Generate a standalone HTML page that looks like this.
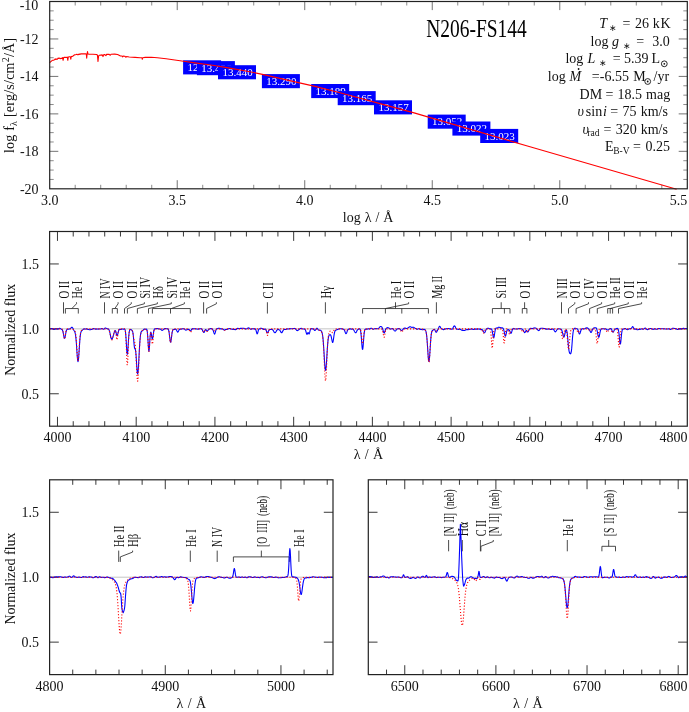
<!DOCTYPE html>
<html><head><meta charset="utf-8"><title>N206-FS144</title>
<style>html,body{margin:0;padding:0;background:#fff;}svg{display:block}</style></head>
<body><svg width="689" height="712" viewBox="0 0 689 712">
<rect width="689" height="712" fill="#fff"/>
<g opacity="0.999">
<line x1="75.20" y1="188.80" x2="75.20" y2="184.80" stroke="#666" stroke-width="0.75" />
<line x1="75.20" y1="1.50" x2="75.20" y2="5.50" stroke="#666" stroke-width="0.75" />
<line x1="100.71" y1="188.80" x2="100.71" y2="184.80" stroke="#666" stroke-width="0.75" />
<line x1="100.71" y1="1.50" x2="100.71" y2="5.50" stroke="#666" stroke-width="0.75" />
<line x1="126.21" y1="188.80" x2="126.21" y2="184.80" stroke="#666" stroke-width="0.75" />
<line x1="126.21" y1="1.50" x2="126.21" y2="5.50" stroke="#666" stroke-width="0.75" />
<line x1="151.72" y1="188.80" x2="151.72" y2="184.80" stroke="#666" stroke-width="0.75" />
<line x1="151.72" y1="1.50" x2="151.72" y2="5.50" stroke="#666" stroke-width="0.75" />
<line x1="177.22" y1="188.80" x2="177.22" y2="180.20" stroke="#444" stroke-width="0.75" />
<line x1="177.22" y1="1.50" x2="177.22" y2="10.10" stroke="#444" stroke-width="0.75" />
<line x1="202.72" y1="188.80" x2="202.72" y2="184.80" stroke="#666" stroke-width="0.75" />
<line x1="202.72" y1="1.50" x2="202.72" y2="5.50" stroke="#666" stroke-width="0.75" />
<line x1="228.23" y1="188.80" x2="228.23" y2="184.80" stroke="#666" stroke-width="0.75" />
<line x1="228.23" y1="1.50" x2="228.23" y2="5.50" stroke="#666" stroke-width="0.75" />
<line x1="253.73" y1="188.80" x2="253.73" y2="184.80" stroke="#666" stroke-width="0.75" />
<line x1="253.73" y1="1.50" x2="253.73" y2="5.50" stroke="#666" stroke-width="0.75" />
<line x1="279.24" y1="188.80" x2="279.24" y2="184.80" stroke="#666" stroke-width="0.75" />
<line x1="279.24" y1="1.50" x2="279.24" y2="5.50" stroke="#666" stroke-width="0.75" />
<line x1="304.74" y1="188.80" x2="304.74" y2="180.20" stroke="#444" stroke-width="0.75" />
<line x1="304.74" y1="1.50" x2="304.74" y2="10.10" stroke="#444" stroke-width="0.75" />
<line x1="330.24" y1="188.80" x2="330.24" y2="184.80" stroke="#666" stroke-width="0.75" />
<line x1="330.24" y1="1.50" x2="330.24" y2="5.50" stroke="#666" stroke-width="0.75" />
<line x1="355.75" y1="188.80" x2="355.75" y2="184.80" stroke="#666" stroke-width="0.75" />
<line x1="355.75" y1="1.50" x2="355.75" y2="5.50" stroke="#666" stroke-width="0.75" />
<line x1="381.25" y1="188.80" x2="381.25" y2="184.80" stroke="#666" stroke-width="0.75" />
<line x1="381.25" y1="1.50" x2="381.25" y2="5.50" stroke="#666" stroke-width="0.75" />
<line x1="406.76" y1="188.80" x2="406.76" y2="184.80" stroke="#666" stroke-width="0.75" />
<line x1="406.76" y1="1.50" x2="406.76" y2="5.50" stroke="#666" stroke-width="0.75" />
<line x1="432.26" y1="188.80" x2="432.26" y2="180.20" stroke="#444" stroke-width="0.75" />
<line x1="432.26" y1="1.50" x2="432.26" y2="10.10" stroke="#444" stroke-width="0.75" />
<line x1="457.76" y1="188.80" x2="457.76" y2="184.80" stroke="#666" stroke-width="0.75" />
<line x1="457.76" y1="1.50" x2="457.76" y2="5.50" stroke="#666" stroke-width="0.75" />
<line x1="483.27" y1="188.80" x2="483.27" y2="184.80" stroke="#666" stroke-width="0.75" />
<line x1="483.27" y1="1.50" x2="483.27" y2="5.50" stroke="#666" stroke-width="0.75" />
<line x1="508.77" y1="188.80" x2="508.77" y2="184.80" stroke="#666" stroke-width="0.75" />
<line x1="508.77" y1="1.50" x2="508.77" y2="5.50" stroke="#666" stroke-width="0.75" />
<line x1="534.28" y1="188.80" x2="534.28" y2="184.80" stroke="#666" stroke-width="0.75" />
<line x1="534.28" y1="1.50" x2="534.28" y2="5.50" stroke="#666" stroke-width="0.75" />
<line x1="559.78" y1="188.80" x2="559.78" y2="180.20" stroke="#444" stroke-width="0.75" />
<line x1="559.78" y1="1.50" x2="559.78" y2="10.10" stroke="#444" stroke-width="0.75" />
<line x1="585.28" y1="188.80" x2="585.28" y2="184.80" stroke="#666" stroke-width="0.75" />
<line x1="585.28" y1="1.50" x2="585.28" y2="5.50" stroke="#666" stroke-width="0.75" />
<line x1="610.79" y1="188.80" x2="610.79" y2="184.80" stroke="#666" stroke-width="0.75" />
<line x1="610.79" y1="1.50" x2="610.79" y2="5.50" stroke="#666" stroke-width="0.75" />
<line x1="636.29" y1="188.80" x2="636.29" y2="184.80" stroke="#666" stroke-width="0.75" />
<line x1="636.29" y1="1.50" x2="636.29" y2="5.50" stroke="#666" stroke-width="0.75" />
<line x1="661.80" y1="188.80" x2="661.80" y2="184.80" stroke="#666" stroke-width="0.75" />
<line x1="661.80" y1="1.50" x2="661.80" y2="5.50" stroke="#666" stroke-width="0.75" />
<line x1="49.70" y1="10.87" x2="53.70" y2="10.87" stroke="#666" stroke-width="0.75" />
<line x1="687.30" y1="10.87" x2="683.30" y2="10.87" stroke="#666" stroke-width="0.75" />
<line x1="49.70" y1="20.23" x2="53.70" y2="20.23" stroke="#666" stroke-width="0.75" />
<line x1="687.30" y1="20.23" x2="683.30" y2="20.23" stroke="#666" stroke-width="0.75" />
<line x1="49.70" y1="29.60" x2="53.70" y2="29.60" stroke="#666" stroke-width="0.75" />
<line x1="687.30" y1="29.60" x2="683.30" y2="29.60" stroke="#666" stroke-width="0.75" />
<line x1="49.70" y1="38.96" x2="58.30" y2="38.96" stroke="#444" stroke-width="0.75" />
<line x1="687.30" y1="38.96" x2="678.70" y2="38.96" stroke="#444" stroke-width="0.75" />
<line x1="49.70" y1="48.33" x2="53.70" y2="48.33" stroke="#666" stroke-width="0.75" />
<line x1="687.30" y1="48.33" x2="683.30" y2="48.33" stroke="#666" stroke-width="0.75" />
<line x1="49.70" y1="57.69" x2="53.70" y2="57.69" stroke="#666" stroke-width="0.75" />
<line x1="687.30" y1="57.69" x2="683.30" y2="57.69" stroke="#666" stroke-width="0.75" />
<line x1="49.70" y1="67.06" x2="53.70" y2="67.06" stroke="#666" stroke-width="0.75" />
<line x1="687.30" y1="67.06" x2="683.30" y2="67.06" stroke="#666" stroke-width="0.75" />
<line x1="49.70" y1="76.42" x2="58.30" y2="76.42" stroke="#444" stroke-width="0.75" />
<line x1="687.30" y1="76.42" x2="678.70" y2="76.42" stroke="#444" stroke-width="0.75" />
<line x1="49.70" y1="85.78" x2="53.70" y2="85.78" stroke="#666" stroke-width="0.75" />
<line x1="687.30" y1="85.78" x2="683.30" y2="85.78" stroke="#666" stroke-width="0.75" />
<line x1="49.70" y1="95.15" x2="53.70" y2="95.15" stroke="#666" stroke-width="0.75" />
<line x1="687.30" y1="95.15" x2="683.30" y2="95.15" stroke="#666" stroke-width="0.75" />
<line x1="49.70" y1="104.52" x2="53.70" y2="104.52" stroke="#666" stroke-width="0.75" />
<line x1="687.30" y1="104.52" x2="683.30" y2="104.52" stroke="#666" stroke-width="0.75" />
<line x1="49.70" y1="113.88" x2="58.30" y2="113.88" stroke="#444" stroke-width="0.75" />
<line x1="687.30" y1="113.88" x2="678.70" y2="113.88" stroke="#444" stroke-width="0.75" />
<line x1="49.70" y1="123.25" x2="53.70" y2="123.25" stroke="#666" stroke-width="0.75" />
<line x1="687.30" y1="123.25" x2="683.30" y2="123.25" stroke="#666" stroke-width="0.75" />
<line x1="49.70" y1="132.61" x2="53.70" y2="132.61" stroke="#666" stroke-width="0.75" />
<line x1="687.30" y1="132.61" x2="683.30" y2="132.61" stroke="#666" stroke-width="0.75" />
<line x1="49.70" y1="141.97" x2="53.70" y2="141.97" stroke="#666" stroke-width="0.75" />
<line x1="687.30" y1="141.97" x2="683.30" y2="141.97" stroke="#666" stroke-width="0.75" />
<line x1="49.70" y1="151.34" x2="58.30" y2="151.34" stroke="#444" stroke-width="0.75" />
<line x1="687.30" y1="151.34" x2="678.70" y2="151.34" stroke="#444" stroke-width="0.75" />
<line x1="49.70" y1="160.71" x2="53.70" y2="160.71" stroke="#666" stroke-width="0.75" />
<line x1="687.30" y1="160.71" x2="683.30" y2="160.71" stroke="#666" stroke-width="0.75" />
<line x1="49.70" y1="170.07" x2="53.70" y2="170.07" stroke="#666" stroke-width="0.75" />
<line x1="687.30" y1="170.07" x2="683.30" y2="170.07" stroke="#666" stroke-width="0.75" />
<line x1="49.70" y1="179.44" x2="53.70" y2="179.44" stroke="#666" stroke-width="0.75" />
<line x1="687.30" y1="179.44" x2="683.30" y2="179.44" stroke="#666" stroke-width="0.75" />
<text x="49.70" y="204.70" font-size="14" text-anchor="middle" fill="#111" font-family="Liberation Serif, serif" >3.0</text>
<text x="177.22" y="204.70" font-size="14" text-anchor="middle" fill="#111" font-family="Liberation Serif, serif" >3.5</text>
<text x="304.74" y="204.70" font-size="14" text-anchor="middle" fill="#111" font-family="Liberation Serif, serif" >4.0</text>
<text x="432.26" y="204.70" font-size="14" text-anchor="middle" fill="#111" font-family="Liberation Serif, serif" >4.5</text>
<text x="559.78" y="204.70" font-size="14" text-anchor="middle" fill="#111" font-family="Liberation Serif, serif" >5.0</text>
<text x="687.20" y="204.70" font-size="14" text-anchor="end" fill="#111" font-family="Liberation Serif, serif" >5.5</text>
<text x="38.60" y="43.66" font-size="14" text-anchor="end" fill="#111" font-family="Liberation Serif, serif" >-12</text>
<text x="38.60" y="81.12" font-size="14" text-anchor="end" fill="#111" font-family="Liberation Serif, serif" >-14</text>
<text x="38.60" y="118.58" font-size="14" text-anchor="end" fill="#111" font-family="Liberation Serif, serif" >-16</text>
<text x="38.60" y="156.04" font-size="14" text-anchor="end" fill="#111" font-family="Liberation Serif, serif" >-18</text>
<text x="38.60" y="193.50" font-size="14" text-anchor="end" fill="#111" font-family="Liberation Serif, serif" >-20</text>
<text x="38.30" y="10.00" font-size="14" text-anchor="end" fill="#111" font-family="Liberation Serif, serif" >-10</text>
<text x="368.10" y="222.20" font-size="14" text-anchor="middle" fill="#111" font-family="Liberation Serif, serif" word-spacing="0.5">log λ / Å</text>
<text transform="translate(14.3,153.1) rotate(-90)" font-size="14" fill="#111" font-family="Liberation Serif, serif" textLength="115.2" lengthAdjust="spacing">log f<tspan font-size="10" dy="3">λ</tspan><tspan dy="-3"> [erg/s/cm</tspan><tspan font-size="10" dy="-5">2</tspan><tspan dy="5">/Å]</tspan></text>
<rect x="183.10" y="60.30" width="38" height="14.1" fill="#0000ff"/>
<text x="187.50" y="70.90" font-size="11" text-anchor="start" fill="#fff" font-family="Liberation Serif, serif" >12.930</text>
<rect x="196.90" y="61.10" width="38" height="14.1" fill="#0000ff"/>
<text x="201.30" y="71.70" font-size="11" text-anchor="start" fill="#fff" font-family="Liberation Serif, serif" >13.456</text>
<rect x="218.00" y="65.20" width="38" height="14.1" fill="#0000ff"/>
<text x="222.40" y="75.80" font-size="11" text-anchor="start" fill="#fff" font-family="Liberation Serif, serif" >13.440</text>
<rect x="261.90" y="74.10" width="38" height="14.1" fill="#0000ff"/>
<text x="266.30" y="84.70" font-size="11" text-anchor="start" fill="#fff" font-family="Liberation Serif, serif" >13.290</text>
<rect x="311.20" y="84.00" width="38" height="14.1" fill="#0000ff"/>
<text x="315.60" y="94.60" font-size="11" text-anchor="start" fill="#fff" font-family="Liberation Serif, serif" >13.189</text>
<rect x="337.70" y="91.10" width="38" height="14.1" fill="#0000ff"/>
<text x="342.10" y="101.70" font-size="11" text-anchor="start" fill="#fff" font-family="Liberation Serif, serif" >13.165</text>
<rect x="374.00" y="100.30" width="38" height="14.1" fill="#0000ff"/>
<text x="378.40" y="110.90" font-size="11" text-anchor="start" fill="#fff" font-family="Liberation Serif, serif" >13.157</text>
<rect x="427.70" y="114.60" width="38" height="14.1" fill="#0000ff"/>
<text x="432.10" y="125.20" font-size="11" text-anchor="start" fill="#fff" font-family="Liberation Serif, serif" >13.052</text>
<rect x="452.40" y="121.50" width="38" height="14.1" fill="#0000ff"/>
<text x="456.80" y="132.10" font-size="11" text-anchor="start" fill="#fff" font-family="Liberation Serif, serif" >13.022</text>
<rect x="480.20" y="128.90" width="38" height="14.1" fill="#0000ff"/>
<text x="484.60" y="139.50" font-size="11" text-anchor="start" fill="#fff" font-family="Liberation Serif, serif" >13.023</text>
<path d="M49.4,62.9 L52.3,60.3 L53.0,60.3 L53.8,60.1 L54.5,59.8 L55.2,58.9 L55.9,59.5 L56.6,59.1 L57.4,59.2 L58.1,58.1 L58.8,58.4 L59.5,58.1 L60.3,58.7 L61.0,58.3 L61.8,58.5 L62.6,57.7 L63.1,60.3 L63.6,57.6 L64.5,57.4 L65.3,57.4 L66.3,57.5 L67.3,57.1 L67.8,60.3 L68.3,57.0 L69.3,56.8 L70.3,56.7 L70.8,59.2 L71.3,56.5 L72.2,56.4 L73.1,56.0 L74.0,55.2 L74.7,54.7 L75.5,54.7 L76.2,54.5 L76.9,54.2 L77.6,54.8 L78.4,54.6 L79.1,54.0 L79.8,54.5 L80.6,53.8 L81.3,53.9 L85.6,53.8 L86.3,54.0 L86.7,58.1 L87.1,54.0 L87.5,51.6 L87.9,53.9 L88.5,54.1 L92.9,54.2 L96.5,54.5 L97.4,55.0 L98.0,61.5 L98.6,56.0 L99.4,55.2 L102.3,54.9 L103.0,56.6 L103.6,54.8 L104.5,54.5 L105.9,55.6 L106.6,54.4 L108.9,54.2 L110.3,55.2 L111.0,54.2 L114.7,54.1 L117.6,54.5 L120.5,56.0 L122.0,56.0 L122.6,56.9 L123.2,56.1 L124.8,56.3 L126.0,57.2 L126.6,56.5 L129.2,57.0 L135.0,57.4 L140.0,57.8 L142.0,57.8 L142.3,59.3 L142.7,57.7 L145.2,57.4 L151.3,57.2 L157.4,57.7 L166.1,58.7 L174.8,60.0 L183.5,61.3 L195.0,62.9 L212.4,65.2 L229.8,68.1 L247.2,71.2 L264.7,74.9 L282.1,78.9 L299.5,82.9 L315.0,86.4 L340.0,92.8 L380.0,103.6 L415.0,113.1 L420.0,114.6 L530.0,146.8 L676.6,189.2" fill="none" stroke="#ff0000" stroke-width="1.1" stroke-linejoin="round"/>
<rect x="49.70" y="1.50" width="637.60" height="187.30" fill="none" stroke="#222" stroke-width="1.2"/>
<text x="426.30" y="37.00" font-size="26" text-anchor="start" fill="#000" font-family="Liberation Serif, serif" textLength="100.5" lengthAdjust="spacingAndGlyphs">N206-FS144</text>
<text x="599.30" y="27.70" font-size="14" fill="#111" font-family="Liberation Serif, serif" font-style="italic" >T</text>
<text x="609.00" y="30.70" font-size="9" fill="#111" font-family="Liberation Serif, serif" >∗</text>
<text x="622.40" y="27.70" font-size="14" fill="#111" font-family="Liberation Serif, serif" >=</text>
<text x="635.00" y="27.70" font-size="14" fill="#111" font-family="Liberation Serif, serif" >26</text>
<text x="652.80" y="27.70" font-size="14" fill="#111" font-family="Liberation Serif, serif" letter-spacing="0.7">kK</text>
<text x="590.60" y="45.60" font-size="14" fill="#111" font-family="Liberation Serif, serif" >log</text>
<text x="611.90" y="45.60" font-size="14" fill="#111" font-family="Liberation Serif, serif" font-style="italic" >g</text>
<text x="622.80" y="48.60" font-size="9" fill="#111" font-family="Liberation Serif, serif" >∗</text>
<text x="636.20" y="45.60" font-size="14" fill="#111" font-family="Liberation Serif, serif" >=</text>
<text x="652.20" y="45.60" font-size="14" fill="#111" font-family="Liberation Serif, serif" >3.0</text>
<text x="565.40" y="63.20" font-size="14" fill="#111" font-family="Liberation Serif, serif" >log</text>
<text x="587.50" y="63.20" font-size="14" fill="#111" font-family="Liberation Serif, serif" font-style="italic" >L</text>
<text x="599.20" y="66.20" font-size="9" fill="#111" font-family="Liberation Serif, serif" >∗</text>
<text x="612.80" y="63.20" font-size="14" fill="#111" font-family="Liberation Serif, serif" >=</text>
<text x="624.00" y="63.20" font-size="14" fill="#111" font-family="Liberation Serif, serif" >5.39</text>
<text x="651.40" y="63.20" font-size="14" fill="#111" font-family="Liberation Serif, serif" >L</text>
<circle cx="664.30" cy="63.80" r="2.9" fill="none" stroke="#111" stroke-width="0.9"/><circle cx="664.30" cy="63.80" r="0.9" fill="#111"/>
<text x="547.80" y="80.90" font-size="14" fill="#111" font-family="Liberation Serif, serif" >log</text>
<text x="569.60" y="80.90" font-size="14" fill="#111" font-family="Liberation Serif, serif" font-style="italic" >M</text>
<circle cx="578.6" cy="69.0" r="0.9" fill="#111"/>
<text x="591.80" y="80.90" font-size="14" fill="#111" font-family="Liberation Serif, serif" >=</text>
<text x="599.80" y="80.90" font-size="14" fill="#111" font-family="Liberation Serif, serif" >-6.55</text>
<text x="633.20" y="80.90" font-size="14" fill="#111" font-family="Liberation Serif, serif" >M</text>
<circle cx="647.70" cy="81.50" r="2.9" fill="none" stroke="#111" stroke-width="0.9"/><circle cx="647.70" cy="81.50" r="0.9" fill="#111"/>
<text x="653.50" y="80.90" font-size="14" fill="#111" font-family="Liberation Serif, serif" >/yr</text>
<text x="579.60" y="98.60" font-size="14" fill="#111" font-family="Liberation Serif, serif" >DM</text>
<text x="605.50" y="98.60" font-size="14" fill="#111" font-family="Liberation Serif, serif" >=</text>
<text x="617.50" y="98.60" font-size="14" fill="#111" font-family="Liberation Serif, serif" >18.5</text>
<text x="646.10" y="98.60" font-size="14" fill="#111" font-family="Liberation Serif, serif" >mag</text>
<text x="577.40" y="115.70" font-size="14" fill="#111" font-family="Liberation Serif, serif" font-style="italic" >υ</text>
<text x="585.80" y="115.70" font-size="14" fill="#111" font-family="Liberation Serif, serif" >sin</text>
<text x="603.00" y="115.70" font-size="14" fill="#111" font-family="Liberation Serif, serif" font-style="italic" >i</text>
<text x="610.30" y="115.70" font-size="14" fill="#111" font-family="Liberation Serif, serif" >=</text>
<text x="622.40" y="115.70" font-size="14" fill="#111" font-family="Liberation Serif, serif" >75</text>
<text x="640.70" y="115.70" font-size="14" fill="#111" font-family="Liberation Serif, serif" >km/s</text>
<text x="582.50" y="133.60" font-size="14" fill="#111" font-family="Liberation Serif, serif" font-style="italic" >υ</text>
<text x="587.30" y="136.10" font-size="9.5" fill="#111" font-family="Liberation Serif, serif" >rad</text>
<text x="603.40" y="133.60" font-size="14" fill="#111" font-family="Liberation Serif, serif" >=</text>
<text x="615.70" y="133.60" font-size="14" fill="#111" font-family="Liberation Serif, serif" >320</text>
<text x="640.70" y="133.60" font-size="14" fill="#111" font-family="Liberation Serif, serif" >km/s</text>
<text x="604.90" y="151.10" font-size="14" fill="#111" font-family="Liberation Serif, serif" >E</text>
<text x="613.20" y="153.60" font-size="9.5" fill="#111" font-family="Liberation Serif, serif" >B-V</text>
<text x="633.10" y="151.10" font-size="14" fill="#111" font-family="Liberation Serif, serif" >=</text>
<text x="645.50" y="151.10" font-size="14" fill="#111" font-family="Liberation Serif, serif" >0.25</text>
<clipPath id="cpm"><rect x="49.6" y="231.5" width="637.6999999999999" height="194.7"/></clipPath>
<line x1="49.60" y1="328.85" x2="687.30" y2="328.85" stroke="#bdbdbd" stroke-width="0.9" />
<line x1="57.47" y1="426.20" x2="57.47" y2="416.80" stroke="#222" stroke-width="0.9" />
<line x1="57.47" y1="231.50" x2="57.47" y2="240.90" stroke="#222" stroke-width="0.9" />
<line x1="73.22" y1="426.20" x2="73.22" y2="421.20" stroke="#222" stroke-width="0.9" />
<line x1="73.22" y1="231.50" x2="73.22" y2="236.50" stroke="#222" stroke-width="0.9" />
<line x1="88.96" y1="426.20" x2="88.96" y2="421.20" stroke="#222" stroke-width="0.9" />
<line x1="88.96" y1="231.50" x2="88.96" y2="236.50" stroke="#222" stroke-width="0.9" />
<line x1="104.71" y1="426.20" x2="104.71" y2="421.20" stroke="#222" stroke-width="0.9" />
<line x1="104.71" y1="231.50" x2="104.71" y2="236.50" stroke="#222" stroke-width="0.9" />
<line x1="120.46" y1="426.20" x2="120.46" y2="421.20" stroke="#222" stroke-width="0.9" />
<line x1="120.46" y1="231.50" x2="120.46" y2="236.50" stroke="#222" stroke-width="0.9" />
<line x1="136.20" y1="426.20" x2="136.20" y2="416.80" stroke="#222" stroke-width="0.9" />
<line x1="136.20" y1="231.50" x2="136.20" y2="240.90" stroke="#222" stroke-width="0.9" />
<line x1="151.95" y1="426.20" x2="151.95" y2="421.20" stroke="#222" stroke-width="0.9" />
<line x1="151.95" y1="231.50" x2="151.95" y2="236.50" stroke="#222" stroke-width="0.9" />
<line x1="167.69" y1="426.20" x2="167.69" y2="421.20" stroke="#222" stroke-width="0.9" />
<line x1="167.69" y1="231.50" x2="167.69" y2="236.50" stroke="#222" stroke-width="0.9" />
<line x1="183.44" y1="426.20" x2="183.44" y2="421.20" stroke="#222" stroke-width="0.9" />
<line x1="183.44" y1="231.50" x2="183.44" y2="236.50" stroke="#222" stroke-width="0.9" />
<line x1="199.18" y1="426.20" x2="199.18" y2="421.20" stroke="#222" stroke-width="0.9" />
<line x1="199.18" y1="231.50" x2="199.18" y2="236.50" stroke="#222" stroke-width="0.9" />
<line x1="214.93" y1="426.20" x2="214.93" y2="416.80" stroke="#222" stroke-width="0.9" />
<line x1="214.93" y1="231.50" x2="214.93" y2="240.90" stroke="#222" stroke-width="0.9" />
<line x1="230.68" y1="426.20" x2="230.68" y2="421.20" stroke="#222" stroke-width="0.9" />
<line x1="230.68" y1="231.50" x2="230.68" y2="236.50" stroke="#222" stroke-width="0.9" />
<line x1="246.42" y1="426.20" x2="246.42" y2="421.20" stroke="#222" stroke-width="0.9" />
<line x1="246.42" y1="231.50" x2="246.42" y2="236.50" stroke="#222" stroke-width="0.9" />
<line x1="262.17" y1="426.20" x2="262.17" y2="421.20" stroke="#222" stroke-width="0.9" />
<line x1="262.17" y1="231.50" x2="262.17" y2="236.50" stroke="#222" stroke-width="0.9" />
<line x1="277.91" y1="426.20" x2="277.91" y2="421.20" stroke="#222" stroke-width="0.9" />
<line x1="277.91" y1="231.50" x2="277.91" y2="236.50" stroke="#222" stroke-width="0.9" />
<line x1="293.66" y1="426.20" x2="293.66" y2="416.80" stroke="#222" stroke-width="0.9" />
<line x1="293.66" y1="231.50" x2="293.66" y2="240.90" stroke="#222" stroke-width="0.9" />
<line x1="309.40" y1="426.20" x2="309.40" y2="421.20" stroke="#222" stroke-width="0.9" />
<line x1="309.40" y1="231.50" x2="309.40" y2="236.50" stroke="#222" stroke-width="0.9" />
<line x1="325.15" y1="426.20" x2="325.15" y2="421.20" stroke="#222" stroke-width="0.9" />
<line x1="325.15" y1="231.50" x2="325.15" y2="236.50" stroke="#222" stroke-width="0.9" />
<line x1="340.90" y1="426.20" x2="340.90" y2="421.20" stroke="#222" stroke-width="0.9" />
<line x1="340.90" y1="231.50" x2="340.90" y2="236.50" stroke="#222" stroke-width="0.9" />
<line x1="356.64" y1="426.20" x2="356.64" y2="421.20" stroke="#222" stroke-width="0.9" />
<line x1="356.64" y1="231.50" x2="356.64" y2="236.50" stroke="#222" stroke-width="0.9" />
<line x1="372.39" y1="426.20" x2="372.39" y2="416.80" stroke="#222" stroke-width="0.9" />
<line x1="372.39" y1="231.50" x2="372.39" y2="240.90" stroke="#222" stroke-width="0.9" />
<line x1="388.13" y1="426.20" x2="388.13" y2="421.20" stroke="#222" stroke-width="0.9" />
<line x1="388.13" y1="231.50" x2="388.13" y2="236.50" stroke="#222" stroke-width="0.9" />
<line x1="403.88" y1="426.20" x2="403.88" y2="421.20" stroke="#222" stroke-width="0.9" />
<line x1="403.88" y1="231.50" x2="403.88" y2="236.50" stroke="#222" stroke-width="0.9" />
<line x1="419.62" y1="426.20" x2="419.62" y2="421.20" stroke="#222" stroke-width="0.9" />
<line x1="419.62" y1="231.50" x2="419.62" y2="236.50" stroke="#222" stroke-width="0.9" />
<line x1="435.37" y1="426.20" x2="435.37" y2="421.20" stroke="#222" stroke-width="0.9" />
<line x1="435.37" y1="231.50" x2="435.37" y2="236.50" stroke="#222" stroke-width="0.9" />
<line x1="451.11" y1="426.20" x2="451.11" y2="416.80" stroke="#222" stroke-width="0.9" />
<line x1="451.11" y1="231.50" x2="451.11" y2="240.90" stroke="#222" stroke-width="0.9" />
<line x1="466.86" y1="426.20" x2="466.86" y2="421.20" stroke="#222" stroke-width="0.9" />
<line x1="466.86" y1="231.50" x2="466.86" y2="236.50" stroke="#222" stroke-width="0.9" />
<line x1="482.61" y1="426.20" x2="482.61" y2="421.20" stroke="#222" stroke-width="0.9" />
<line x1="482.61" y1="231.50" x2="482.61" y2="236.50" stroke="#222" stroke-width="0.9" />
<line x1="498.35" y1="426.20" x2="498.35" y2="421.20" stroke="#222" stroke-width="0.9" />
<line x1="498.35" y1="231.50" x2="498.35" y2="236.50" stroke="#222" stroke-width="0.9" />
<line x1="514.10" y1="426.20" x2="514.10" y2="421.20" stroke="#222" stroke-width="0.9" />
<line x1="514.10" y1="231.50" x2="514.10" y2="236.50" stroke="#222" stroke-width="0.9" />
<line x1="529.84" y1="426.20" x2="529.84" y2="416.80" stroke="#222" stroke-width="0.9" />
<line x1="529.84" y1="231.50" x2="529.84" y2="240.90" stroke="#222" stroke-width="0.9" />
<line x1="545.59" y1="426.20" x2="545.59" y2="421.20" stroke="#222" stroke-width="0.9" />
<line x1="545.59" y1="231.50" x2="545.59" y2="236.50" stroke="#222" stroke-width="0.9" />
<line x1="561.33" y1="426.20" x2="561.33" y2="421.20" stroke="#222" stroke-width="0.9" />
<line x1="561.33" y1="231.50" x2="561.33" y2="236.50" stroke="#222" stroke-width="0.9" />
<line x1="577.08" y1="426.20" x2="577.08" y2="421.20" stroke="#222" stroke-width="0.9" />
<line x1="577.08" y1="231.50" x2="577.08" y2="236.50" stroke="#222" stroke-width="0.9" />
<line x1="592.83" y1="426.20" x2="592.83" y2="421.20" stroke="#222" stroke-width="0.9" />
<line x1="592.83" y1="231.50" x2="592.83" y2="236.50" stroke="#222" stroke-width="0.9" />
<line x1="608.57" y1="426.20" x2="608.57" y2="416.80" stroke="#222" stroke-width="0.9" />
<line x1="608.57" y1="231.50" x2="608.57" y2="240.90" stroke="#222" stroke-width="0.9" />
<line x1="624.32" y1="426.20" x2="624.32" y2="421.20" stroke="#222" stroke-width="0.9" />
<line x1="624.32" y1="231.50" x2="624.32" y2="236.50" stroke="#222" stroke-width="0.9" />
<line x1="640.06" y1="426.20" x2="640.06" y2="421.20" stroke="#222" stroke-width="0.9" />
<line x1="640.06" y1="231.50" x2="640.06" y2="236.50" stroke="#222" stroke-width="0.9" />
<line x1="655.81" y1="426.20" x2="655.81" y2="421.20" stroke="#222" stroke-width="0.9" />
<line x1="655.81" y1="231.50" x2="655.81" y2="236.50" stroke="#222" stroke-width="0.9" />
<line x1="671.55" y1="426.20" x2="671.55" y2="421.20" stroke="#222" stroke-width="0.9" />
<line x1="671.55" y1="231.50" x2="671.55" y2="236.50" stroke="#222" stroke-width="0.9" />
<line x1="49.60" y1="393.75" x2="58.80" y2="393.75" stroke="#222" stroke-width="0.9" />
<line x1="687.30" y1="393.75" x2="678.10" y2="393.75" stroke="#222" stroke-width="0.9" />
<text x="39.00" y="398.75" font-size="14" text-anchor="end" fill="#111" font-family="Liberation Serif, serif" >0.5</text>
<line x1="49.60" y1="328.85" x2="58.80" y2="328.85" stroke="#222" stroke-width="0.9" />
<line x1="687.30" y1="328.85" x2="678.10" y2="328.85" stroke="#222" stroke-width="0.9" />
<text x="39.00" y="333.85" font-size="14" text-anchor="end" fill="#111" font-family="Liberation Serif, serif" >1.0</text>
<line x1="49.60" y1="263.95" x2="58.80" y2="263.95" stroke="#222" stroke-width="0.9" />
<line x1="687.30" y1="263.95" x2="678.10" y2="263.95" stroke="#222" stroke-width="0.9" />
<text x="39.00" y="268.95" font-size="14" text-anchor="end" fill="#111" font-family="Liberation Serif, serif" >1.5</text>
<text x="57.47" y="442.40" font-size="14" text-anchor="middle" fill="#111" font-family="Liberation Serif, serif" >4000</text>
<text x="136.20" y="442.40" font-size="14" text-anchor="middle" fill="#111" font-family="Liberation Serif, serif" >4100</text>
<text x="214.93" y="442.40" font-size="14" text-anchor="middle" fill="#111" font-family="Liberation Serif, serif" >4200</text>
<text x="293.66" y="442.40" font-size="14" text-anchor="middle" fill="#111" font-family="Liberation Serif, serif" >4300</text>
<text x="372.39" y="442.40" font-size="14" text-anchor="middle" fill="#111" font-family="Liberation Serif, serif" >4400</text>
<text x="451.11" y="442.40" font-size="14" text-anchor="middle" fill="#111" font-family="Liberation Serif, serif" >4500</text>
<text x="529.84" y="442.40" font-size="14" text-anchor="middle" fill="#111" font-family="Liberation Serif, serif" >4600</text>
<text x="608.57" y="442.40" font-size="14" text-anchor="middle" fill="#111" font-family="Liberation Serif, serif" >4700</text>
<text x="687.40" y="442.40" font-size="14" text-anchor="end" fill="#111" font-family="Liberation Serif, serif" >4800</text>
<text x="368.45" y="459.20" font-size="14" text-anchor="middle" fill="#111" font-family="Liberation Serif, serif" word-spacing="0.85">λ / Å</text>
<path d="M63.50,313.55 L63.50,302.25" fill="none" stroke="#2a2a2a" stroke-width="0.85" stroke-linejoin="miter"/>
<text transform="translate(68.70,298.55) rotate(-90) scale(0.7855,1)" font-size="13.6" fill="#111" font-family="Liberation Serif, serif" word-spacing="0">O II</text>
<path d="M65.40,313.55 L65.40,308.55 L78.30,308.55 L78.30,313.55" fill="none" stroke="#2a2a2a" stroke-width="0.85" stroke-linejoin="miter"/>
<path d="M71.85,308.55 L76.50,303.75 L76.50,302.25" fill="none" stroke="#2a2a2a" stroke-width="0.85" stroke-linejoin="miter"/>
<text transform="translate(81.70,298.55) rotate(-90) scale(0.7399,1)" font-size="13.6" fill="#111" font-family="Liberation Serif, serif" word-spacing="0">He I</text>
<path d="M104.50,313.55 L104.50,302.25" fill="none" stroke="#2a2a2a" stroke-width="0.85" stroke-linejoin="miter"/>
<text transform="translate(109.70,298.55) rotate(-90) scale(0.7290,1)" font-size="13.6" fill="#111" font-family="Liberation Serif, serif" word-spacing="0">N IV</text>
<path d="M112.30,313.55 L112.30,308.55 L117.35,308.55 L117.35,313.55" fill="none" stroke="#2a2a2a" stroke-width="0.85" stroke-linejoin="miter"/>
<path d="M114.82,308.55 L118.10,303.75 L118.10,302.25" fill="none" stroke="#2a2a2a" stroke-width="0.85" stroke-linejoin="miter"/>
<text transform="translate(123.30,298.55) rotate(-90) scale(0.7855,1)" font-size="13.6" fill="#111" font-family="Liberation Serif, serif" word-spacing="0">O II</text>
<path d="M124.50,313.55 L124.50,308.55 L131.30,303.75 L131.30,302.25" fill="none" stroke="#2a2a2a" stroke-width="0.85" stroke-linejoin="miter"/>
<text transform="translate(136.50,298.55) rotate(-90) scale(0.7855,1)" font-size="13.6" fill="#111" font-family="Liberation Serif, serif" word-spacing="0">O II</text>
<path d="M127.40,313.55 L127.40,308.55 L144.40,303.75 L144.40,302.25" fill="none" stroke="#2a2a2a" stroke-width="0.85" stroke-linejoin="miter"/>
<text transform="translate(149.60,298.55) rotate(-90) scale(0.7425,1)" font-size="13.6" fill="#111" font-family="Liberation Serif, serif" word-spacing="0">Si IV</text>
<path d="M137.40,313.55 L137.40,308.55 L157.40,303.75 L157.40,302.25" fill="none" stroke="#2a2a2a" stroke-width="0.85" stroke-linejoin="miter"/>
<text transform="translate(162.60,298.55) rotate(-90) scale(0.7579,1)" font-size="13.6" fill="#111" font-family="Liberation Serif, serif" word-spacing="0">Hδ</text>
<path d="M148.50,313.55 L148.50,308.55 L171.30,303.75 L171.30,302.25" fill="none" stroke="#2a2a2a" stroke-width="0.85" stroke-linejoin="miter"/>
<text transform="translate(176.50,298.55) rotate(-90) scale(0.7425,1)" font-size="13.6" fill="#111" font-family="Liberation Serif, serif" word-spacing="0">Si IV</text>
<path d="M152.40,313.55 L152.40,308.55 L190.30,308.55 L190.30,313.55" fill="none" stroke="#2a2a2a" stroke-width="0.85" stroke-linejoin="miter"/>
<path d="M170.50,313.55 L170.50,308.55" fill="none" stroke="#2a2a2a" stroke-width="0.85" stroke-linejoin="miter"/>
<path d="M171.35,308.55 L184.40,303.75 L184.40,302.25" fill="none" stroke="#2a2a2a" stroke-width="0.85" stroke-linejoin="miter"/>
<text transform="translate(189.60,298.55) rotate(-90) scale(0.7399,1)" font-size="13.6" fill="#111" font-family="Liberation Serif, serif" word-spacing="0">He I</text>
<path d="M203.60,313.55 L203.60,302.25" fill="none" stroke="#2a2a2a" stroke-width="0.85" stroke-linejoin="miter"/>
<text transform="translate(208.80,298.55) rotate(-90) scale(0.7855,1)" font-size="13.6" fill="#111" font-family="Liberation Serif, serif" word-spacing="0">O II</text>
<path d="M206.60,313.55 L206.60,308.55 L216.40,303.75 L216.40,302.25" fill="none" stroke="#2a2a2a" stroke-width="0.85" stroke-linejoin="miter"/>
<text transform="translate(221.60,298.55) rotate(-90) scale(0.7855,1)" font-size="13.6" fill="#111" font-family="Liberation Serif, serif" word-spacing="0">O II</text>
<path d="M267.40,313.55 L267.40,302.25" fill="none" stroke="#2a2a2a" stroke-width="0.85" stroke-linejoin="miter"/>
<text transform="translate(272.60,298.55) rotate(-90) scale(0.7525,1)" font-size="13.6" fill="#111" font-family="Liberation Serif, serif" word-spacing="0">C II</text>
<path d="M325.40,313.55 L325.40,302.25" fill="none" stroke="#2a2a2a" stroke-width="0.85" stroke-linejoin="miter"/>
<text transform="translate(330.60,298.55) rotate(-90) scale(0.7896,1)" font-size="13.6" fill="#111" font-family="Liberation Serif, serif" word-spacing="0">Hγ</text>
<path d="M362.60,313.55 L362.60,308.55 L428.40,308.55 L428.40,313.55" fill="none" stroke="#2a2a2a" stroke-width="0.85" stroke-linejoin="miter"/>
<path d="M401.80,313.55 L401.80,308.55" fill="none" stroke="#2a2a2a" stroke-width="0.85" stroke-linejoin="miter"/>
<path d="M395.50,308.55 L395.50,302.25" fill="none" stroke="#2a2a2a" stroke-width="0.85" stroke-linejoin="miter"/>
<text transform="translate(400.70,298.55) rotate(-90) scale(0.7399,1)" font-size="13.6" fill="#111" font-family="Liberation Serif, serif" word-spacing="0">He I</text>
<path d="M385.40,313.55 L385.40,308.55 L408.60,303.75 L408.60,302.25" fill="none" stroke="#2a2a2a" stroke-width="0.85" stroke-linejoin="miter"/>
<text transform="translate(413.80,298.55) rotate(-90) scale(0.7855,1)" font-size="13.6" fill="#111" font-family="Liberation Serif, serif" word-spacing="0">O II</text>
<path d="M436.40,313.55 L436.40,302.25" fill="none" stroke="#2a2a2a" stroke-width="0.85" stroke-linejoin="miter"/>
<text transform="translate(441.60,298.55) rotate(-90) scale(0.7241,1)" font-size="13.6" fill="#111" font-family="Liberation Serif, serif" word-spacing="0">Mg II</text>
<path d="M492.40,313.55 L492.40,308.55 L510.00,308.55 L510.00,313.55" fill="none" stroke="#2a2a2a" stroke-width="0.85" stroke-linejoin="miter"/>
<path d="M504.40,313.55 L504.40,308.55" fill="none" stroke="#2a2a2a" stroke-width="0.85" stroke-linejoin="miter"/>
<path d="M501.20,308.55 L501.20,302.25" fill="none" stroke="#2a2a2a" stroke-width="0.85" stroke-linejoin="miter"/>
<text transform="translate(506.40,298.55) rotate(-90) scale(0.7625,1)" font-size="13.6" fill="#111" font-family="Liberation Serif, serif" word-spacing="0">Si III</text>
<path d="M522.30,313.55 L522.30,308.55 L526.90,308.55 L526.90,313.55" fill="none" stroke="#2a2a2a" stroke-width="0.85" stroke-linejoin="miter"/>
<path d="M524.60,308.55 L524.60,302.25" fill="none" stroke="#2a2a2a" stroke-width="0.85" stroke-linejoin="miter"/>
<text transform="translate(529.80,298.55) rotate(-90) scale(0.7855,1)" font-size="13.6" fill="#111" font-family="Liberation Serif, serif" word-spacing="0">O II</text>
<path d="M561.50,313.55 L561.50,302.25" fill="none" stroke="#2a2a2a" stroke-width="0.85" stroke-linejoin="miter"/>
<text transform="translate(566.70,298.55) rotate(-90) scale(0.7498,1)" font-size="13.6" fill="#111" font-family="Liberation Serif, serif" word-spacing="0">N III</text>
<path d="M568.50,313.55 L568.50,308.55 L574.80,303.75 L574.80,302.25" fill="none" stroke="#2a2a2a" stroke-width="0.85" stroke-linejoin="miter"/>
<text transform="translate(580.00,298.55) rotate(-90) scale(0.7855,1)" font-size="13.6" fill="#111" font-family="Liberation Serif, serif" word-spacing="0">O II</text>
<path d="M576.10,313.55 L576.10,308.55 L588.50,303.75 L588.50,302.25" fill="none" stroke="#2a2a2a" stroke-width="0.85" stroke-linejoin="miter"/>
<text transform="translate(593.70,298.55) rotate(-90) scale(0.7568,1)" font-size="13.6" fill="#111" font-family="Liberation Serif, serif" word-spacing="0">C IV</text>
<path d="M589.60,313.55 L589.60,308.55 L601.60,303.75 L601.60,302.25" fill="none" stroke="#2a2a2a" stroke-width="0.85" stroke-linejoin="miter"/>
<text transform="translate(606.80,298.55) rotate(-90) scale(0.7855,1)" font-size="13.6" fill="#111" font-family="Liberation Serif, serif" word-spacing="0">O II</text>
<path d="M597.30,313.55 L597.30,308.55 L614.70,303.75 L614.70,302.25" fill="none" stroke="#2a2a2a" stroke-width="0.85" stroke-linejoin="miter"/>
<text transform="translate(619.90,298.55) rotate(-90) scale(0.7522,1)" font-size="13.6" fill="#111" font-family="Liberation Serif, serif" word-spacing="0">He II</text>
<path d="M607.70,313.55 L607.70,308.55 L612.60,308.55 L612.60,313.55" fill="none" stroke="#2a2a2a" stroke-width="0.85" stroke-linejoin="miter"/>
<path d="M610.20,313.55 L610.20,308.55" fill="none" stroke="#2a2a2a" stroke-width="0.85" stroke-linejoin="miter"/>
<path d="M610.15,308.55 L628.30,303.75 L628.30,302.25" fill="none" stroke="#2a2a2a" stroke-width="0.85" stroke-linejoin="miter"/>
<text transform="translate(633.50,298.55) rotate(-90) scale(0.7855,1)" font-size="13.6" fill="#111" font-family="Liberation Serif, serif" word-spacing="0">O II</text>
<path d="M618.50,313.55 L618.50,308.55 L641.60,303.75 L641.60,302.25" fill="none" stroke="#2a2a2a" stroke-width="0.85" stroke-linejoin="miter"/>
<text transform="translate(646.80,298.55) rotate(-90) scale(0.7399,1)" font-size="13.6" fill="#111" font-family="Liberation Serif, serif" word-spacing="0">He I</text>
<path d="M49.60,328.69 L49.93,328.69 L50.26,328.67 L50.59,328.65 L50.92,328.65 L51.25,328.66 L51.58,328.69 L51.91,328.71 L52.24,328.75 L52.57,328.84 L52.90,329.02 L53.23,329.23 L53.56,329.38 L53.89,329.45 L54.22,329.43 L54.55,329.34 L54.88,329.19 L55.21,328.99 L55.54,328.81 L55.87,328.69 L56.20,328.68 L56.53,328.75 L56.86,328.86 L57.19,328.99 L57.52,329.09 L57.85,329.11 L58.18,329.03 L58.51,328.86 L58.84,328.65 L59.17,328.46 L59.50,328.35 L59.83,328.32 L60.16,328.42 L60.49,328.63 L60.82,328.92 L61.15,329.20 L61.48,329.39 L61.81,329.51 L62.14,329.66 L62.47,330.07 L62.80,330.95 L63.13,332.38 L63.46,334.22 L63.79,336.14 L64.12,337.67 L64.45,338.37 L64.78,338.05 L65.11,336.81 L65.44,335.03 L65.77,333.16 L66.10,331.58 L66.43,330.45 L66.76,329.77 L67.09,329.42 L67.42,329.28 L67.75,329.23 L68.08,329.21 L68.41,329.16 L68.74,329.11 L69.07,329.06 L69.40,329.03 L69.73,328.95 L70.06,328.79 L70.39,328.53 L70.72,328.19 L71.05,327.83 L71.38,327.53 L71.71,327.34 L72.04,327.33 L72.37,327.53 L72.70,327.98 L73.03,328.60 L73.36,329.30 L73.69,329.97 L74.02,330.55 L74.35,331.06 L74.68,331.64 L75.01,332.48 L75.34,333.80 L75.67,335.86 L76.00,338.84 L76.33,342.79 L76.66,347.53 L76.99,352.57 L77.32,357.13 L77.65,360.39 L77.98,361.69 L78.31,360.75 L78.64,357.78 L78.97,353.32 L79.30,348.19 L79.63,343.18 L79.96,338.89 L80.29,335.64 L80.62,333.44 L80.95,332.09 L81.28,331.30 L81.61,330.82 L81.94,330.49 L82.27,330.21 L82.60,329.94 L82.93,329.67 L83.26,329.38 L83.59,329.10 L83.92,328.92 L84.25,328.88 L84.58,328.95 L84.91,329.04 L85.24,329.08 L85.57,329.05 L85.90,328.97 L86.23,328.90 L86.56,328.90 L86.89,328.99 L87.22,329.14 L87.55,329.28 L87.88,329.35 L88.21,329.39 L88.54,329.44 L88.87,329.55 L89.20,329.68 L89.53,329.75 L89.86,329.76 L90.19,329.71 L90.52,329.62 L90.85,329.52 L91.18,329.43 L91.51,329.39 L91.84,329.36 L92.17,329.29 L92.50,329.12 L92.83,328.89 L93.16,328.67 L93.49,328.55 L93.82,328.57 L94.15,328.68 L94.48,328.83 L94.81,328.97 L95.14,329.06 L95.47,329.11 L95.80,329.12 L96.13,329.13 L96.46,329.11 L96.79,329.07 L97.12,329.04 L97.45,329.04 L97.78,329.08 L98.11,329.13 L98.44,329.12 L98.77,329.05 L99.10,328.96 L99.43,328.93 L99.76,328.99 L100.09,329.05 L100.42,329.03 L100.75,328.91 L101.08,328.73 L101.41,328.58 L101.74,328.52 L102.07,328.54 L102.40,328.65 L102.73,328.83 L103.06,329.06 L103.39,329.21 L103.72,329.19 L104.05,328.97 L104.38,328.63 L104.71,328.30 L105.04,328.09 L105.37,328.01 L105.70,328.04 L106.03,328.20 L106.36,328.39 L106.69,328.58 L107.02,328.70 L107.35,328.75 L107.68,328.80 L108.01,328.88 L108.34,329.05 L108.67,329.32 L109.00,329.81 L109.33,330.59 L109.66,331.76 L109.99,333.24 L110.32,334.91 L110.65,336.53 L110.98,337.88 L111.31,338.79 L111.64,339.20 L111.97,339.11 L112.30,338.59 L112.63,337.77 L112.96,336.77 L113.29,335.68 L113.62,334.54 L113.95,333.39 L114.28,332.28 L114.61,331.33 L114.94,330.70 L115.27,330.54 L115.60,330.96 L115.93,331.97 L116.26,333.37 L116.59,334.76 L116.92,335.64 L117.25,335.69 L117.58,334.91 L117.91,333.61 L118.24,332.20 L118.57,330.98 L118.90,330.07 L119.23,329.51 L119.56,329.26 L119.89,329.24 L120.22,329.36 L120.55,329.50 L120.88,329.56 L121.21,329.50 L121.54,329.35 L121.87,329.17 L122.20,329.04 L122.53,329.00 L122.86,329.05 L123.19,329.14 L123.52,329.21 L123.85,329.18 L124.18,329.05 L124.51,328.95 L124.84,329.16 L125.17,330.03 L125.50,331.99 L125.83,335.40 L126.16,340.28 L126.49,345.98 L126.82,351.18 L127.15,354.22 L127.48,354.07 L127.81,350.83 L128.14,345.71 L128.47,340.31 L128.80,335.83 L129.13,332.74 L129.46,330.92 L129.79,330.00 L130.12,329.57 L130.45,329.43 L130.78,329.44 L131.11,329.60 L131.44,329.86 L131.77,330.18 L132.10,330.54 L132.43,331.04 L132.76,331.97 L133.09,333.73 L133.42,336.61 L133.75,340.44 L134.08,344.38 L134.41,347.33 L134.74,348.71 L135.07,349.02 L135.40,349.53 L135.73,351.47 L136.06,355.24 L136.39,360.34 L136.72,365.78 L137.05,370.43 L137.38,373.33 L137.71,373.90 L138.04,371.96 L138.37,367.84 L138.70,362.24 L139.03,355.97 L139.36,349.81 L139.69,344.31 L140.02,339.78 L140.35,336.33 L140.68,333.92 L141.01,332.40 L141.34,331.56 L141.67,331.14 L142.00,330.91 L142.33,330.73 L142.66,330.52 L142.99,330.25 L143.32,329.93 L143.65,329.57 L143.98,329.28 L144.31,329.12 L144.64,329.11 L144.97,329.17 L145.30,329.23 L145.63,329.20 L145.96,329.12 L146.29,329.04 L146.62,329.15 L146.95,329.80 L147.28,331.49 L147.61,334.75 L147.94,339.61 L148.27,345.19 L148.60,349.71 L148.93,351.35 L149.26,349.37 L149.59,344.71 L149.92,339.30 L150.25,334.95 L150.58,332.55 L150.91,332.14 L151.24,333.31 L151.57,335.42 L151.90,337.63 L152.23,339.00 L152.56,338.87 L152.89,337.28 L153.22,334.87 L153.55,332.47 L153.88,330.64 L154.21,329.52 L154.54,328.96 L154.87,328.77 L155.20,328.75 L155.53,328.75 L155.86,328.73 L156.19,328.66 L156.52,328.58 L156.85,328.54 L157.18,328.55 L157.51,328.61 L157.84,328.67 L158.17,328.75 L158.50,328.82 L158.83,328.89 L159.16,328.96 L159.49,329.01 L159.82,329.04 L160.15,329.08 L160.48,329.20 L160.81,329.41 L161.14,329.73 L161.47,330.08 L161.80,330.33 L162.13,330.42 L162.46,330.31 L162.79,330.10 L163.12,329.84 L163.45,329.57 L163.78,329.30 L164.11,329.00 L164.44,328.73 L164.77,328.55 L165.10,328.48 L165.43,328.53 L165.76,328.64 L166.09,328.74 L166.42,328.80 L166.75,328.79 L167.08,328.75 L167.41,328.72 L167.74,328.77 L168.07,328.97 L168.40,329.49 L168.73,330.50 L169.06,332.21 L169.39,334.63 L169.72,337.48 L170.05,340.16 L170.38,341.93 L170.71,342.24 L171.04,340.95 L171.37,338.50 L171.70,335.64 L172.03,333.09 L172.36,331.30 L172.69,330.29 L173.02,329.84 L173.35,329.68 L173.68,329.59 L174.01,329.50 L174.34,329.42 L174.67,329.35 L175.00,329.29 L175.33,329.26 L175.66,329.28 L175.99,329.43 L176.32,329.79 L176.65,330.37 L176.98,331.07 L177.31,331.71 L177.64,332.08 L177.97,332.04 L178.30,331.58 L178.63,330.86 L178.96,330.13 L179.29,329.58 L179.62,329.26 L179.95,329.14 L180.28,329.15 L180.61,329.19 L180.94,329.20 L181.27,329.16 L181.60,329.08 L181.93,328.98 L182.26,328.89 L182.59,328.82 L182.92,328.76 L183.25,328.71 L183.58,328.68 L183.91,328.74 L184.24,328.89 L184.57,329.15 L184.90,329.49 L185.23,329.83 L185.56,330.07 L185.89,330.14 L186.22,330.07 L186.55,329.91 L186.88,329.76 L187.21,329.63 L187.54,329.51 L187.87,329.39 L188.20,329.29 L188.53,329.27 L188.86,329.39 L189.19,329.69 L189.52,330.13 L189.85,330.58 L190.18,330.87 L190.51,330.88 L190.84,330.60 L191.17,330.13 L191.50,329.60 L191.83,329.14 L192.16,328.80 L192.49,328.63 L192.82,328.61 L193.15,328.69 L193.48,328.80 L193.81,328.86 L194.14,328.84 L194.47,328.77 L194.80,328.70 L195.13,328.68 L195.46,328.73 L195.79,328.84 L196.12,328.95 L196.45,329.01 L196.78,329.03 L197.11,329.05 L197.44,329.10 L197.77,329.19 L198.10,329.23 L198.43,329.20 L198.76,329.09 L199.09,328.98 L199.42,328.91 L199.75,328.84 L200.08,328.79 L200.41,328.74 L200.74,328.69 L201.07,328.69 L201.40,328.77 L201.73,329.00 L202.06,329.41 L202.39,329.99 L202.72,330.71 L203.05,331.47 L203.38,332.11 L203.71,332.46 L204.04,332.38 L204.37,331.88 L204.70,331.10 L205.03,330.28 L205.36,329.70 L205.69,329.50 L206.02,329.70 L206.35,330.18 L206.68,330.69 L207.01,330.99 L207.34,330.99 L207.67,330.72 L208.00,330.31 L208.33,329.87 L208.66,329.49 L208.99,329.21 L209.32,329.04 L209.65,328.93 L209.98,328.83 L210.31,328.71 L210.64,328.59 L210.97,328.52 L211.30,328.54 L211.63,328.63 L211.96,328.81 L212.29,329.07 L212.62,329.47 L212.95,330.05 L213.28,330.84 L213.61,331.82 L213.94,332.88 L214.27,333.73 L214.60,334.07 L214.93,333.70 L215.26,332.70 L215.59,331.41 L215.92,330.22 L216.25,329.38 L216.58,328.94 L216.91,328.78 L217.24,328.71 L217.57,328.63 L217.90,328.50 L218.23,328.37 L218.56,328.27 L218.89,328.24 L219.22,328.27 L219.55,328.39 L219.88,328.56 L220.21,328.73 L220.54,328.84 L220.87,328.88 L221.20,328.90 L221.53,328.91 L221.86,328.92 L222.19,328.93 L222.52,328.98 L222.85,329.10 L223.18,329.33 L223.51,329.64 L223.84,329.95 L224.17,330.13 L224.50,330.11 L224.83,329.93 L225.16,329.68 L225.49,329.51 L225.82,329.44 L226.15,329.45 L226.48,329.47 L226.81,329.44 L227.14,329.37 L227.47,329.25 L227.80,329.11 L228.13,328.95 L228.46,328.80 L228.79,328.66 L229.12,328.56 L229.45,328.52 L229.78,328.53 L230.11,328.57 L230.44,328.65 L230.77,328.75 L231.10,328.90 L231.43,329.05 L231.76,329.16 L232.09,329.24 L232.42,329.30 L232.75,329.33 L233.08,329.35 L233.41,329.33 L233.74,329.31 L234.07,329.34 L234.40,329.41 L234.73,329.53 L235.06,329.63 L235.39,329.66 L235.72,329.59 L236.05,329.44 L236.38,329.22 L236.71,328.97 L237.04,328.72 L237.37,328.50 L237.70,328.36 L238.03,328.34 L238.36,328.42 L238.69,328.54 L239.02,328.63 L239.35,328.63 L239.68,328.55 L240.01,328.46 L240.34,328.39 L240.67,328.38 L241.00,328.39 L241.33,328.39 L241.66,328.37 L241.99,328.33 L242.32,328.30 L242.65,328.27 L242.98,328.26 L243.31,328.27 L243.64,328.30 L243.97,328.38 L244.30,328.51 L244.63,328.66 L244.96,328.79 L245.29,328.87 L245.62,328.92 L245.95,328.95 L246.28,328.93 L246.61,328.84 L246.94,328.68 L247.27,328.47 L247.60,328.28 L247.93,328.11 L248.26,327.98 L248.59,327.90 L248.92,327.92 L249.25,328.06 L249.58,328.33 L249.91,328.66 L250.24,328.97 L250.57,329.18 L250.90,329.23 L251.23,329.14 L251.56,329.01 L251.89,328.90 L252.22,328.84 L252.55,328.80 L252.88,328.77 L253.21,328.77 L253.54,328.81 L253.87,328.86 L254.20,328.87 L254.53,328.84 L254.86,328.82 L255.19,328.90 L255.52,329.22 L255.85,329.90 L256.18,330.95 L256.51,332.24 L256.84,333.38 L257.17,333.88 L257.50,333.47 L257.83,332.36 L258.16,331.02 L258.49,329.92 L258.82,329.24 L259.15,328.90 L259.48,328.76 L259.81,328.65 L260.14,328.51 L260.47,328.34 L260.80,328.22 L261.13,328.21 L261.46,328.30 L261.79,328.44 L262.12,328.58 L262.45,328.74 L262.78,328.97 L263.11,329.23 L263.44,329.44 L263.77,329.51 L264.10,329.41 L264.43,329.22 L264.76,329.04 L265.09,328.97 L265.42,329.10 L265.75,329.47 L266.08,330.11 L266.41,330.95 L266.74,331.84 L267.07,332.55 L267.40,332.85 L267.73,332.65 L268.06,332.05 L268.39,331.28 L268.72,330.58 L269.05,330.07 L269.38,329.77 L269.71,329.61 L270.04,329.52 L270.37,329.47 L270.70,329.46 L271.03,329.47 L271.36,329.49 L271.69,329.52 L272.02,329.55 L272.35,329.62 L272.68,329.79 L273.01,330.13 L273.34,330.64 L273.67,331.26 L274.00,331.88 L274.33,332.40 L274.66,332.71 L274.99,332.78 L275.32,332.59 L275.65,332.19 L275.98,331.67 L276.31,331.12 L276.64,330.61 L276.97,330.14 L277.30,329.76 L277.63,329.49 L277.96,329.38 L278.29,329.42 L278.62,329.55 L278.95,329.72 L279.28,329.91 L279.61,330.14 L279.94,330.47 L280.27,330.94 L280.60,331.53 L280.93,332.14 L281.26,332.63 L281.59,332.82 L281.92,332.66 L282.25,332.18 L282.58,331.53 L282.91,330.87 L283.24,330.27 L283.57,329.81 L283.90,329.52 L284.23,329.41 L284.56,329.44 L284.89,329.53 L285.22,329.57 L285.55,329.52 L285.88,329.40 L286.21,329.26 L286.54,329.14 L286.87,329.03 L287.20,328.95 L287.53,328.92 L287.86,328.95 L288.19,328.98 L288.52,328.97 L288.85,328.87 L289.18,328.75 L289.51,328.64 L289.84,328.60 L290.17,328.62 L290.50,328.67 L290.83,328.72 L291.16,328.75 L291.49,328.74 L291.82,328.72 L292.15,328.69 L292.48,328.66 L292.81,328.62 L293.14,328.56 L293.47,328.50 L293.80,328.45 L294.13,328.42 L294.46,328.44 L294.79,328.50 L295.12,328.63 L295.45,328.83 L295.78,329.14 L296.11,329.58 L296.44,330.05 L296.77,330.44 L297.10,330.65 L297.43,330.64 L297.76,330.46 L298.09,330.20 L298.42,329.93 L298.75,329.68 L299.08,329.45 L299.41,329.23 L299.74,329.01 L300.07,328.81 L300.40,328.60 L300.73,328.43 L301.06,328.32 L301.39,328.34 L301.72,328.45 L302.05,328.63 L302.38,328.81 L302.71,328.92 L303.04,328.97 L303.37,328.97 L303.70,328.95 L304.03,328.96 L304.36,329.05 L304.69,329.20 L305.02,329.44 L305.35,329.86 L305.68,330.61 L306.01,331.76 L306.34,333.11 L306.67,334.17 L307.00,334.43 L307.33,333.85 L307.66,332.95 L307.99,332.46 L308.32,332.73 L308.65,333.47 L308.98,333.99 L309.31,333.71 L309.64,332.63 L309.97,331.22 L310.30,329.95 L310.63,329.10 L310.96,328.70 L311.29,328.64 L311.62,328.73 L311.95,328.84 L312.28,328.89 L312.61,328.87 L312.94,328.87 L313.27,328.97 L313.60,329.21 L313.93,329.59 L314.26,330.02 L314.59,330.37 L314.92,330.47 L315.25,330.27 L315.58,329.84 L315.91,329.30 L316.24,328.76 L316.57,328.36 L316.90,328.21 L317.23,328.35 L317.56,328.75 L317.89,329.27 L318.22,329.76 L318.55,330.09 L318.88,330.24 L319.21,330.25 L319.54,330.20 L319.87,330.18 L320.20,330.23 L320.53,330.35 L320.86,330.54 L321.19,330.85 L321.52,331.34 L321.85,332.10 L322.18,333.22 L322.51,334.83 L322.84,337.13 L323.17,340.31 L323.50,344.48 L323.83,349.54 L324.16,355.15 L324.49,360.73 L324.82,365.55 L325.15,368.94 L325.48,370.39 L325.81,369.69 L326.14,366.95 L326.47,362.61 L326.80,357.35 L327.13,351.88 L327.46,346.83 L327.79,342.63 L328.12,339.46 L328.45,337.32 L328.78,336.02 L329.11,335.29 L329.44,334.89 L329.77,334.69 L330.10,334.64 L330.43,334.82 L330.76,335.29 L331.09,336.18 L331.42,337.53 L331.75,339.23 L332.08,340.95 L332.41,342.20 L332.74,342.47 L333.07,341.58 L333.40,339.71 L333.73,337.34 L334.06,335.02 L334.39,333.14 L334.72,331.82 L335.05,331.01 L335.38,330.56 L335.71,330.30 L336.04,330.13 L336.37,329.97 L336.70,329.83 L337.03,329.69 L337.36,329.56 L337.69,329.43 L338.02,329.30 L338.35,329.18 L338.68,329.06 L339.01,328.96 L339.34,328.87 L339.67,328.82 L340.00,328.80 L340.33,328.80 L340.66,328.79 L340.99,328.77 L341.32,328.77 L341.65,328.81 L341.98,328.90 L342.31,329.00 L342.64,329.06 L342.97,329.11 L343.30,329.18 L343.63,329.32 L343.96,329.58 L344.29,330.01 L344.62,330.68 L344.95,331.55 L345.28,332.49 L345.61,333.29 L345.94,333.70 L346.27,333.59 L346.60,332.96 L346.93,332.03 L347.26,331.03 L347.59,330.19 L347.92,329.61 L348.25,329.28 L348.58,329.15 L348.91,329.11 L349.24,329.07 L349.57,328.99 L349.90,328.90 L350.23,328.87 L350.56,328.91 L350.89,329.00 L351.22,329.10 L351.55,329.14 L351.88,329.12 L352.21,329.05 L352.54,329.01 L352.87,329.08 L353.20,329.32 L353.53,329.72 L353.86,330.25 L354.19,330.85 L354.52,331.45 L354.85,332.01 L355.18,332.48 L355.51,332.77 L355.84,332.77 L356.17,332.43 L356.50,331.80 L356.83,331.04 L357.16,330.35 L357.49,329.85 L357.82,329.56 L358.15,329.39 L358.48,329.24 L358.81,329.09 L359.14,328.92 L359.47,328.81 L359.80,328.87 L360.13,329.27 L360.46,330.27 L360.79,332.15 L361.12,335.10 L361.45,339.05 L361.78,343.46 L362.11,347.30 L362.44,349.41 L362.77,349.06 L363.10,346.38 L363.43,342.27 L363.76,337.92 L364.09,334.26 L364.42,331.67 L364.75,330.11 L365.08,329.33 L365.41,329.06 L365.74,329.05 L366.07,329.15 L366.40,329.24 L366.73,329.26 L367.06,329.21 L367.39,329.08 L367.72,328.93 L368.05,328.81 L368.38,328.77 L368.71,328.84 L369.04,328.95 L369.37,329.02 L369.70,328.98 L370.03,328.81 L370.36,328.56 L370.69,328.32 L371.02,328.19 L371.35,328.21 L371.68,328.35 L372.01,328.57 L372.34,328.81 L372.67,329.01 L373.00,329.15 L373.33,329.21 L373.66,329.18 L373.99,329.05 L374.32,328.86 L374.65,328.68 L374.98,328.55 L375.31,328.48 L375.64,328.48 L375.97,328.52 L376.30,328.59 L376.63,328.69 L376.96,328.77 L377.29,328.81 L377.62,328.80 L377.95,328.70 L378.28,328.51 L378.61,328.26 L378.94,327.96 L379.27,327.59 L379.60,327.19 L379.93,326.83 L380.26,326.58 L380.59,326.47 L380.92,326.48 L381.25,326.61 L381.58,326.84 L381.91,327.22 L382.24,327.80 L382.57,328.62 L382.90,329.68 L383.23,330.89 L383.56,332.03 L383.89,332.80 L384.22,332.96 L384.55,332.48 L384.88,331.54 L385.21,330.46 L385.54,329.50 L385.87,328.81 L386.20,328.36 L386.53,328.08 L386.86,327.90 L387.19,327.76 L387.52,327.67 L387.85,327.63 L388.18,327.69 L388.51,327.84 L388.84,328.05 L389.17,328.27 L389.50,328.48 L389.83,328.68 L390.16,328.87 L390.49,329.04 L390.82,329.12 L391.15,329.07 L391.48,328.89 L391.81,328.64 L392.14,328.45 L392.47,328.43 L392.80,328.65 L393.13,329.03 L393.46,329.48 L393.79,329.91 L394.12,330.33 L394.45,330.70 L394.78,330.98 L395.11,331.08 L395.44,330.94 L395.77,330.60 L396.10,330.15 L396.43,329.73 L396.76,329.38 L397.09,329.13 L397.42,328.95 L397.75,328.79 L398.08,328.64 L398.41,328.52 L398.74,328.47 L399.07,328.51 L399.40,328.67 L399.73,328.91 L400.06,329.21 L400.39,329.57 L400.72,329.96 L401.05,330.31 L401.38,330.53 L401.71,330.54 L402.04,330.36 L402.37,330.05 L402.70,329.68 L403.03,329.29 L403.36,328.91 L403.69,328.55 L404.02,328.28 L404.35,328.12 L404.68,328.06 L405.01,328.08 L405.34,328.14 L405.67,328.24 L406.00,328.36 L406.33,328.47 L406.66,328.54 L406.99,328.48 L407.32,328.32 L407.65,328.08 L407.98,327.85 L408.31,327.63 L408.64,327.43 L408.97,327.22 L409.30,327.01 L409.63,326.82 L409.96,326.71 L410.29,326.72 L410.62,326.85 L410.95,327.05 L411.28,327.24 L411.61,327.35 L411.94,327.38 L412.27,327.36 L412.60,327.30 L412.93,327.22 L413.26,327.18 L413.59,327.23 L413.92,327.39 L414.25,327.61 L414.58,327.85 L414.91,328.05 L415.24,328.24 L415.57,328.41 L415.90,328.58 L416.23,328.77 L416.56,328.98 L416.89,329.16 L417.22,329.25 L417.55,329.19 L417.88,329.03 L418.21,328.85 L418.54,328.72 L418.87,328.69 L419.20,328.77 L419.53,328.93 L419.86,329.14 L420.19,329.32 L420.52,329.39 L420.85,329.39 L421.18,329.36 L421.51,329.40 L421.84,329.53 L422.17,329.71 L422.50,329.82 L422.83,329.82 L423.16,329.69 L423.49,329.51 L423.82,329.37 L424.15,329.35 L424.48,329.44 L424.81,329.61 L425.14,329.84 L425.47,330.22 L425.80,330.90 L426.13,332.10 L426.46,334.01 L426.79,336.82 L427.12,340.58 L427.45,345.21 L427.78,350.36 L428.11,355.37 L428.44,359.36 L428.77,361.52 L429.10,361.36 L429.43,358.90 L429.76,354.66 L430.09,349.46 L430.42,344.20 L430.75,339.60 L431.08,336.00 L431.41,333.47 L431.74,331.85 L432.07,330.92 L432.40,330.44 L432.73,330.20 L433.06,330.01 L433.39,329.80 L433.72,329.55 L434.05,329.36 L434.38,329.36 L434.71,329.64 L435.04,330.24 L435.37,331.05 L435.70,331.81 L436.03,332.27 L436.36,332.29 L436.69,331.90 L437.02,331.27 L437.35,330.62 L437.68,330.01 L438.01,329.38 L438.34,328.66 L438.67,327.84 L439.00,327.05 L439.33,326.49 L439.66,326.31 L439.99,326.54 L440.32,327.03 L440.65,327.60 L440.98,328.07 L441.31,328.39 L441.64,328.62 L441.97,328.83 L442.30,329.07 L442.63,329.32 L442.96,329.52 L443.29,329.60 L443.62,329.61 L443.95,329.56 L444.28,329.46 L444.61,329.32 L444.94,329.17 L445.27,329.02 L445.60,328.91 L445.93,328.84 L446.26,328.78 L446.59,328.71 L446.92,328.61 L447.25,328.52 L447.58,328.47 L447.91,328.46 L448.24,328.49 L448.57,328.56 L448.90,328.64 L449.23,328.75 L449.56,328.84 L449.89,328.90 L450.22,328.91 L450.55,328.91 L450.88,328.97 L451.21,329.09 L451.54,329.23 L451.87,329.31 L452.20,329.19 L452.53,328.82 L452.86,328.23 L453.19,327.54 L453.52,326.85 L453.85,326.29 L454.18,325.93 L454.51,325.84 L454.84,326.09 L455.17,326.63 L455.50,327.35 L455.83,328.06 L456.16,328.64 L456.49,329.03 L456.82,329.21 L457.15,329.26 L457.48,329.26 L457.81,329.27 L458.14,329.30 L458.47,329.35 L458.80,329.36 L459.13,329.31 L459.46,329.25 L459.79,329.21 L460.12,329.25 L460.45,329.38 L460.78,329.58 L461.11,329.81 L461.44,330.03 L461.77,330.21 L462.10,330.33 L462.43,330.39 L462.76,330.41 L463.09,330.41 L463.42,330.42 L463.75,330.44 L464.08,330.47 L464.41,330.46 L464.74,330.40 L465.07,330.27 L465.40,330.10 L465.73,329.93 L466.06,329.78 L466.39,329.68 L466.72,329.61 L467.05,329.60 L467.38,329.62 L467.71,329.64 L468.04,329.64 L468.37,329.60 L468.70,329.53 L469.03,329.44 L469.36,329.37 L469.69,329.32 L470.02,329.29 L470.35,329.26 L470.68,329.19 L471.01,329.09 L471.34,328.96 L471.67,328.90 L472.00,328.92 L472.33,329.06 L472.66,329.25 L472.99,329.44 L473.32,329.55 L473.65,329.55 L473.98,329.47 L474.31,329.33 L474.64,329.20 L474.97,329.12 L475.30,329.10 L475.63,329.11 L475.96,329.14 L476.29,329.15 L476.62,329.14 L476.95,329.14 L477.28,329.14 L477.61,329.13 L477.94,329.10 L478.27,329.04 L478.60,328.98 L478.93,328.95 L479.26,328.99 L479.59,329.11 L479.92,329.27 L480.25,329.45 L480.58,329.58 L480.91,329.65 L481.24,329.65 L481.57,329.63 L481.90,329.64 L482.23,329.73 L482.56,329.97 L482.89,330.38 L483.22,330.97 L483.55,331.65 L483.88,332.28 L484.21,332.69 L484.54,332.77 L484.87,332.46 L485.20,331.80 L485.53,330.95 L485.86,330.11 L486.19,329.42 L486.52,328.94 L486.85,328.62 L487.18,328.40 L487.51,328.27 L487.84,328.22 L488.17,328.24 L488.50,328.30 L488.83,328.40 L489.16,328.52 L489.49,328.65 L489.82,328.76 L490.15,328.82 L490.48,328.84 L490.81,328.85 L491.14,328.91 L491.47,329.13 L491.80,329.64 L492.13,330.63 L492.46,332.18 L492.79,334.17 L493.12,336.18 L493.45,337.59 L493.78,337.88 L494.11,336.89 L494.44,334.96 L494.77,332.71 L495.10,330.72 L495.43,329.30 L495.76,328.48 L496.09,328.12 L496.42,328.02 L496.75,328.03 L497.08,328.03 L497.41,327.95 L497.74,327.77 L498.07,327.53 L498.40,327.33 L498.73,327.22 L499.06,327.24 L499.39,327.34 L499.72,327.47 L500.05,327.57 L500.38,327.65 L500.71,327.74 L501.04,327.83 L501.37,327.90 L501.70,327.91 L502.03,327.86 L502.36,327.84 L502.69,327.96 L503.02,328.30 L503.35,328.86 L503.68,329.69 L504.01,330.87 L504.34,332.41 L504.67,334.14 L505.00,335.58 L505.33,336.25 L505.66,335.88 L505.99,334.65 L506.32,333.04 L506.65,331.56 L506.98,330.52 L507.31,329.94 L507.64,329.70 L507.97,329.64 L508.30,329.64 L508.63,329.69 L508.96,329.82 L509.29,330.09 L509.62,330.61 L509.95,331.38 L510.28,332.29 L510.61,333.08 L510.94,333.42 L511.27,333.13 L511.60,332.28 L511.93,331.14 L512.26,330.05 L512.59,329.22 L512.92,328.70 L513.25,328.45 L513.58,328.41 L513.91,328.51 L514.24,328.66 L514.57,328.81 L514.90,328.94 L515.23,329.02 L515.56,329.04 L515.89,329.03 L516.22,328.99 L516.55,328.98 L516.88,328.99 L517.21,329.01 L517.54,328.97 L517.87,328.88 L518.20,328.76 L518.53,328.67 L518.86,328.60 L519.19,328.57 L519.52,328.57 L519.85,328.59 L520.18,328.65 L520.51,328.72 L520.84,328.77 L521.17,328.82 L521.50,328.88 L521.83,328.98 L522.16,329.15 L522.49,329.38 L522.82,329.67 L523.15,330.06 L523.48,330.58 L523.81,331.26 L524.14,331.98 L524.47,332.54 L524.80,332.68 L525.13,332.33 L525.46,331.64 L525.79,330.92 L526.12,330.45 L526.45,330.39 L526.78,330.71 L527.11,331.25 L527.44,331.77 L527.77,331.98 L528.10,331.77 L528.43,331.21 L528.76,330.50 L529.09,329.81 L529.42,329.26 L529.75,328.84 L530.08,328.56 L530.41,328.41 L530.74,328.37 L531.07,328.40 L531.40,328.48 L531.73,328.56 L532.06,328.62 L532.39,328.61 L532.72,328.52 L533.05,328.38 L533.38,328.22 L533.71,328.06 L534.04,327.95 L534.37,327.91 L534.70,327.94 L535.03,327.97 L535.36,328.01 L535.69,328.08 L536.02,328.24 L536.35,328.47 L536.68,328.76 L537.01,329.08 L537.34,329.43 L537.67,329.80 L538.00,330.18 L538.33,330.48 L538.66,330.61 L538.99,330.50 L539.32,330.15 L539.65,329.64 L539.98,329.11 L540.31,328.67 L540.64,328.38 L540.97,328.27 L541.30,328.25 L541.63,328.27 L541.96,328.29 L542.29,328.30 L542.62,328.31 L542.95,328.34 L543.28,328.38 L543.61,328.44 L543.94,328.50 L544.27,328.54 L544.60,328.58 L544.93,328.64 L545.26,328.74 L545.59,328.88 L545.92,329.03 L546.25,329.13 L546.58,329.16 L546.91,329.15 L547.24,329.12 L547.57,329.08 L547.90,329.05 L548.23,329.02 L548.56,328.99 L548.89,328.99 L549.22,329.03 L549.55,329.13 L549.88,329.25 L550.21,329.37 L550.54,329.45 L550.87,329.49 L551.20,329.47 L551.53,329.41 L551.86,329.31 L552.19,329.17 L552.52,329.02 L552.85,328.95 L553.18,329.04 L553.51,329.32 L553.84,329.79 L554.17,330.37 L554.50,330.96 L554.83,331.47 L555.16,331.80 L555.49,331.84 L555.82,331.55 L556.15,331.02 L556.48,330.43 L556.81,329.96 L557.14,329.63 L557.47,329.39 L557.80,329.16 L558.13,328.92 L558.46,328.75 L558.79,328.70 L559.12,328.75 L559.45,328.84 L559.78,328.92 L560.11,328.98 L560.44,329.03 L560.77,329.10 L561.10,329.27 L561.43,329.62 L561.76,330.21 L562.09,331.10 L562.42,332.32 L562.75,333.75 L563.08,335.22 L563.41,336.44 L563.74,337.08 L564.07,336.95 L564.40,336.06 L564.73,334.64 L565.06,333.06 L565.39,331.64 L565.72,330.59 L566.05,330.03 L566.38,330.01 L566.71,330.62 L567.04,332.02 L567.37,334.40 L567.70,337.79 L568.03,341.79 L568.36,345.63 L568.69,348.69 L569.02,350.85 L569.35,352.26 L569.68,353.14 L570.01,353.65 L570.34,353.85 L570.67,353.70 L571.00,353.01 L571.33,351.44 L571.66,348.66 L571.99,344.69 L572.32,340.20 L572.65,336.14 L572.98,333.08 L573.31,331.02 L573.64,329.73 L573.97,328.94 L574.30,328.47 L574.63,328.24 L574.96,328.18 L575.29,328.24 L575.62,328.35 L575.95,328.49 L576.28,328.60 L576.61,328.68 L576.94,328.74 L577.27,328.85 L577.60,329.11 L577.93,329.67 L578.26,330.59 L578.59,331.78 L578.92,332.95 L579.25,333.78 L579.58,334.01 L579.91,333.59 L580.24,332.66 L580.57,331.52 L580.90,330.44 L581.23,329.62 L581.56,329.10 L581.89,328.82 L582.22,328.69 L582.55,328.67 L582.88,328.73 L583.21,328.83 L583.54,328.90 L583.87,328.93 L584.20,328.90 L584.53,328.83 L584.86,328.69 L585.19,328.50 L585.52,328.29 L585.85,328.10 L586.18,327.94 L586.51,327.85 L586.84,327.83 L587.17,327.88 L587.50,328.00 L587.83,328.20 L588.16,328.47 L588.49,328.80 L588.82,329.18 L589.15,329.58 L589.48,330.05 L589.81,330.63 L590.14,331.30 L590.47,331.94 L590.80,332.36 L591.13,332.40 L591.46,332.02 L591.79,331.32 L592.12,330.47 L592.45,329.63 L592.78,328.93 L593.11,328.43 L593.44,328.13 L593.77,327.97 L594.10,327.88 L594.43,327.83 L594.76,327.79 L595.09,327.78 L595.42,327.76 L595.75,327.77 L596.08,327.89 L596.41,328.29 L596.74,329.12 L597.07,330.38 L597.40,331.99 L597.73,333.78 L598.06,335.48 L598.39,336.76 L598.72,337.33 L599.05,336.98 L599.38,335.80 L599.71,334.10 L600.04,332.33 L600.37,330.87 L600.70,329.84 L601.03,329.23 L601.36,328.93 L601.69,328.80 L602.02,328.75 L602.35,328.72 L602.68,328.71 L603.01,328.69 L603.34,328.71 L603.67,328.77 L604.00,328.87 L604.33,328.95 L604.66,328.97 L604.99,328.93 L605.32,328.88 L605.65,328.90 L605.98,329.02 L606.31,329.21 L606.64,329.43 L606.97,329.65 L607.30,329.85 L607.63,329.99 L607.96,330.00 L608.29,329.86 L608.62,329.62 L608.95,329.35 L609.28,329.10 L609.61,328.88 L609.94,328.70 L610.27,328.56 L610.60,328.52 L610.93,328.61 L611.26,328.88 L611.59,329.39 L611.92,330.13 L612.25,330.98 L612.58,331.72 L612.91,332.13 L613.24,332.07 L613.57,331.61 L613.90,330.93 L614.23,330.27 L614.56,329.76 L614.89,329.40 L615.22,329.16 L615.55,328.98 L615.88,328.82 L616.21,328.66 L616.54,328.52 L616.87,328.41 L617.20,328.39 L617.53,328.49 L617.86,328.76 L618.19,329.33 L618.52,330.45 L618.85,332.41 L619.18,335.34 L619.51,338.88 L619.84,342.13 L620.17,344.01 L620.50,343.80 L620.83,341.59 L621.16,338.23 L621.49,334.80 L621.82,332.09 L622.15,330.40 L622.48,329.57 L622.81,329.25 L623.14,329.13 L623.47,329.03 L623.80,328.88 L624.13,328.71 L624.46,328.56 L624.79,328.47 L625.12,328.47 L625.45,328.59 L625.78,328.81 L626.11,329.09 L626.44,329.32 L626.77,329.50 L627.10,329.59 L627.43,329.60 L627.76,329.53 L628.09,329.40 L628.42,329.24 L628.75,329.08 L629.08,328.94 L629.41,328.82 L629.74,328.72 L630.07,328.67 L630.40,328.63 L630.73,328.59 L631.06,328.47 L631.39,328.21 L631.72,327.77 L632.05,327.23 L632.38,326.77 L632.71,326.62 L633.04,326.89 L633.37,327.48 L633.70,328.16 L634.03,328.70 L634.36,329.02 L634.69,329.15 L635.02,329.17 L635.35,329.13 L635.68,329.09 L636.01,329.10 L636.34,329.21 L636.67,329.43 L637.00,329.66 L637.33,329.81 L637.66,329.82 L637.99,329.72 L638.32,329.58 L638.65,329.47 L638.98,329.41 L639.31,329.39 L639.64,329.39 L639.97,329.36 L640.30,329.29 L640.63,329.18 L640.96,329.04 L641.29,328.93 L641.62,328.87 L641.95,328.88 L642.28,328.97 L642.61,329.11 L642.94,329.23 L643.27,329.25 L643.60,329.15 L643.93,328.92 L644.26,328.60 L644.59,328.30 L644.92,328.11 L645.25,328.10 L645.58,328.26 L645.91,328.55 L646.24,328.88 L646.57,329.21 L646.90,329.47 L647.23,329.61 L647.56,329.63 L647.89,329.52 L648.22,329.35 L648.55,329.17 L648.88,329.01 L649.21,328.88 L649.54,328.76 L649.87,328.65 L650.20,328.56 L650.53,328.52 L650.86,328.55 L651.19,328.60 L651.52,328.69 L651.85,328.81 L652.18,328.99 L652.51,329.20 L652.84,329.33 L653.17,329.36 L653.50,329.27 L653.83,329.10 L654.16,328.93 L654.49,328.80 L654.82,328.78 L655.15,328.86 L655.48,329.01 L655.81,329.16 L656.14,329.27 L656.47,329.32 L656.80,329.30 L657.13,329.20 L657.46,329.05 L657.79,328.86 L658.12,328.70 L658.45,328.60 L658.78,328.55 L659.11,328.57 L659.44,328.63 L659.77,328.70 L660.10,328.74 L660.43,328.74 L660.76,328.71 L661.09,328.68 L661.42,328.68 L661.75,328.71 L662.08,328.77 L662.41,328.80 L662.74,328.82 L663.07,328.82 L663.40,328.81 L663.73,328.81 L664.06,328.80 L664.39,328.80 L664.72,328.86 L665.05,328.95 L665.38,329.02 L665.71,329.04 L666.04,329.00 L666.37,328.97 L666.70,328.98 L667.03,329.01 L667.36,329.03 L667.69,329.00 L668.02,328.94 L668.35,328.86 L668.68,328.81 L669.01,328.83 L669.34,328.94 L669.67,329.12 L670.00,329.30 L670.33,329.43 L670.66,329.44 L670.99,329.33 L671.32,329.10 L671.65,328.82 L671.98,328.57 L672.31,328.39 L672.64,328.28 L672.97,328.22 L673.30,328.22 L673.63,328.29 L673.96,328.38 L674.29,328.47 L674.62,328.52 L674.95,328.55 L675.28,328.57 L675.61,328.62 L675.94,328.69 L676.27,328.83 L676.60,329.03 L676.93,329.25 L677.26,329.42 L677.59,329.48 L677.92,329.40 L678.25,329.25 L678.58,329.07 L678.91,328.96 L679.24,328.91 L679.57,328.89 L679.90,328.88 L680.23,328.86 L680.56,328.84 L680.89,328.83 L681.22,328.83 L681.55,328.84 L681.88,328.83 L682.21,328.75 L682.54,328.59 L682.87,328.40 L683.20,328.26 L683.53,328.24 L683.86,328.32 L684.19,328.45 L684.52,328.54 L684.85,328.57 L685.18,328.54 L685.51,328.52 L685.84,328.52 L686.17,328.55 L686.50,328.60 L686.83,328.67 L687.16,328.74" fill="none" stroke="#0000ff" stroke-width="1.1" stroke-linejoin="round" clip-path="url(#cpm)"/>
<path d="M49.60,328.85 L49.93,328.85 L50.26,328.85 L50.59,328.85 L50.92,328.85 L51.25,328.85 L51.58,328.85 L51.91,328.85 L52.24,328.85 L52.57,328.85 L52.90,328.85 L53.23,328.85 L53.56,328.85 L53.89,328.85 L54.22,328.85 L54.55,328.85 L54.88,328.85 L55.21,328.85 L55.54,328.85 L55.87,328.85 L56.20,328.85 L56.53,328.85 L56.86,328.85 L57.19,328.85 L57.52,328.85 L57.85,328.85 L58.18,328.85 L58.51,328.85 L58.84,328.85 L59.17,328.85 L59.50,328.85 L59.83,328.85 L60.16,328.85 L60.49,328.85 L60.82,328.85 L61.15,328.86 L61.48,328.89 L61.81,328.96 L62.14,329.17 L62.47,329.64 L62.80,330.54 L63.13,332.03 L63.46,334.06 L63.79,336.31 L64.12,338.17 L64.45,339.03 L64.78,338.56 L65.11,336.94 L65.44,334.74 L65.77,332.59 L66.10,330.93 L66.43,329.86 L66.76,329.28 L67.09,329.01 L67.42,328.91 L67.75,328.87 L68.08,328.86 L68.41,328.86 L68.74,328.87 L69.07,328.88 L69.40,328.89 L69.73,328.90 L70.06,328.92 L70.39,328.94 L70.72,328.97 L71.05,329.01 L71.38,329.06 L71.71,329.12 L72.04,329.19 L72.37,329.27 L72.70,329.36 L73.03,329.47 L73.36,329.60 L73.69,329.74 L74.02,329.92 L74.35,330.17 L74.68,330.56 L75.01,331.20 L75.34,332.29 L75.67,334.09 L76.00,336.85 L76.33,340.71 L76.66,345.55 L76.99,350.87 L77.32,355.83 L77.65,359.43 L77.98,360.85 L78.31,359.73 L78.64,356.36 L78.97,351.51 L79.30,346.18 L79.63,341.25 L79.96,337.26 L80.29,334.37 L80.62,332.47 L80.95,331.30 L81.28,330.62 L81.61,330.21 L81.94,329.95 L82.27,329.76 L82.60,329.61 L82.93,329.48 L83.26,329.37 L83.59,329.28 L83.92,329.19 L84.25,329.12 L84.58,329.07 L84.91,329.02 L85.24,328.98 L85.57,328.95 L85.90,328.92 L86.23,328.90 L86.56,328.89 L86.89,328.88 L87.22,328.87 L87.55,328.86 L87.88,328.86 L88.21,328.86 L88.54,328.85 L88.87,328.85 L89.20,328.85 L89.53,328.85 L89.86,328.85 L90.19,328.85 L90.52,328.85 L90.85,328.85 L91.18,328.85 L91.51,328.85 L91.84,328.85 L92.17,328.85 L92.50,328.85 L92.83,328.85 L93.16,328.85 L93.49,328.85 L93.82,328.85 L94.15,328.85 L94.48,328.85 L94.81,328.85 L95.14,328.85 L95.47,328.85 L95.80,328.85 L96.13,328.85 L96.46,328.85 L96.79,328.85 L97.12,328.85 L97.45,328.85 L97.78,328.85 L98.11,328.85 L98.44,328.85 L98.77,328.85 L99.10,328.85 L99.43,328.85 L99.76,328.85 L100.09,328.85 L100.42,328.85 L100.75,328.85 L101.08,328.85 L101.41,328.85 L101.74,328.85 L102.07,328.85 L102.40,328.85 L102.73,328.85 L103.06,328.85 L103.39,328.85 L103.72,328.85 L104.05,328.85 L104.38,328.85 L104.71,328.85 L105.04,328.85 L105.37,328.85 L105.70,328.85 L106.03,328.85 L106.36,328.86 L106.69,328.86 L107.02,328.88 L107.35,328.91 L107.68,328.98 L108.01,329.11 L108.34,329.33 L108.67,329.68 L109.00,330.22 L109.33,330.99 L109.66,332.02 L109.99,333.30 L110.32,334.77 L110.65,336.32 L110.98,337.77 L111.31,338.94 L111.64,339.67 L111.97,339.84 L112.30,339.42 L112.63,338.49 L112.96,337.18 L113.29,335.66 L113.62,334.13 L113.95,332.74 L114.28,331.58 L114.61,330.74 L114.94,330.31 L115.27,330.48 L115.60,331.46 L115.93,333.39 L116.26,336.00 L116.59,338.49 L116.92,339.81 L117.25,339.31 L117.58,337.22 L117.91,334.47 L118.24,332.01 L118.57,330.34 L118.90,329.44 L119.23,329.04 L119.56,328.90 L119.89,328.86 L120.22,328.85 L120.55,328.85 L120.88,328.85 L121.21,328.85 L121.54,328.85 L121.87,328.85 L122.20,328.85 L122.53,328.85 L122.86,328.85 L123.19,328.85 L123.52,328.85 L123.85,328.86 L124.18,328.88 L124.51,328.97 L124.84,329.27 L125.17,330.13 L125.50,332.18 L125.83,336.24 L126.16,342.82 L126.49,351.34 L126.82,359.66 L127.15,364.79 L127.48,364.54 L127.81,359.03 L128.14,350.60 L128.47,342.23 L128.80,335.92 L129.13,332.12 L129.46,330.26 L129.79,329.54 L130.12,329.35 L130.45,329.37 L130.78,329.46 L131.11,329.60 L131.44,329.79 L131.77,330.09 L132.10,330.58 L132.43,331.42 L132.76,332.72 L133.09,334.52 L133.42,336.66 L133.75,338.76 L134.08,340.44 L134.41,341.58 L134.74,342.49 L135.07,343.87 L135.40,346.49 L135.73,350.84 L136.06,356.87 L136.39,363.98 L136.72,371.12 L137.05,377.05 L137.38,380.64 L137.71,381.17 L138.04,378.52 L138.37,373.18 L138.70,366.12 L139.03,358.45 L139.36,351.18 L139.69,344.98 L140.02,340.17 L140.35,336.71 L140.68,334.38 L141.01,332.88 L141.34,331.94 L141.67,331.33 L142.00,330.91 L142.33,330.60 L142.66,330.35 L142.99,330.13 L143.32,329.94 L143.65,329.77 L143.98,329.62 L144.31,329.49 L144.64,329.38 L144.97,329.28 L145.30,329.20 L145.63,329.13 L145.96,329.11 L146.29,329.17 L146.62,329.46 L146.95,330.30 L147.28,332.16 L147.61,335.48 L147.94,340.27 L148.27,345.66 L148.60,349.92 L148.93,351.35 L149.26,349.31 L149.59,344.69 L149.92,339.34 L150.25,334.95 L150.58,332.44 L150.91,332.11 L151.24,333.89 L151.57,337.33 L151.90,341.27 L152.23,343.96 L152.56,344.00 L152.89,341.35 L153.22,337.34 L153.55,333.60 L153.88,331.03 L154.21,329.68 L154.54,329.11 L154.87,328.92 L155.20,328.86 L155.53,328.85 L155.86,328.85 L156.19,328.85 L156.52,328.85 L156.85,328.85 L157.18,328.85 L157.51,328.85 L157.84,328.85 L158.17,328.85 L158.50,328.85 L158.83,328.85 L159.16,328.85 L159.49,328.85 L159.82,328.85 L160.15,328.85 L160.48,328.85 L160.81,328.85 L161.14,328.85 L161.47,328.85 L161.80,328.85 L162.13,328.85 L162.46,328.85 L162.79,328.85 L163.12,328.85 L163.45,328.85 L163.78,328.85 L164.11,328.85 L164.44,328.85 L164.77,328.85 L165.10,328.85 L165.43,328.85 L165.76,328.85 L166.09,328.85 L166.42,328.85 L166.75,328.85 L167.08,328.86 L167.41,328.87 L167.74,328.94 L168.07,329.11 L168.40,329.54 L168.73,330.43 L169.06,332.03 L169.39,334.44 L169.72,337.44 L170.05,340.37 L170.38,342.34 L170.71,342.65 L171.04,341.17 L171.37,338.47 L171.70,335.40 L172.03,332.75 L172.36,330.88 L172.69,329.77 L173.02,329.21 L173.35,328.98 L173.68,328.89 L174.01,328.86 L174.34,328.85 L174.67,328.85 L175.00,328.85 L175.33,328.85 L175.66,328.85 L175.99,328.85 L176.32,328.85 L176.65,328.85 L176.98,328.85 L177.31,328.85 L177.64,328.85 L177.97,328.85 L178.30,328.85 L178.63,328.85 L178.96,328.85 L179.29,328.85 L179.62,328.85 L179.95,328.85 L180.28,328.85 L180.61,328.85 L180.94,328.85 L181.27,328.85 L181.60,328.85 L181.93,328.85 L182.26,328.85 L182.59,328.85 L182.92,328.85 L183.25,328.85 L183.58,328.85 L183.91,328.85 L184.24,328.85 L184.57,328.85 L184.90,328.85 L185.23,328.85 L185.56,328.85 L185.89,328.85 L186.22,328.85 L186.55,328.85 L186.88,328.85 L187.21,328.86 L187.54,328.87 L187.87,328.91 L188.20,329.01 L188.53,329.21 L188.86,329.56 L189.19,330.08 L189.52,330.75 L189.85,331.44 L190.18,331.96 L190.51,332.15 L190.84,331.94 L191.17,331.40 L191.50,330.71 L191.83,330.05 L192.16,329.53 L192.49,329.19 L192.82,329.00 L193.15,328.91 L193.48,328.87 L193.81,328.86 L194.14,328.85 L194.47,328.85 L194.80,328.85 L195.13,328.85 L195.46,328.85 L195.79,328.85 L196.12,328.85 L196.45,328.85 L196.78,328.85 L197.11,328.85 L197.44,328.85 L197.77,328.85 L198.10,328.85 L198.43,328.85 L198.76,328.85 L199.09,328.85 L199.42,328.85 L199.75,328.85 L200.08,328.85 L200.41,328.85 L200.74,328.87 L201.07,328.90 L201.40,328.97 L201.73,329.13 L202.06,329.43 L202.39,329.91 L202.72,330.54 L203.05,331.24 L203.38,331.83 L203.71,332.14 L204.04,332.05 L204.37,331.61 L204.70,331.00 L205.03,330.44 L205.36,330.14 L205.69,330.19 L206.02,330.57 L206.35,331.09 L206.68,331.48 L207.01,331.53 L207.34,331.19 L207.67,330.59 L208.00,329.95 L208.33,329.44 L208.66,329.12 L208.99,328.96 L209.32,328.89 L209.65,328.86 L209.98,328.85 L210.31,328.85 L210.64,328.85 L210.97,328.85 L211.30,328.85 L211.63,328.86 L211.96,328.88 L212.29,328.92 L212.62,329.02 L212.95,329.22 L213.28,329.53 L213.61,329.94 L213.94,330.38 L214.27,330.72 L214.60,330.85 L214.93,330.72 L215.26,330.38 L215.59,329.94 L215.92,329.53 L216.25,329.22 L216.58,329.02 L216.91,328.92 L217.24,328.88 L217.57,328.86 L217.90,328.85 L218.23,328.85 L218.56,328.85 L218.89,328.85 L219.22,328.85 L219.55,328.85 L219.88,328.85 L220.21,328.85 L220.54,328.85 L220.87,328.85 L221.20,328.85 L221.53,328.85 L221.86,328.86 L222.19,328.88 L222.52,328.93 L222.85,329.05 L223.18,329.26 L223.51,329.58 L223.84,329.94 L224.17,330.23 L224.50,330.35 L224.83,330.23 L225.16,329.94 L225.49,329.58 L225.82,329.26 L226.15,329.05 L226.48,328.93 L226.81,328.88 L227.14,328.86 L227.47,328.85 L227.80,328.85 L228.13,328.85 L228.46,328.85 L228.79,328.85 L229.12,328.85 L229.45,328.85 L229.78,328.85 L230.11,328.85 L230.44,328.85 L230.77,328.85 L231.10,328.85 L231.43,328.85 L231.76,328.85 L232.09,328.85 L232.42,328.85 L232.75,328.85 L233.08,328.85 L233.41,328.85 L233.74,328.85 L234.07,328.85 L234.40,328.85 L234.73,328.85 L235.06,328.85 L235.39,328.85 L235.72,328.85 L236.05,328.85 L236.38,328.85 L236.71,328.85 L237.04,328.85 L237.37,328.85 L237.70,328.85 L238.03,328.85 L238.36,328.85 L238.69,328.85 L239.02,328.85 L239.35,328.85 L239.68,328.85 L240.01,328.85 L240.34,328.85 L240.67,328.85 L241.00,328.85 L241.33,328.85 L241.66,328.85 L241.99,328.85 L242.32,328.85 L242.65,328.85 L242.98,328.85 L243.31,328.85 L243.64,328.85 L243.97,328.85 L244.30,328.85 L244.63,328.85 L244.96,328.85 L245.29,328.85 L245.62,328.85 L245.95,328.85 L246.28,328.85 L246.61,328.85 L246.94,328.85 L247.27,328.85 L247.60,328.85 L247.93,328.85 L248.26,328.85 L248.59,328.85 L248.92,328.85 L249.25,328.85 L249.58,328.85 L249.91,328.85 L250.24,328.85 L250.57,328.85 L250.90,328.85 L251.23,328.85 L251.56,328.85 L251.89,328.85 L252.22,328.85 L252.55,328.85 L252.88,328.85 L253.21,328.85 L253.54,328.85 L253.87,328.85 L254.20,328.85 L254.53,328.85 L254.86,328.85 L255.19,328.85 L255.52,328.85 L255.85,328.85 L256.18,328.85 L256.51,328.85 L256.84,328.85 L257.17,328.85 L257.50,328.85 L257.83,328.85 L258.16,328.85 L258.49,328.85 L258.82,328.85 L259.15,328.85 L259.48,328.85 L259.81,328.85 L260.14,328.85 L260.47,328.85 L260.80,328.85 L261.13,328.85 L261.46,328.85 L261.79,328.85 L262.12,328.85 L262.45,328.85 L262.78,328.85 L263.11,328.85 L263.44,328.85 L263.77,328.85 L264.10,328.85 L264.43,328.86 L264.76,328.88 L265.09,328.94 L265.42,329.12 L265.75,329.55 L266.08,330.36 L266.41,331.63 L266.74,333.22 L267.07,334.69 L267.40,335.50 L267.73,335.29 L268.06,334.16 L268.39,332.58 L268.72,331.08 L269.05,329.98 L269.38,329.34 L269.71,329.03 L270.04,328.91 L270.37,328.87 L270.70,328.85 L271.03,328.85 L271.36,328.85 L271.69,328.85 L272.02,328.85 L272.35,328.85 L272.68,328.85 L273.01,328.85 L273.34,328.85 L273.67,328.85 L274.00,328.85 L274.33,328.85 L274.66,328.85 L274.99,328.85 L275.32,328.85 L275.65,328.85 L275.98,328.85 L276.31,328.85 L276.64,328.85 L276.97,328.85 L277.30,328.85 L277.63,328.85 L277.96,328.85 L278.29,328.85 L278.62,328.85 L278.95,328.85 L279.28,328.85 L279.61,328.85 L279.94,328.85 L280.27,328.85 L280.60,328.85 L280.93,328.85 L281.26,328.85 L281.59,328.85 L281.92,328.85 L282.25,328.85 L282.58,328.85 L282.91,328.85 L283.24,328.85 L283.57,328.85 L283.90,328.85 L284.23,328.85 L284.56,328.85 L284.89,328.85 L285.22,328.85 L285.55,328.85 L285.88,328.85 L286.21,328.85 L286.54,328.85 L286.87,328.85 L287.20,328.85 L287.53,328.85 L287.86,328.85 L288.19,328.85 L288.52,328.85 L288.85,328.85 L289.18,328.85 L289.51,328.85 L289.84,328.85 L290.17,328.85 L290.50,328.85 L290.83,328.85 L291.16,328.85 L291.49,328.85 L291.82,328.85 L292.15,328.85 L292.48,328.85 L292.81,328.85 L293.14,328.85 L293.47,328.85 L293.80,328.85 L294.13,328.85 L294.46,328.85 L294.79,328.85 L295.12,328.85 L295.45,328.85 L295.78,328.85 L296.11,328.85 L296.44,328.85 L296.77,328.85 L297.10,328.85 L297.43,328.85 L297.76,328.85 L298.09,328.85 L298.42,328.85 L298.75,328.85 L299.08,328.85 L299.41,328.85 L299.74,328.85 L300.07,328.85 L300.40,328.85 L300.73,328.85 L301.06,328.85 L301.39,328.85 L301.72,328.85 L302.05,328.85 L302.38,328.85 L302.71,328.85 L303.04,328.85 L303.37,328.85 L303.70,328.85 L304.03,328.85 L304.36,328.85 L304.69,328.85 L305.02,328.85 L305.35,328.85 L305.68,328.85 L306.01,328.85 L306.34,328.85 L306.67,328.85 L307.00,328.85 L307.33,328.85 L307.66,328.85 L307.99,328.85 L308.32,328.85 L308.65,328.85 L308.98,328.85 L309.31,328.85 L309.64,328.85 L309.97,328.85 L310.30,328.85 L310.63,328.85 L310.96,328.85 L311.29,328.85 L311.62,328.86 L311.95,328.86 L312.28,328.86 L312.61,328.87 L312.94,328.87 L313.27,328.88 L313.60,328.89 L313.93,328.90 L314.26,328.91 L314.59,328.93 L314.92,328.95 L315.25,328.97 L315.58,329.01 L315.91,329.04 L316.24,329.09 L316.57,329.14 L316.90,329.21 L317.23,329.28 L317.56,329.37 L317.89,329.47 L318.22,329.58 L318.55,329.71 L318.88,329.85 L319.21,330.01 L319.54,330.18 L319.87,330.37 L320.20,330.58 L320.53,330.80 L320.86,331.06 L321.19,331.38 L321.52,331.82 L321.85,332.47 L322.18,333.50 L322.51,335.14 L322.84,337.69 L323.17,341.43 L323.50,346.54 L323.83,352.97 L324.16,360.32 L324.49,367.83 L324.82,374.44 L325.15,379.06 L325.48,380.84 L325.81,379.44 L326.14,375.13 L326.47,368.70 L326.80,361.24 L327.13,353.82 L327.46,347.25 L327.79,341.97 L328.12,338.08 L328.45,335.40 L328.78,333.66 L329.11,332.57 L329.44,331.89 L329.77,331.44 L330.10,331.14 L330.43,330.96 L330.76,330.89 L331.09,331.00 L331.42,331.29 L331.75,331.74 L332.08,332.23 L332.41,332.58 L332.74,332.60 L333.07,332.24 L333.40,331.59 L333.73,330.84 L334.06,330.17 L334.39,329.66 L334.72,329.33 L335.05,329.15 L335.38,329.04 L335.71,328.99 L336.04,328.95 L336.37,328.93 L336.70,328.91 L337.03,328.90 L337.36,328.89 L337.69,328.88 L338.02,328.87 L338.35,328.87 L338.68,328.86 L339.01,328.86 L339.34,328.86 L339.67,328.85 L340.00,328.85 L340.33,328.85 L340.66,328.85 L340.99,328.85 L341.32,328.85 L341.65,328.85 L341.98,328.85 L342.31,328.85 L342.64,328.85 L342.97,328.86 L343.30,328.88 L343.63,328.93 L343.96,329.03 L344.29,329.20 L344.62,329.48 L344.95,329.84 L345.28,330.25 L345.61,330.61 L345.94,330.82 L346.27,330.82 L346.60,330.60 L346.93,330.24 L347.26,329.83 L347.59,329.47 L347.92,329.20 L348.25,329.02 L348.58,328.93 L348.91,328.88 L349.24,328.86 L349.57,328.85 L349.90,328.85 L350.23,328.85 L350.56,328.85 L350.89,328.85 L351.22,328.85 L351.55,328.85 L351.88,328.85 L352.21,328.85 L352.54,328.85 L352.87,328.85 L353.20,328.85 L353.53,328.85 L353.86,328.85 L354.19,328.85 L354.52,328.85 L354.85,328.85 L355.18,328.85 L355.51,328.85 L355.84,328.85 L356.17,328.85 L356.50,328.85 L356.83,328.85 L357.16,328.85 L357.49,328.85 L357.82,328.85 L358.15,328.85 L358.48,328.85 L358.81,328.85 L359.14,328.85 L359.47,328.87 L359.80,328.92 L360.13,329.09 L360.46,329.53 L360.79,330.48 L361.12,332.26 L361.45,334.98 L361.78,338.37 L362.11,341.60 L362.44,343.59 L362.77,343.56 L363.10,341.52 L363.43,338.26 L363.76,334.88 L364.09,332.19 L364.42,330.44 L364.75,329.51 L365.08,329.08 L365.41,328.92 L365.74,328.87 L366.07,328.85 L366.40,328.85 L366.73,328.85 L367.06,328.85 L367.39,328.85 L367.72,328.85 L368.05,328.85 L368.38,328.85 L368.71,328.85 L369.04,328.85 L369.37,328.85 L369.70,328.85 L370.03,328.85 L370.36,328.85 L370.69,328.85 L371.02,328.85 L371.35,328.85 L371.68,328.85 L372.01,328.85 L372.34,328.85 L372.67,328.85 L373.00,328.85 L373.33,328.85 L373.66,328.85 L373.99,328.85 L374.32,328.85 L374.65,328.85 L374.98,328.85 L375.31,328.85 L375.64,328.85 L375.97,328.85 L376.30,328.85 L376.63,328.85 L376.96,328.85 L377.29,328.85 L377.62,328.85 L377.95,328.85 L378.28,328.85 L378.61,328.85 L378.94,328.85 L379.27,328.85 L379.60,328.85 L379.93,328.85 L380.26,328.85 L380.59,328.85 L380.92,328.86 L381.25,328.88 L381.58,328.97 L381.91,329.18 L382.24,329.67 L382.57,330.59 L382.90,332.06 L383.23,333.94 L383.56,335.83 L383.89,337.10 L384.22,337.27 L384.55,336.26 L384.88,334.48 L385.21,332.54 L385.54,330.94 L385.87,329.87 L386.20,329.28 L386.53,329.01 L386.86,328.90 L387.19,328.86 L387.52,328.85 L387.85,328.85 L388.18,328.85 L388.51,328.85 L388.84,328.85 L389.17,328.85 L389.50,328.85 L389.83,328.85 L390.16,328.85 L390.49,328.85 L390.82,328.85 L391.15,328.85 L391.48,328.85 L391.81,328.85 L392.14,328.85 L392.47,328.85 L392.80,328.85 L393.13,328.85 L393.46,328.85 L393.79,328.85 L394.12,328.85 L394.45,328.85 L394.78,328.85 L395.11,328.85 L395.44,328.85 L395.77,328.85 L396.10,328.85 L396.43,328.85 L396.76,328.85 L397.09,328.85 L397.42,328.85 L397.75,328.85 L398.08,328.85 L398.41,328.85 L398.74,328.87 L399.07,328.90 L399.40,328.97 L399.73,329.13 L400.06,329.43 L400.39,329.91 L400.72,330.54 L401.05,331.24 L401.38,331.83 L401.71,332.13 L402.04,332.04 L402.37,331.59 L402.70,330.92 L403.03,330.24 L403.36,329.67 L403.69,329.28 L404.02,329.05 L404.35,328.93 L404.68,328.88 L405.01,328.86 L405.34,328.85 L405.67,328.85 L406.00,328.85 L406.33,328.85 L406.66,328.85 L406.99,328.85 L407.32,328.85 L407.65,328.85 L407.98,328.85 L408.31,328.85 L408.64,328.85 L408.97,328.85 L409.30,328.85 L409.63,328.85 L409.96,328.85 L410.29,328.85 L410.62,328.85 L410.95,328.85 L411.28,328.85 L411.61,328.85 L411.94,328.85 L412.27,328.85 L412.60,328.85 L412.93,328.85 L413.26,328.85 L413.59,328.85 L413.92,328.85 L414.25,328.85 L414.58,328.85 L414.91,328.85 L415.24,328.85 L415.57,328.85 L415.90,328.85 L416.23,328.85 L416.56,328.85 L416.89,328.85 L417.22,328.85 L417.55,328.85 L417.88,328.85 L418.21,328.85 L418.54,328.86 L418.87,328.86 L419.20,328.86 L419.53,328.87 L419.86,328.87 L420.19,328.88 L420.52,328.90 L420.85,328.91 L421.18,328.94 L421.51,328.96 L421.84,329.00 L422.17,329.04 L422.50,329.10 L422.83,329.16 L423.16,329.24 L423.49,329.33 L423.82,329.43 L424.15,329.55 L424.48,329.70 L424.81,329.88 L425.14,330.13 L425.47,330.52 L425.80,331.17 L426.13,332.25 L426.46,334.01 L426.79,336.70 L427.12,340.46 L427.45,345.23 L427.78,350.61 L428.11,355.83 L428.44,359.97 L428.77,362.15 L429.10,361.89 L429.43,359.23 L429.76,354.78 L430.09,349.45 L430.42,344.15 L430.75,339.57 L431.08,336.04 L431.41,333.57 L431.74,331.97 L432.07,331.00 L432.40,330.42 L432.73,330.08 L433.06,329.85 L433.39,329.71 L433.72,329.63 L434.05,329.62 L434.38,329.72 L434.71,329.94 L435.04,330.25 L435.37,330.59 L435.70,330.87 L436.03,330.99 L436.36,330.89 L436.69,330.59 L437.02,330.19 L437.35,329.77 L437.68,329.42 L438.01,329.16 L438.34,329.01 L438.67,328.92 L439.00,328.88 L439.33,328.86 L439.66,328.86 L439.99,328.85 L440.32,328.85 L440.65,328.85 L440.98,328.85 L441.31,328.85 L441.64,328.85 L441.97,328.85 L442.30,328.85 L442.63,328.85 L442.96,328.85 L443.29,328.85 L443.62,328.85 L443.95,328.85 L444.28,328.85 L444.61,328.85 L444.94,328.85 L445.27,328.85 L445.60,328.85 L445.93,328.85 L446.26,328.85 L446.59,328.85 L446.92,328.85 L447.25,328.85 L447.58,328.85 L447.91,328.85 L448.24,328.85 L448.57,328.85 L448.90,328.85 L449.23,328.85 L449.56,328.85 L449.89,328.85 L450.22,328.85 L450.55,328.85 L450.88,328.85 L451.21,328.85 L451.54,328.85 L451.87,328.85 L452.20,328.85 L452.53,328.85 L452.86,328.85 L453.19,328.85 L453.52,328.85 L453.85,328.85 L454.18,328.85 L454.51,328.85 L454.84,328.85 L455.17,328.85 L455.50,328.85 L455.83,328.85 L456.16,328.85 L456.49,328.85 L456.82,328.85 L457.15,328.85 L457.48,328.85 L457.81,328.85 L458.14,328.85 L458.47,328.85 L458.80,328.85 L459.13,328.85 L459.46,328.85 L459.79,328.85 L460.12,328.85 L460.45,328.85 L460.78,328.85 L461.11,328.85 L461.44,328.85 L461.77,328.85 L462.10,328.85 L462.43,328.85 L462.76,328.85 L463.09,328.85 L463.42,328.85 L463.75,328.85 L464.08,328.85 L464.41,328.85 L464.74,328.85 L465.07,328.85 L465.40,328.85 L465.73,328.85 L466.06,328.85 L466.39,328.85 L466.72,328.85 L467.05,328.85 L467.38,328.85 L467.71,328.85 L468.04,328.85 L468.37,328.85 L468.70,328.85 L469.03,328.85 L469.36,328.85 L469.69,328.85 L470.02,328.85 L470.35,328.85 L470.68,328.85 L471.01,328.85 L471.34,328.85 L471.67,328.85 L472.00,328.85 L472.33,328.85 L472.66,328.85 L472.99,328.85 L473.32,328.85 L473.65,328.85 L473.98,328.85 L474.31,328.85 L474.64,328.85 L474.97,328.85 L475.30,328.85 L475.63,328.85 L475.96,328.85 L476.29,328.85 L476.62,328.85 L476.95,328.85 L477.28,328.85 L477.61,328.85 L477.94,328.85 L478.27,328.85 L478.60,328.85 L478.93,328.85 L479.26,328.85 L479.59,328.85 L479.92,328.85 L480.25,328.86 L480.58,328.87 L480.91,328.92 L481.24,329.03 L481.57,329.28 L481.90,329.75 L482.23,330.46 L482.56,331.39 L482.89,332.34 L483.22,333.04 L483.55,333.24 L483.88,332.87 L484.21,332.07 L484.54,331.10 L484.87,330.22 L485.20,329.58 L485.53,329.19 L485.86,328.99 L486.19,328.90 L486.52,328.87 L486.85,328.85 L487.18,328.85 L487.51,328.85 L487.84,328.85 L488.17,328.85 L488.50,328.85 L488.83,328.85 L489.16,328.85 L489.49,328.88 L489.82,328.97 L490.15,329.30 L490.48,330.23 L490.81,332.31 L491.14,335.98 L491.47,340.95 L491.80,345.75 L492.13,348.26 L492.46,347.21 L492.79,343.13 L493.12,337.99 L493.45,333.67 L493.78,330.94 L494.11,329.59 L494.44,329.07 L494.77,328.90 L495.10,328.86 L495.43,328.85 L495.76,328.85 L496.09,328.85 L496.42,328.85 L496.75,328.85 L497.08,328.85 L497.41,328.85 L497.74,328.85 L498.07,328.85 L498.40,328.85 L498.73,328.85 L499.06,328.85 L499.39,328.85 L499.72,328.85 L500.05,328.85 L500.38,328.85 L500.71,328.85 L501.04,328.85 L501.37,328.86 L501.70,328.90 L502.03,329.06 L502.36,329.54 L502.69,330.71 L503.02,332.96 L503.35,336.34 L503.68,340.08 L504.01,342.70 L504.34,342.90 L504.67,340.58 L505.00,336.91 L505.33,333.41 L505.66,330.97 L505.99,329.66 L506.32,329.11 L506.65,328.92 L506.98,328.88 L507.31,328.90 L507.64,329.03 L507.97,329.37 L508.30,330.08 L508.63,331.26 L508.96,332.73 L509.29,333.99 L509.62,334.45 L509.95,333.87 L510.28,332.55 L510.61,331.10 L510.94,329.97 L511.27,329.31 L511.60,329.01 L511.93,328.89 L512.26,328.86 L512.59,328.85 L512.92,328.85 L513.25,328.85 L513.58,328.85 L513.91,328.85 L514.24,328.85 L514.57,328.85 L514.90,328.85 L515.23,328.85 L515.56,328.85 L515.89,328.85 L516.22,328.85 L516.55,328.85 L516.88,328.85 L517.21,328.85 L517.54,328.85 L517.87,328.85 L518.20,328.85 L518.53,328.85 L518.86,328.85 L519.19,328.85 L519.52,328.85 L519.85,328.85 L520.18,328.86 L520.51,328.90 L520.84,328.99 L521.17,329.21 L521.50,329.62 L521.83,330.26 L522.16,331.05 L522.49,331.76 L522.82,332.13 L523.15,332.00 L523.48,331.42 L523.81,330.64 L524.14,329.91 L524.47,329.39 L524.80,329.10 L525.13,329.01 L525.46,329.08 L525.79,329.34 L526.12,329.83 L526.45,330.54 L526.78,331.33 L527.11,331.95 L527.44,332.15 L527.77,331.83 L528.10,331.15 L528.43,330.36 L528.76,329.69 L529.09,329.25 L529.42,329.01 L529.75,328.91 L530.08,328.87 L530.41,328.85 L530.74,328.85 L531.07,328.85 L531.40,328.85 L531.73,328.85 L532.06,328.85 L532.39,328.85 L532.72,328.85 L533.05,328.85 L533.38,328.85 L533.71,328.85 L534.04,328.85 L534.37,328.85 L534.70,328.85 L535.03,328.85 L535.36,328.85 L535.69,328.85 L536.02,328.85 L536.35,328.85 L536.68,328.85 L537.01,328.85 L537.34,328.85 L537.67,328.85 L538.00,328.85 L538.33,328.85 L538.66,328.85 L538.99,328.85 L539.32,328.85 L539.65,328.85 L539.98,328.85 L540.31,328.85 L540.64,328.85 L540.97,328.85 L541.30,328.85 L541.63,328.85 L541.96,328.85 L542.29,328.85 L542.62,328.85 L542.95,328.85 L543.28,328.85 L543.61,328.85 L543.94,328.85 L544.27,328.85 L544.60,328.85 L544.93,328.85 L545.26,328.85 L545.59,328.85 L545.92,328.85 L546.25,328.85 L546.58,328.85 L546.91,328.85 L547.24,328.85 L547.57,328.85 L547.90,328.85 L548.23,328.85 L548.56,328.85 L548.89,328.85 L549.22,328.85 L549.55,328.85 L549.88,328.85 L550.21,328.85 L550.54,328.85 L550.87,328.85 L551.20,328.85 L551.53,328.85 L551.86,328.85 L552.19,328.85 L552.52,328.85 L552.85,328.85 L553.18,328.85 L553.51,328.85 L553.84,328.85 L554.17,328.85 L554.50,328.85 L554.83,328.85 L555.16,328.85 L555.49,328.85 L555.82,328.85 L556.15,328.85 L556.48,328.85 L556.81,328.85 L557.14,328.85 L557.47,328.85 L557.80,328.85 L558.13,328.85 L558.46,328.85 L558.79,328.85 L559.12,328.86 L559.45,328.89 L559.78,328.96 L560.11,329.14 L560.44,329.53 L560.77,330.27 L561.10,331.48 L561.43,333.19 L561.76,335.24 L562.09,337.23 L562.42,338.64 L562.75,339.04 L563.08,338.30 L563.41,336.66 L563.74,334.60 L564.07,332.63 L564.40,331.06 L564.73,330.01 L565.06,329.41 L565.39,329.16 L565.72,329.19 L566.05,329.54 L566.38,330.38 L566.71,331.97 L567.04,334.55 L567.37,338.14 L567.70,342.33 L568.03,346.28 L568.36,348.93 L568.69,349.46 L569.02,347.70 L569.35,344.22 L569.68,340.01 L570.01,336.07 L570.34,333.01 L570.67,330.99 L571.00,329.83 L571.33,329.25 L571.66,329.00 L571.99,328.90 L572.32,328.86 L572.65,328.85 L572.98,328.85 L573.31,328.85 L573.64,328.85 L573.97,328.85 L574.30,328.85 L574.63,328.85 L574.96,328.86 L575.29,328.87 L575.62,328.91 L575.95,329.01 L576.28,329.23 L576.61,329.64 L576.94,330.27 L577.27,331.07 L577.60,331.89 L577.93,332.48 L578.26,332.64 L578.59,332.31 L578.92,331.60 L579.25,330.77 L579.58,330.01 L579.91,329.47 L580.24,329.14 L580.57,328.97 L580.90,328.89 L581.23,328.86 L581.56,328.85 L581.89,328.85 L582.22,328.85 L582.55,328.85 L582.88,328.85 L583.21,328.85 L583.54,328.85 L583.87,328.85 L584.20,328.85 L584.53,328.85 L584.86,328.85 L585.19,328.85 L585.52,328.85 L585.85,328.85 L586.18,328.85 L586.51,328.85 L586.84,328.86 L587.17,328.87 L587.50,328.91 L587.83,328.98 L588.16,329.14 L588.49,329.39 L588.82,329.75 L589.15,330.17 L589.48,330.56 L589.81,330.81 L590.14,330.83 L590.47,330.61 L590.80,330.24 L591.13,329.81 L591.46,329.44 L591.79,329.17 L592.12,329.00 L592.45,328.91 L592.78,328.87 L593.11,328.86 L593.44,328.85 L593.77,328.85 L594.10,328.86 L594.43,328.90 L594.76,329.03 L595.09,329.40 L595.42,330.28 L595.75,332.00 L596.08,334.74 L596.41,338.24 L596.74,341.59 L597.07,343.56 L597.40,343.32 L597.73,340.95 L598.06,337.47 L598.39,334.08 L598.72,331.55 L599.05,330.03 L599.38,329.29 L599.71,328.99 L600.04,328.89 L600.37,328.86 L600.70,328.85 L601.03,328.85 L601.36,328.85 L601.69,328.85 L602.02,328.85 L602.35,328.85 L602.68,328.85 L603.01,328.85 L603.34,328.85 L603.67,328.85 L604.00,328.85 L604.33,328.86 L604.66,328.88 L604.99,328.94 L605.32,329.10 L605.65,329.40 L605.98,329.93 L606.31,330.65 L606.64,331.46 L606.97,332.10 L607.30,332.35 L607.63,332.10 L607.96,331.46 L608.29,330.65 L608.62,329.93 L608.95,329.41 L609.28,329.10 L609.61,328.96 L609.94,328.93 L610.27,328.99 L610.60,329.19 L610.93,329.59 L611.26,330.23 L611.59,331.08 L611.92,331.96 L612.25,332.59 L612.58,332.73 L612.91,332.33 L613.24,331.54 L613.57,330.65 L613.90,329.89 L614.23,329.36 L614.56,329.07 L614.89,328.93 L615.22,328.88 L615.55,328.86 L615.88,328.86 L616.21,328.89 L616.54,328.99 L616.87,329.31 L617.20,330.12 L617.53,331.81 L617.86,334.72 L618.19,338.77 L618.52,343.12 L618.85,346.32 L619.18,347.06 L619.51,345.01 L619.84,341.05 L620.17,336.70 L620.50,333.14 L620.83,330.85 L621.16,329.64 L621.49,329.12 L621.82,328.93 L622.15,328.87 L622.48,328.85 L622.81,328.85 L623.14,328.85 L623.47,328.85 L623.80,328.85 L624.13,328.85 L624.46,328.85 L624.79,328.85 L625.12,328.85 L625.45,328.85 L625.78,328.85 L626.11,328.85 L626.44,328.85 L626.77,328.85 L627.10,328.85 L627.43,328.85 L627.76,328.85 L628.09,328.85 L628.42,328.85 L628.75,328.85 L629.08,328.85 L629.41,328.85 L629.74,328.85 L630.07,328.85 L630.40,328.85 L630.73,328.85 L631.06,328.85 L631.39,328.85 L631.72,328.85 L632.05,328.85 L632.38,328.85 L632.71,328.85 L633.04,328.85 L633.37,328.85 L633.70,328.85 L634.03,328.85 L634.36,328.85 L634.69,328.85 L635.02,328.85 L635.35,328.85 L635.68,328.85 L636.01,328.85 L636.34,328.85 L636.67,328.85 L637.00,328.85 L637.33,328.85 L637.66,328.85 L637.99,328.85 L638.32,328.85 L638.65,328.85 L638.98,328.85 L639.31,328.85 L639.64,328.85 L639.97,328.85 L640.30,328.85 L640.63,328.85 L640.96,328.85 L641.29,328.85 L641.62,328.85 L641.95,328.85 L642.28,328.85 L642.61,328.85 L642.94,328.85 L643.27,328.85 L643.60,328.85 L643.93,328.85 L644.26,328.85 L644.59,328.85 L644.92,328.85 L645.25,328.85 L645.58,328.85 L645.91,328.85 L646.24,328.85 L646.57,328.85 L646.90,328.85 L647.23,328.85 L647.56,328.85 L647.89,328.85 L648.22,328.85 L648.55,328.85 L648.88,328.85 L649.21,328.85 L649.54,328.85 L649.87,328.85 L650.20,328.85 L650.53,328.85 L650.86,328.85 L651.19,328.85 L651.52,328.85 L651.85,328.85 L652.18,328.85 L652.51,328.85 L652.84,328.85 L653.17,328.85 L653.50,328.85 L653.83,328.85 L654.16,328.85 L654.49,328.85 L654.82,328.85 L655.15,328.85 L655.48,328.85 L655.81,328.85 L656.14,328.85 L656.47,328.85 L656.80,328.85 L657.13,328.85 L657.46,328.85 L657.79,328.85 L658.12,328.85 L658.45,328.85 L658.78,328.85 L659.11,328.85 L659.44,328.85 L659.77,328.85 L660.10,328.85 L660.43,328.85 L660.76,328.85 L661.09,328.85 L661.42,328.85 L661.75,328.85 L662.08,328.85 L662.41,328.85 L662.74,328.85 L663.07,328.85 L663.40,328.85 L663.73,328.85 L664.06,328.85 L664.39,328.85 L664.72,328.85 L665.05,328.85 L665.38,328.85 L665.71,328.85 L666.04,328.85 L666.37,328.85 L666.70,328.85 L667.03,328.85 L667.36,328.85 L667.69,328.85 L668.02,328.85 L668.35,328.85 L668.68,328.85 L669.01,328.85 L669.34,328.85 L669.67,328.85 L670.00,328.85 L670.33,328.85 L670.66,328.85 L670.99,328.85 L671.32,328.85 L671.65,328.85 L671.98,328.85 L672.31,328.85 L672.64,328.85 L672.97,328.85 L673.30,328.85 L673.63,328.85 L673.96,328.85 L674.29,328.85 L674.62,328.85 L674.95,328.85 L675.28,328.85 L675.61,328.85 L675.94,328.85 L676.27,328.85 L676.60,328.85 L676.93,328.85 L677.26,328.85 L677.59,328.85 L677.92,328.85 L678.25,328.85 L678.58,328.85 L678.91,328.85 L679.24,328.85 L679.57,328.85 L679.90,328.85 L680.23,328.85 L680.56,328.85 L680.89,328.85 L681.22,328.85 L681.55,328.85 L681.88,328.85 L682.21,328.85 L682.54,328.85 L682.87,328.85 L683.20,328.85 L683.53,328.85 L683.86,328.85 L684.19,328.85 L684.52,328.85 L684.85,328.85 L685.18,328.85 L685.51,328.85 L685.84,328.85 L686.17,328.85 L686.50,328.85 L686.83,328.85 L687.16,328.85" fill="none" stroke="#ff0000" stroke-width="1.1" stroke-linejoin="round" stroke-dasharray="1.15 1.85" clip-path="url(#cpm)"/>
<rect x="49.60" y="231.50" width="637.70" height="194.70" fill="none" stroke="#222" stroke-width="1.2"/>
<text transform="translate(14.6,375.8) rotate(-90)" font-size="14" fill="#111" font-family="Liberation Serif, serif">Normalized flux</text>
<clipPath id="cpl"><rect x="49.6" y="479.8" width="283.4" height="194.8"/></clipPath>
<line x1="49.60" y1="577.20" x2="333.00" y2="577.20" stroke="#bdbdbd" stroke-width="0.9" />
<line x1="72.73" y1="674.60" x2="72.73" y2="669.60" stroke="#222" stroke-width="0.9" />
<line x1="72.73" y1="479.80" x2="72.73" y2="484.80" stroke="#222" stroke-width="0.9" />
<line x1="95.87" y1="674.60" x2="95.87" y2="669.60" stroke="#222" stroke-width="0.9" />
<line x1="95.87" y1="479.80" x2="95.87" y2="484.80" stroke="#222" stroke-width="0.9" />
<line x1="119.00" y1="674.60" x2="119.00" y2="669.60" stroke="#222" stroke-width="0.9" />
<line x1="119.00" y1="479.80" x2="119.00" y2="484.80" stroke="#222" stroke-width="0.9" />
<line x1="142.14" y1="674.60" x2="142.14" y2="669.60" stroke="#222" stroke-width="0.9" />
<line x1="142.14" y1="479.80" x2="142.14" y2="484.80" stroke="#222" stroke-width="0.9" />
<line x1="165.27" y1="674.60" x2="165.27" y2="665.20" stroke="#222" stroke-width="0.9" />
<line x1="165.27" y1="479.80" x2="165.27" y2="489.20" stroke="#222" stroke-width="0.9" />
<line x1="188.41" y1="674.60" x2="188.41" y2="669.60" stroke="#222" stroke-width="0.9" />
<line x1="188.41" y1="479.80" x2="188.41" y2="484.80" stroke="#222" stroke-width="0.9" />
<line x1="211.54" y1="674.60" x2="211.54" y2="669.60" stroke="#222" stroke-width="0.9" />
<line x1="211.54" y1="479.80" x2="211.54" y2="484.80" stroke="#222" stroke-width="0.9" />
<line x1="234.68" y1="674.60" x2="234.68" y2="669.60" stroke="#222" stroke-width="0.9" />
<line x1="234.68" y1="479.80" x2="234.68" y2="484.80" stroke="#222" stroke-width="0.9" />
<line x1="257.81" y1="674.60" x2="257.81" y2="669.60" stroke="#222" stroke-width="0.9" />
<line x1="257.81" y1="479.80" x2="257.81" y2="484.80" stroke="#222" stroke-width="0.9" />
<line x1="280.95" y1="674.60" x2="280.95" y2="665.20" stroke="#222" stroke-width="0.9" />
<line x1="280.95" y1="479.80" x2="280.95" y2="489.20" stroke="#222" stroke-width="0.9" />
<line x1="304.08" y1="674.60" x2="304.08" y2="669.60" stroke="#222" stroke-width="0.9" />
<line x1="304.08" y1="479.80" x2="304.08" y2="484.80" stroke="#222" stroke-width="0.9" />
<line x1="327.22" y1="674.60" x2="327.22" y2="669.60" stroke="#222" stroke-width="0.9" />
<line x1="327.22" y1="479.80" x2="327.22" y2="484.80" stroke="#222" stroke-width="0.9" />
<line x1="49.60" y1="642.13" x2="58.80" y2="642.13" stroke="#222" stroke-width="0.9" />
<line x1="333.00" y1="642.13" x2="323.80" y2="642.13" stroke="#222" stroke-width="0.9" />
<text x="39.00" y="647.13" font-size="14" text-anchor="end" fill="#111" font-family="Liberation Serif, serif" >0.5</text>
<line x1="49.60" y1="577.20" x2="58.80" y2="577.20" stroke="#222" stroke-width="0.9" />
<line x1="333.00" y1="577.20" x2="323.80" y2="577.20" stroke="#222" stroke-width="0.9" />
<text x="39.00" y="582.20" font-size="14" text-anchor="end" fill="#111" font-family="Liberation Serif, serif" >1.0</text>
<line x1="49.60" y1="512.27" x2="58.80" y2="512.27" stroke="#222" stroke-width="0.9" />
<line x1="333.00" y1="512.27" x2="323.80" y2="512.27" stroke="#222" stroke-width="0.9" />
<text x="39.00" y="517.27" font-size="14" text-anchor="end" fill="#111" font-family="Liberation Serif, serif" >1.5</text>
<text x="49.60" y="690.80" font-size="14" text-anchor="middle" fill="#111" font-family="Liberation Serif, serif" >4800</text>
<text x="165.27" y="690.80" font-size="14" text-anchor="middle" fill="#111" font-family="Liberation Serif, serif" >4900</text>
<text x="280.95" y="690.80" font-size="14" text-anchor="middle" fill="#111" font-family="Liberation Serif, serif" >5000</text>
<text x="191.30" y="707.60" font-size="14" text-anchor="middle" fill="#111" font-family="Liberation Serif, serif" word-spacing="0.85">λ / Å</text>
<path d="M118.70,561.90 L118.70,550.60" fill="none" stroke="#2a2a2a" stroke-width="0.85" stroke-linejoin="miter"/>
<text transform="translate(123.90,546.90) rotate(-90) scale(0.7522,1)" font-size="13.6" fill="#111" font-family="Liberation Serif, serif" word-spacing="0">He II</text>
<path d="M120.30,561.90 L120.30,556.90 L132.60,552.10 L132.60,550.60" fill="none" stroke="#2a2a2a" stroke-width="0.85" stroke-linejoin="miter"/>
<text transform="translate(137.80,546.90) rotate(-90) scale(0.7825,1)" font-size="13.6" fill="#111" font-family="Liberation Serif, serif" word-spacing="0">Hβ</text>
<path d="M190.30,561.90 L190.30,550.60" fill="none" stroke="#2a2a2a" stroke-width="0.85" stroke-linejoin="miter"/>
<text transform="translate(195.50,546.90) rotate(-90) scale(0.7399,1)" font-size="13.6" fill="#111" font-family="Liberation Serif, serif" word-spacing="0">He I</text>
<path d="M217.20,561.90 L217.20,550.60" fill="none" stroke="#2a2a2a" stroke-width="0.85" stroke-linejoin="miter"/>
<text transform="translate(222.40,546.90) rotate(-90) scale(0.7290,1)" font-size="13.6" fill="#111" font-family="Liberation Serif, serif" word-spacing="0">N IV</text>
<path d="M233.40,561.90 L233.40,556.90 L289.30,556.90 L289.30,561.90" fill="none" stroke="#2a2a2a" stroke-width="0.85" stroke-linejoin="miter"/>
<path d="M261.35,556.90 L261.35,550.60" fill="none" stroke="#2a2a2a" stroke-width="0.85" stroke-linejoin="miter"/>
<text transform="translate(266.55,546.90) rotate(-90) scale(0.7089,1)" font-size="13.6" fill="#111" font-family="Liberation Serif, serif" word-spacing="2.2">[O III] (neb)</text>
<path d="M298.90,561.90 L298.90,550.60" fill="none" stroke="#2a2a2a" stroke-width="0.85" stroke-linejoin="miter"/>
<text transform="translate(304.10,546.90) rotate(-90) scale(0.7399,1)" font-size="13.6" fill="#111" font-family="Liberation Serif, serif" word-spacing="0">He I</text>
<path d="M49.60,577.55 L49.93,577.47 L50.26,577.35 L50.59,577.23 L50.92,577.16 L51.25,577.18 L51.58,577.27 L51.91,577.43 L52.24,577.60 L52.57,577.73 L52.90,577.77 L53.23,577.72 L53.56,577.58 L53.89,577.37 L54.22,577.15 L54.55,576.99 L54.88,576.91 L55.21,576.92 L55.54,576.96 L55.87,576.98 L56.20,576.95 L56.53,576.91 L56.86,576.89 L57.19,576.91 L57.52,576.94 L57.85,576.93 L58.18,576.87 L58.51,576.80 L58.84,576.75 L59.17,576.75 L59.50,576.78 L59.83,576.80 L60.16,576.81 L60.49,576.82 L60.82,576.84 L61.15,576.91 L61.48,577.01 L61.81,577.14 L62.14,577.27 L62.47,577.37 L62.80,577.41 L63.13,577.42 L63.46,577.40 L63.79,577.34 L64.12,577.24 L64.45,577.11 L64.78,577.01 L65.11,576.98 L65.44,577.03 L65.77,577.12 L66.10,577.18 L66.43,577.18 L66.76,577.13 L67.09,577.06 L67.42,576.99 L67.75,576.90 L68.08,576.78 L68.41,576.62 L68.74,576.44 L69.07,576.27 L69.40,576.17 L69.73,576.19 L70.06,576.39 L70.39,576.74 L70.72,577.12 L71.05,577.43 L71.38,577.57 L71.71,577.50 L72.04,577.26 L72.37,576.92 L72.70,576.55 L73.03,576.22 L73.36,575.99 L73.69,575.90 L74.02,575.96 L74.35,576.15 L74.68,576.42 L75.01,576.70 L75.34,576.94 L75.67,577.10 L76.00,577.22 L76.33,577.31 L76.66,577.38 L76.99,577.45 L77.32,577.47 L77.65,577.44 L77.98,577.35 L78.31,577.24 L78.64,577.13 L78.97,577.07 L79.30,577.08 L79.63,577.18 L79.96,577.33 L80.29,577.46 L80.62,577.53 L80.95,577.53 L81.28,577.49 L81.61,577.40 L81.94,577.25 L82.27,577.06 L82.60,576.86 L82.93,576.72 L83.26,576.65 L83.59,576.67 L83.92,576.74 L84.25,576.86 L84.58,576.95 L84.91,576.96 L85.24,576.91 L85.57,576.85 L85.90,576.85 L86.23,576.94 L86.56,577.09 L86.89,577.22 L87.22,577.27 L87.55,577.25 L87.88,577.17 L88.21,577.06 L88.54,576.94 L88.87,576.85 L89.20,576.82 L89.53,576.84 L89.86,576.88 L90.19,576.92 L90.52,576.94 L90.85,576.94 L91.18,576.97 L91.51,577.06 L91.84,577.22 L92.17,577.43 L92.50,577.63 L92.83,577.76 L93.16,577.79 L93.49,577.73 L93.82,577.59 L94.15,577.41 L94.48,577.18 L94.81,576.95 L95.14,576.74 L95.47,576.58 L95.80,576.50 L96.13,576.52 L96.46,576.67 L96.79,576.94 L97.12,577.27 L97.45,577.55 L97.78,577.70 L98.11,577.66 L98.44,577.48 L98.77,577.22 L99.10,576.99 L99.43,576.85 L99.76,576.83 L100.09,576.92 L100.42,577.08 L100.75,577.27 L101.08,577.40 L101.41,577.46 L101.74,577.43 L102.07,577.33 L102.40,577.24 L102.73,577.19 L103.06,577.21 L103.39,577.30 L103.72,577.42 L104.05,577.54 L104.38,577.63 L104.71,577.67 L105.04,577.65 L105.37,577.57 L105.70,577.45 L106.03,577.31 L106.36,577.18 L106.69,577.08 L107.02,577.05 L107.35,577.07 L107.68,577.13 L108.01,577.22 L108.34,577.33 L108.67,577.46 L109.00,577.59 L109.33,577.69 L109.66,577.77 L109.99,577.82 L110.32,577.87 L110.65,577.99 L110.98,578.17 L111.31,578.28 L111.64,578.33 L111.97,578.31 L112.30,578.30 L112.63,578.40 L112.96,578.64 L113.29,578.93 L113.62,579.27 L113.95,579.63 L114.28,579.96 L114.61,580.25 L114.94,580.61 L115.27,581.14 L115.60,581.63 L115.93,582.11 L116.26,582.55 L116.59,583.04 L116.92,583.80 L117.25,584.59 L117.58,585.44 L117.91,586.40 L118.24,587.52 L118.57,588.68 L118.90,589.87 L119.23,591.00 L119.56,592.08 L119.89,592.68 L120.22,592.90 L120.55,593.07 L120.88,594.86 L121.21,598.14 L121.54,604.57 L121.87,608.50 L122.20,610.07 L122.53,611.31 L122.86,612.03 L123.19,612.75 L123.52,611.92 L123.85,611.12 L124.18,609.84 L124.51,608.47 L124.84,605.73 L125.17,601.08 L125.50,596.29 L125.83,592.04 L126.16,588.25 L126.49,585.42 L126.82,583.73 L127.15,582.61 L127.48,581.51 L127.81,580.95 L128.14,580.49 L128.47,580.11 L128.80,579.91 L129.13,579.80 L129.46,579.66 L129.79,579.46 L130.12,579.25 L130.45,579.10 L130.78,578.97 L131.11,578.89 L131.44,578.83 L131.77,578.77 L132.10,578.68 L132.43,578.55 L132.76,578.40 L133.09,578.21 L133.42,577.98 L133.75,577.75 L134.08,577.50 L134.41,577.32 L134.74,577.22 L135.07,577.22 L135.40,577.26 L135.73,577.35 L136.06,577.43 L136.39,577.45 L136.72,577.46 L137.05,577.48 L137.38,577.54 L137.71,577.61 L138.04,577.68 L138.37,577.68 L138.70,577.58 L139.03,577.41 L139.36,577.24 L139.69,577.11 L140.02,577.04 L140.35,577.00 L140.68,576.95 L141.01,576.89 L141.34,576.86 L141.67,576.89 L142.00,577.01 L142.33,577.18 L142.66,577.35 L142.99,577.48 L143.32,577.53 L143.65,577.48 L143.98,577.36 L144.31,577.18 L144.64,576.99 L144.97,576.84 L145.30,576.78 L145.63,576.83 L145.96,576.94 L146.29,577.06 L146.62,577.11 L146.95,577.09 L147.28,577.04 L147.61,576.98 L147.94,576.95 L148.27,576.96 L148.60,576.96 L148.93,576.96 L149.26,576.93 L149.59,576.87 L149.92,576.79 L150.25,576.70 L150.58,576.68 L150.91,576.75 L151.24,576.93 L151.57,577.18 L151.90,577.44 L152.23,577.64 L152.56,577.75 L152.89,577.77 L153.22,577.71 L153.55,577.59 L153.88,577.46 L154.21,577.32 L154.54,577.17 L154.87,576.98 L155.20,576.75 L155.53,576.53 L155.86,576.38 L156.19,576.35 L156.52,576.48 L156.85,576.72 L157.18,576.98 L157.51,577.17 L157.84,577.25 L158.17,577.24 L158.50,577.18 L158.83,577.12 L159.16,577.08 L159.49,577.04 L159.82,576.99 L160.15,576.95 L160.48,576.89 L160.81,576.80 L161.14,576.70 L161.47,576.61 L161.80,576.59 L162.13,576.65 L162.46,576.78 L162.79,576.94 L163.12,577.06 L163.45,577.09 L163.78,577.02 L164.11,576.90 L164.44,576.81 L164.77,576.80 L165.10,576.89 L165.43,577.01 L165.76,577.10 L166.09,577.12 L166.42,577.08 L166.75,577.04 L167.08,577.01 L167.41,577.01 L167.74,576.99 L168.07,576.94 L168.40,576.85 L168.73,576.73 L169.06,576.61 L169.39,576.53 L169.72,576.49 L170.05,576.51 L170.38,576.55 L170.71,576.58 L171.04,576.61 L171.37,576.63 L171.70,576.68 L172.03,576.78 L172.36,576.97 L172.69,577.25 L173.02,577.62 L173.35,578.08 L173.68,578.58 L174.01,579.09 L174.34,579.49 L174.67,579.68 L175.00,579.59 L175.33,579.20 L175.66,578.63 L175.99,578.03 L176.32,577.57 L176.65,577.32 L176.98,577.27 L177.31,577.35 L177.64,577.47 L177.97,577.59 L178.30,577.65 L178.63,577.66 L178.96,577.61 L179.29,577.47 L179.62,577.27 L179.95,577.04 L180.28,576.86 L180.61,576.79 L180.94,576.86 L181.27,577.00 L181.60,577.13 L181.93,577.20 L182.26,577.22 L182.59,577.25 L182.92,577.30 L183.25,577.37 L183.58,577.43 L183.91,577.45 L184.24,577.45 L184.57,577.47 L184.90,577.52 L185.23,577.59 L185.56,577.65 L185.89,577.69 L186.22,577.73 L186.55,577.81 L186.88,577.97 L187.21,578.21 L187.54,578.52 L187.87,578.84 L188.20,579.11 L188.53,579.31 L188.86,579.45 L189.19,579.60 L189.52,579.87 L189.85,580.43 L190.18,581.43 L190.51,583.01 L190.84,585.31 L191.17,588.35 L191.50,592.01 L191.83,595.94 L192.16,599.57 L192.49,602.26 L192.82,603.49 L193.15,603.02 L193.48,600.95 L193.81,597.64 L194.14,593.68 L194.47,589.66 L194.80,586.04 L195.13,583.11 L195.46,580.95 L195.79,579.53 L196.12,578.69 L196.45,578.25 L196.78,578.03 L197.11,577.93 L197.44,577.89 L197.77,577.87 L198.10,577.82 L198.43,577.73 L198.76,577.61 L199.09,577.49 L199.42,577.38 L199.75,577.28 L200.08,577.14 L200.41,576.98 L200.74,576.85 L201.07,576.79 L201.40,576.82 L201.73,576.91 L202.06,577.02 L202.39,577.13 L202.72,577.22 L203.05,577.29 L203.38,577.35 L203.71,577.38 L204.04,577.39 L204.37,577.36 L204.70,577.29 L205.03,577.16 L205.36,576.99 L205.69,576.78 L206.02,576.62 L206.35,576.53 L206.68,576.52 L207.01,576.54 L207.34,576.55 L207.67,576.52 L208.00,576.51 L208.33,576.52 L208.66,576.59 L208.99,576.69 L209.32,576.81 L209.65,576.93 L209.98,577.03 L210.31,577.12 L210.64,577.21 L210.97,577.30 L211.30,577.39 L211.63,577.49 L211.96,577.59 L212.29,577.67 L212.62,577.76 L212.95,577.88 L213.28,578.04 L213.61,578.23 L213.94,578.42 L214.27,578.55 L214.60,578.60 L214.93,578.57 L215.26,578.47 L215.59,578.31 L215.92,578.13 L216.25,577.94 L216.58,577.76 L216.91,577.59 L217.24,577.45 L217.57,577.28 L217.90,577.11 L218.23,576.95 L218.56,576.83 L218.89,576.78 L219.22,576.79 L219.55,576.85 L219.88,576.91 L220.21,577.00 L220.54,577.12 L220.87,577.23 L221.20,577.32 L221.53,577.38 L221.86,577.42 L222.19,577.46 L222.52,577.51 L222.85,577.59 L223.18,577.67 L223.51,577.78 L223.84,577.91 L224.17,578.00 L224.50,578.00 L224.83,577.90 L225.16,577.73 L225.49,577.54 L225.82,577.39 L226.15,577.31 L226.48,577.28 L226.81,577.28 L227.14,577.32 L227.47,577.41 L227.80,577.55 L228.13,577.71 L228.46,577.89 L228.79,578.06 L229.12,578.17 L229.45,578.24 L229.78,578.26 L230.11,578.24 L230.44,578.19 L230.77,578.10 L231.10,577.95 L231.43,577.78 L231.76,577.62 L232.09,577.44 L232.42,577.16 L232.75,576.52 L233.08,575.22 L233.41,573.17 L233.74,570.76 L234.07,568.91 L234.40,568.48 L234.73,569.68 L235.06,571.89 L235.39,574.14 L235.72,575.81 L236.05,576.77 L236.38,577.20 L236.71,577.32 L237.04,577.31 L237.37,577.24 L237.70,577.16 L238.03,577.10 L238.36,577.05 L238.69,577.03 L239.02,577.06 L239.35,577.12 L239.68,577.21 L240.01,577.29 L240.34,577.35 L240.67,577.35 L241.00,577.30 L241.33,577.19 L241.66,577.08 L241.99,576.98 L242.32,576.96 L242.65,577.03 L242.98,577.17 L243.31,577.33 L243.64,577.44 L243.97,577.46 L244.30,577.37 L244.63,577.23 L244.96,577.11 L245.29,577.09 L245.62,577.18 L245.95,577.35 L246.28,577.53 L246.61,577.68 L246.94,577.73 L247.27,577.66 L247.60,577.48 L247.93,577.23 L248.26,577.02 L248.59,576.88 L248.92,576.81 L249.25,576.81 L249.58,576.84 L249.91,576.85 L250.24,576.86 L250.57,576.89 L250.90,576.95 L251.23,577.06 L251.56,577.20 L251.89,577.32 L252.22,577.43 L252.55,577.50 L252.88,577.53 L253.21,577.48 L253.54,577.38 L253.87,577.23 L254.20,577.08 L254.53,576.95 L254.86,576.90 L255.19,576.95 L255.52,577.09 L255.85,577.25 L256.18,577.40 L256.51,577.50 L256.84,577.53 L257.17,577.51 L257.50,577.44 L257.83,577.37 L258.16,577.35 L258.49,577.38 L258.82,577.49 L259.15,577.59 L259.48,577.65 L259.81,577.62 L260.14,577.50 L260.47,577.34 L260.80,577.18 L261.13,577.03 L261.46,576.91 L261.79,576.81 L262.12,576.77 L262.45,576.79 L262.78,576.89 L263.11,577.04 L263.44,577.20 L263.77,577.33 L264.10,577.42 L264.43,577.49 L264.76,577.57 L265.09,577.63 L265.42,577.70 L265.75,577.74 L266.08,577.73 L266.41,577.67 L266.74,577.55 L267.07,577.40 L267.40,577.27 L267.73,577.15 L268.06,577.06 L268.39,576.97 L268.72,576.89 L269.05,576.83 L269.38,576.80 L269.71,576.82 L270.04,576.85 L270.37,576.88 L270.70,576.89 L271.03,576.90 L271.36,576.90 L271.69,576.92 L272.02,576.97 L272.35,577.08 L272.68,577.22 L273.01,577.37 L273.34,577.49 L273.67,577.55 L274.00,577.57 L274.33,577.51 L274.66,577.41 L274.99,577.27 L275.32,577.16 L275.65,577.10 L275.98,577.10 L276.31,577.14 L276.64,577.20 L276.97,577.29 L277.30,577.41 L277.63,577.55 L277.96,577.68 L278.29,577.79 L278.62,577.83 L278.95,577.81 L279.28,577.76 L279.61,577.73 L279.94,577.75 L280.27,577.79 L280.60,577.80 L280.93,577.76 L281.26,577.66 L281.59,577.53 L281.92,577.43 L282.25,577.39 L282.58,577.39 L282.91,577.43 L283.24,577.46 L283.57,577.47 L283.90,577.46 L284.23,577.44 L284.56,577.41 L284.89,577.34 L285.22,577.21 L285.55,577.04 L285.88,576.86 L286.21,576.72 L286.54,576.64 L286.87,576.60 L287.20,576.53 L287.53,576.32 L287.86,575.63 L288.19,573.91 L288.52,570.45 L288.85,564.86 L289.18,557.83 L289.51,551.48 L289.84,548.47 L290.17,550.29 L290.50,556.14 L290.83,563.51 L291.16,569.87 L291.49,574.04 L291.82,576.11 L292.15,576.83 L292.48,576.93 L292.81,576.84 L293.14,576.79 L293.47,576.83 L293.80,576.92 L294.13,577.02 L294.46,577.09 L294.79,577.12 L295.12,577.14 L295.45,577.19 L295.78,577.26 L296.11,577.38 L296.44,577.54 L296.77,577.73 L297.10,577.98 L297.43,578.29 L297.76,578.70 L298.09,579.24 L298.42,579.99 L298.75,581.03 L299.08,582.47 L299.41,584.37 L299.74,586.68 L300.07,589.23 L300.40,591.68 L300.73,593.58 L301.06,594.53 L301.39,594.27 L301.72,592.88 L302.05,590.68 L302.38,588.13 L302.71,585.62 L303.04,583.44 L303.37,581.69 L303.70,580.36 L304.03,579.38 L304.36,578.70 L304.69,578.25 L305.02,578.00 L305.35,577.91 L305.68,577.90 L306.01,577.92 L306.34,577.91 L306.67,577.85 L307.00,577.74 L307.33,577.63 L307.66,577.56 L307.99,577.56 L308.32,577.64 L308.65,577.75 L308.98,577.82 L309.31,577.81 L309.64,577.71 L309.97,577.59 L310.30,577.48 L310.63,577.40 L310.96,577.33 L311.29,577.27 L311.62,577.18 L311.95,577.05 L312.28,576.89 L312.61,576.76 L312.94,576.70 L313.27,576.74 L313.60,576.83 L313.93,576.92 L314.26,577.01 L314.59,577.09 L314.92,577.18 L315.25,577.26 L315.58,577.31 L315.91,577.31 L316.24,577.28 L316.57,577.27 L316.90,577.30 L317.23,577.37 L317.56,577.44 L317.89,577.45 L318.22,577.41 L318.55,577.33 L318.88,577.25 L319.21,577.17 L319.54,577.12 L319.87,577.10 L320.20,577.13 L320.53,577.18 L320.86,577.21 L321.19,577.20 L321.52,577.18 L321.85,577.19 L322.18,577.24 L322.51,577.33 L322.84,577.43 L323.17,577.54 L323.50,577.64 L323.83,577.70 L324.16,577.73 L324.49,577.72 L324.82,577.70 L325.15,577.70 L325.48,577.71 L325.81,577.74 L326.14,577.75 L326.47,577.73 L326.80,577.65 L327.13,577.54 L327.46,577.42 L327.79,577.33 L328.12,577.25 L328.45,577.20 L328.78,577.19 L329.11,577.22 L329.44,577.29 L329.77,577.38 L330.10,577.44 L330.43,577.45 L330.76,577.42 L331.09,577.38 L331.42,577.34 L331.75,577.31 L332.08,577.29 L332.41,577.27 L332.74,577.27" fill="none" stroke="#0000ff" stroke-width="1.1" stroke-linejoin="round" clip-path="url(#cpl)"/>
<path d="M49.60,577.20 L49.93,577.20 L50.26,577.20 L50.59,577.20 L50.92,577.20 L51.25,577.20 L51.58,577.20 L51.91,577.20 L52.24,577.20 L52.57,577.20 L52.90,577.20 L53.23,577.20 L53.56,577.20 L53.89,577.20 L54.22,577.20 L54.55,577.20 L54.88,577.20 L55.21,577.20 L55.54,577.20 L55.87,577.20 L56.20,577.20 L56.53,577.20 L56.86,577.20 L57.19,577.20 L57.52,577.20 L57.85,577.20 L58.18,577.20 L58.51,577.20 L58.84,577.20 L59.17,577.20 L59.50,577.20 L59.83,577.20 L60.16,577.20 L60.49,577.20 L60.82,577.20 L61.15,577.20 L61.48,577.20 L61.81,577.20 L62.14,577.20 L62.47,577.20 L62.80,577.20 L63.13,577.20 L63.46,577.20 L63.79,577.20 L64.12,577.20 L64.45,577.20 L64.78,577.20 L65.11,577.20 L65.44,577.20 L65.77,577.20 L66.10,577.20 L66.43,577.20 L66.76,577.20 L67.09,577.20 L67.42,577.20 L67.75,577.20 L68.08,577.20 L68.41,577.20 L68.74,577.20 L69.07,577.20 L69.40,577.20 L69.73,577.20 L70.06,577.20 L70.39,577.20 L70.72,577.20 L71.05,577.20 L71.38,577.20 L71.71,577.20 L72.04,577.20 L72.37,577.20 L72.70,577.20 L73.03,577.20 L73.36,577.20 L73.69,577.20 L74.02,577.20 L74.35,577.20 L74.68,577.20 L75.01,577.20 L75.34,577.20 L75.67,577.20 L76.00,577.20 L76.33,577.20 L76.66,577.20 L76.99,577.20 L77.32,577.20 L77.65,577.20 L77.98,577.20 L78.31,577.20 L78.64,577.20 L78.97,577.20 L79.30,577.20 L79.63,577.20 L79.96,577.20 L80.29,577.20 L80.62,577.20 L80.95,577.20 L81.28,577.20 L81.61,577.20 L81.94,577.20 L82.27,577.20 L82.60,577.20 L82.93,577.20 L83.26,577.20 L83.59,577.20 L83.92,577.20 L84.25,577.20 L84.58,577.20 L84.91,577.20 L85.24,577.20 L85.57,577.20 L85.90,577.20 L86.23,577.20 L86.56,577.20 L86.89,577.20 L87.22,577.20 L87.55,577.20 L87.88,577.20 L88.21,577.20 L88.54,577.20 L88.87,577.20 L89.20,577.20 L89.53,577.20 L89.86,577.20 L90.19,577.20 L90.52,577.20 L90.85,577.20 L91.18,577.20 L91.51,577.20 L91.84,577.20 L92.17,577.20 L92.50,577.20 L92.83,577.20 L93.16,577.20 L93.49,577.20 L93.82,577.20 L94.15,577.20 L94.48,577.20 L94.81,577.20 L95.14,577.20 L95.47,577.20 L95.80,577.20 L96.13,577.20 L96.46,577.20 L96.79,577.20 L97.12,577.20 L97.45,577.20 L97.78,577.20 L98.11,577.20 L98.44,577.20 L98.77,577.20 L99.10,577.20 L99.43,577.20 L99.76,577.20 L100.09,577.20 L100.42,577.20 L100.75,577.20 L101.08,577.20 L101.41,577.20 L101.74,577.20 L102.07,577.21 L102.40,577.21 L102.73,577.21 L103.06,577.21 L103.39,577.22 L103.72,577.22 L104.05,577.23 L104.38,577.23 L104.71,577.24 L105.04,577.25 L105.37,577.26 L105.70,577.28 L106.03,577.30 L106.36,577.32 L106.69,577.35 L107.02,577.39 L107.35,577.43 L107.68,577.48 L108.01,577.53 L108.34,577.60 L108.67,577.68 L109.00,577.76 L109.33,577.87 L109.66,577.98 L109.99,578.12 L110.32,578.27 L110.65,578.44 L110.98,578.63 L111.31,578.84 L111.64,579.07 L111.97,579.32 L112.30,579.59 L112.63,579.89 L112.96,580.22 L113.29,580.56 L113.62,580.94 L113.95,581.35 L114.28,581.80 L114.61,582.32 L114.94,582.94 L115.27,583.70 L115.60,584.67 L115.93,585.93 L116.26,587.61 L116.59,589.80 L116.92,592.63 L117.25,596.17 L117.58,600.46 L117.91,605.42 L118.24,610.89 L118.57,616.59 L118.90,622.13 L119.23,627.07 L119.56,630.96 L119.89,633.42 L120.22,634.20 L120.55,633.21 L120.88,630.56 L121.21,626.52 L121.54,621.48 L121.87,615.90 L122.20,610.21 L122.53,604.79 L122.86,599.90 L123.19,595.70 L123.52,592.25 L123.85,589.50 L124.18,587.38 L124.51,585.76 L124.84,584.54 L125.17,583.60 L125.50,582.86 L125.83,582.26 L126.16,581.75 L126.49,581.30 L126.82,580.89 L127.15,580.52 L127.48,580.17 L127.81,579.86 L128.14,579.56 L128.47,579.29 L128.80,579.04 L129.13,578.81 L129.46,578.60 L129.79,578.42 L130.12,578.25 L130.45,578.10 L130.78,577.97 L131.11,577.85 L131.44,577.75 L131.77,577.67 L132.10,577.59 L132.43,577.52 L132.76,577.47 L133.09,577.42 L133.42,577.38 L133.75,577.35 L134.08,577.32 L134.41,577.30 L134.74,577.28 L135.07,577.26 L135.40,577.25 L135.73,577.24 L136.06,577.23 L136.39,577.22 L136.72,577.22 L137.05,577.21 L137.38,577.21 L137.71,577.21 L138.04,577.21 L138.37,577.21 L138.70,577.20 L139.03,577.20 L139.36,577.20 L139.69,577.20 L140.02,577.20 L140.35,577.20 L140.68,577.20 L141.01,577.20 L141.34,577.20 L141.67,577.20 L142.00,577.20 L142.33,577.20 L142.66,577.20 L142.99,577.20 L143.32,577.20 L143.65,577.20 L143.98,577.20 L144.31,577.20 L144.64,577.20 L144.97,577.20 L145.30,577.20 L145.63,577.20 L145.96,577.20 L146.29,577.20 L146.62,577.20 L146.95,577.20 L147.28,577.20 L147.61,577.20 L147.94,577.20 L148.27,577.20 L148.60,577.20 L148.93,577.20 L149.26,577.20 L149.59,577.20 L149.92,577.20 L150.25,577.20 L150.58,577.20 L150.91,577.20 L151.24,577.20 L151.57,577.20 L151.90,577.20 L152.23,577.20 L152.56,577.20 L152.89,577.20 L153.22,577.20 L153.55,577.20 L153.88,577.20 L154.21,577.20 L154.54,577.20 L154.87,577.20 L155.20,577.20 L155.53,577.20 L155.86,577.20 L156.19,577.20 L156.52,577.20 L156.85,577.20 L157.18,577.20 L157.51,577.20 L157.84,577.20 L158.17,577.20 L158.50,577.20 L158.83,577.20 L159.16,577.20 L159.49,577.20 L159.82,577.20 L160.15,577.20 L160.48,577.20 L160.81,577.20 L161.14,577.20 L161.47,577.20 L161.80,577.20 L162.13,577.20 L162.46,577.20 L162.79,577.20 L163.12,577.20 L163.45,577.20 L163.78,577.20 L164.11,577.20 L164.44,577.20 L164.77,577.20 L165.10,577.20 L165.43,577.20 L165.76,577.20 L166.09,577.20 L166.42,577.20 L166.75,577.20 L167.08,577.20 L167.41,577.20 L167.74,577.20 L168.07,577.20 L168.40,577.20 L168.73,577.20 L169.06,577.20 L169.39,577.20 L169.72,577.20 L170.05,577.20 L170.38,577.20 L170.71,577.20 L171.04,577.20 L171.37,577.20 L171.70,577.20 L172.03,577.20 L172.36,577.20 L172.69,577.20 L173.02,577.20 L173.35,577.20 L173.68,577.20 L174.01,577.20 L174.34,577.20 L174.67,577.20 L175.00,577.20 L175.33,577.20 L175.66,577.20 L175.99,577.20 L176.32,577.20 L176.65,577.20 L176.98,577.20 L177.31,577.20 L177.64,577.20 L177.97,577.20 L178.30,577.20 L178.63,577.20 L178.96,577.20 L179.29,577.20 L179.62,577.20 L179.95,577.21 L180.28,577.21 L180.61,577.21 L180.94,577.22 L181.27,577.23 L181.60,577.24 L181.93,577.25 L182.26,577.27 L182.59,577.30 L182.92,577.33 L183.25,577.37 L183.58,577.42 L183.91,577.48 L184.24,577.55 L184.57,577.64 L184.90,577.74 L185.23,577.86 L185.56,578.00 L185.89,578.15 L186.22,578.33 L186.55,578.53 L186.88,578.80 L187.21,579.18 L187.54,579.83 L187.87,580.96 L188.20,582.88 L188.53,585.94 L188.86,590.32 L189.19,595.85 L189.52,601.84 L189.85,607.15 L190.18,610.51 L190.51,611.03 L190.84,608.54 L191.17,603.75 L191.50,597.84 L191.83,592.06 L192.16,587.25 L192.49,583.76 L192.82,581.49 L193.15,580.14 L193.48,579.36 L193.81,578.91 L194.14,578.61 L194.47,578.39 L194.80,578.21 L195.13,578.05 L195.46,577.90 L195.79,577.78 L196.12,577.67 L196.45,577.58 L196.78,577.50 L197.11,577.43 L197.44,577.38 L197.77,577.34 L198.10,577.30 L198.43,577.28 L198.76,577.26 L199.09,577.24 L199.42,577.23 L199.75,577.22 L200.08,577.21 L200.41,577.21 L200.74,577.21 L201.07,577.20 L201.40,577.20 L201.73,577.20 L202.06,577.20 L202.39,577.20 L202.72,577.20 L203.05,577.20 L203.38,577.20 L203.71,577.20 L204.04,577.20 L204.37,577.20 L204.70,577.20 L205.03,577.20 L205.36,577.20 L205.69,577.20 L206.02,577.20 L206.35,577.20 L206.68,577.20 L207.01,577.20 L207.34,577.20 L207.67,577.20 L208.00,577.20 L208.33,577.20 L208.66,577.20 L208.99,577.20 L209.32,577.20 L209.65,577.20 L209.98,577.20 L210.31,577.20 L210.64,577.20 L210.97,577.20 L211.30,577.20 L211.63,577.20 L211.96,577.20 L212.29,577.20 L212.62,577.20 L212.95,577.20 L213.28,577.20 L213.61,577.20 L213.94,577.20 L214.27,577.20 L214.60,577.20 L214.93,577.20 L215.26,577.20 L215.59,577.20 L215.92,577.20 L216.25,577.20 L216.58,577.20 L216.91,577.20 L217.24,577.20 L217.57,577.20 L217.90,577.20 L218.23,577.20 L218.56,577.20 L218.89,577.20 L219.22,577.20 L219.55,577.20 L219.88,577.20 L220.21,577.20 L220.54,577.20 L220.87,577.20 L221.20,577.20 L221.53,577.20 L221.86,577.20 L222.19,577.20 L222.52,577.20 L222.85,577.20 L223.18,577.20 L223.51,577.20 L223.84,577.20 L224.17,577.20 L224.50,577.20 L224.83,577.20 L225.16,577.20 L225.49,577.20 L225.82,577.20 L226.15,577.20 L226.48,577.20 L226.81,577.20 L227.14,577.20 L227.47,577.20 L227.80,577.20 L228.13,577.20 L228.46,577.20 L228.79,577.20 L229.12,577.20 L229.45,577.20 L229.78,577.20 L230.11,577.20 L230.44,577.20 L230.77,577.20 L231.10,577.20 L231.43,577.20 L231.76,577.20 L232.09,577.20 L232.42,577.20 L232.75,577.20 L233.08,577.20 L233.41,577.20 L233.74,577.20 L234.07,577.20 L234.40,577.20 L234.73,577.20 L235.06,577.20 L235.39,577.20 L235.72,577.20 L236.05,577.20 L236.38,577.20 L236.71,577.20 L237.04,577.20 L237.37,577.20 L237.70,577.20 L238.03,577.20 L238.36,577.20 L238.69,577.20 L239.02,577.20 L239.35,577.20 L239.68,577.20 L240.01,577.20 L240.34,577.20 L240.67,577.20 L241.00,577.20 L241.33,577.20 L241.66,577.20 L241.99,577.20 L242.32,577.20 L242.65,577.20 L242.98,577.20 L243.31,577.20 L243.64,577.20 L243.97,577.20 L244.30,577.20 L244.63,577.20 L244.96,577.20 L245.29,577.20 L245.62,577.20 L245.95,577.20 L246.28,577.20 L246.61,577.20 L246.94,577.20 L247.27,577.20 L247.60,577.20 L247.93,577.20 L248.26,577.20 L248.59,577.20 L248.92,577.20 L249.25,577.20 L249.58,577.20 L249.91,577.20 L250.24,577.20 L250.57,577.20 L250.90,577.20 L251.23,577.20 L251.56,577.20 L251.89,577.20 L252.22,577.20 L252.55,577.20 L252.88,577.20 L253.21,577.20 L253.54,577.20 L253.87,577.20 L254.20,577.20 L254.53,577.20 L254.86,577.20 L255.19,577.20 L255.52,577.20 L255.85,577.20 L256.18,577.20 L256.51,577.20 L256.84,577.20 L257.17,577.20 L257.50,577.20 L257.83,577.20 L258.16,577.20 L258.49,577.20 L258.82,577.20 L259.15,577.20 L259.48,577.20 L259.81,577.20 L260.14,577.20 L260.47,577.20 L260.80,577.20 L261.13,577.20 L261.46,577.20 L261.79,577.20 L262.12,577.20 L262.45,577.20 L262.78,577.20 L263.11,577.20 L263.44,577.20 L263.77,577.20 L264.10,577.20 L264.43,577.20 L264.76,577.20 L265.09,577.20 L265.42,577.20 L265.75,577.20 L266.08,577.20 L266.41,577.20 L266.74,577.20 L267.07,577.20 L267.40,577.20 L267.73,577.20 L268.06,577.20 L268.39,577.20 L268.72,577.20 L269.05,577.20 L269.38,577.20 L269.71,577.20 L270.04,577.20 L270.37,577.20 L270.70,577.20 L271.03,577.20 L271.36,577.20 L271.69,577.20 L272.02,577.20 L272.35,577.20 L272.68,577.20 L273.01,577.20 L273.34,577.20 L273.67,577.20 L274.00,577.20 L274.33,577.20 L274.66,577.20 L274.99,577.20 L275.32,577.20 L275.65,577.20 L275.98,577.20 L276.31,577.20 L276.64,577.20 L276.97,577.20 L277.30,577.20 L277.63,577.20 L277.96,577.20 L278.29,577.20 L278.62,577.20 L278.95,577.20 L279.28,577.20 L279.61,577.20 L279.94,577.20 L280.27,577.20 L280.60,577.20 L280.93,577.20 L281.26,577.20 L281.59,577.20 L281.92,577.20 L282.25,577.20 L282.58,577.20 L282.91,577.20 L283.24,577.20 L283.57,577.20 L283.90,577.20 L284.23,577.20 L284.56,577.20 L284.89,577.20 L285.22,577.20 L285.55,577.20 L285.88,577.20 L286.21,577.20 L286.54,577.20 L286.87,577.20 L287.20,577.20 L287.53,577.20 L287.86,577.20 L288.19,577.20 L288.52,577.20 L288.85,577.20 L289.18,577.20 L289.51,577.20 L289.84,577.20 L290.17,577.21 L290.50,577.21 L290.83,577.22 L291.16,577.22 L291.49,577.23 L291.82,577.25 L292.15,577.27 L292.48,577.29 L292.81,577.32 L293.14,577.37 L293.47,577.42 L293.80,577.48 L294.13,577.56 L294.46,577.65 L294.79,577.76 L295.12,577.88 L295.45,578.03 L295.78,578.24 L296.11,578.61 L296.44,579.33 L296.77,580.72 L297.10,583.16 L297.43,586.86 L297.76,591.58 L298.09,596.41 L298.42,599.94 L298.75,600.97 L299.08,599.09 L299.41,595.01 L299.74,590.09 L300.07,585.61 L300.40,582.29 L300.73,580.21 L301.06,579.06 L301.39,578.48 L301.72,578.17 L302.05,577.98 L302.38,577.84 L302.71,577.72 L303.04,577.62 L303.37,577.54 L303.70,577.46 L304.03,577.40 L304.36,577.35 L304.69,577.31 L305.02,577.28 L305.35,577.26 L305.68,577.24 L306.01,577.23 L306.34,577.22 L306.67,577.21 L307.00,577.21 L307.33,577.21 L307.66,577.20 L307.99,577.20 L308.32,577.20 L308.65,577.20 L308.98,577.20 L309.31,577.20 L309.64,577.20 L309.97,577.20 L310.30,577.20 L310.63,577.20 L310.96,577.20 L311.29,577.20 L311.62,577.20 L311.95,577.20 L312.28,577.20 L312.61,577.20 L312.94,577.20 L313.27,577.20 L313.60,577.20 L313.93,577.20 L314.26,577.20 L314.59,577.20 L314.92,577.20 L315.25,577.20 L315.58,577.20 L315.91,577.20 L316.24,577.20 L316.57,577.20 L316.90,577.20 L317.23,577.20 L317.56,577.20 L317.89,577.20 L318.22,577.20 L318.55,577.20 L318.88,577.20 L319.21,577.20 L319.54,577.20 L319.87,577.20 L320.20,577.20 L320.53,577.20 L320.86,577.20 L321.19,577.20 L321.52,577.20 L321.85,577.20 L322.18,577.20 L322.51,577.20 L322.84,577.20 L323.17,577.20 L323.50,577.20 L323.83,577.20 L324.16,577.20 L324.49,577.20 L324.82,577.20 L325.15,577.20 L325.48,577.20 L325.81,577.20 L326.14,577.20 L326.47,577.20 L326.80,577.20 L327.13,577.20 L327.46,577.20 L327.79,577.20 L328.12,577.20 L328.45,577.20 L328.78,577.20 L329.11,577.20 L329.44,577.20 L329.77,577.20 L330.10,577.20 L330.43,577.20 L330.76,577.20 L331.09,577.20 L331.42,577.20 L331.75,577.20 L332.08,577.20 L332.41,577.20 L332.74,577.20" fill="none" stroke="#ff0000" stroke-width="1.1" stroke-linejoin="round" stroke-dasharray="1.15 1.85" clip-path="url(#cpl)"/>
<rect x="49.60" y="479.80" width="283.40" height="194.80" fill="none" stroke="#222" stroke-width="1.2"/>
<text transform="translate(14.6,624.6) rotate(-90)" font-size="14" fill="#111" font-family="Liberation Serif, serif">Normalized flux</text>
<clipPath id="cpr"><rect x="368.3" y="479.8" width="318.99999999999994" height="194.8"/></clipPath>
<line x1="368.30" y1="577.20" x2="687.30" y2="577.20" stroke="#bdbdbd" stroke-width="0.9" />
<line x1="386.53" y1="674.60" x2="386.53" y2="669.60" stroke="#222" stroke-width="0.9" />
<line x1="386.53" y1="479.80" x2="386.53" y2="484.80" stroke="#222" stroke-width="0.9" />
<line x1="404.76" y1="674.60" x2="404.76" y2="665.20" stroke="#222" stroke-width="0.9" />
<line x1="404.76" y1="479.80" x2="404.76" y2="489.20" stroke="#222" stroke-width="0.9" />
<line x1="422.99" y1="674.60" x2="422.99" y2="669.60" stroke="#222" stroke-width="0.9" />
<line x1="422.99" y1="479.80" x2="422.99" y2="484.80" stroke="#222" stroke-width="0.9" />
<line x1="441.21" y1="674.60" x2="441.21" y2="669.60" stroke="#222" stroke-width="0.9" />
<line x1="441.21" y1="479.80" x2="441.21" y2="484.80" stroke="#222" stroke-width="0.9" />
<line x1="459.44" y1="674.60" x2="459.44" y2="669.60" stroke="#222" stroke-width="0.9" />
<line x1="459.44" y1="479.80" x2="459.44" y2="484.80" stroke="#222" stroke-width="0.9" />
<line x1="477.67" y1="674.60" x2="477.67" y2="669.60" stroke="#222" stroke-width="0.9" />
<line x1="477.67" y1="479.80" x2="477.67" y2="484.80" stroke="#222" stroke-width="0.9" />
<line x1="495.90" y1="674.60" x2="495.90" y2="665.20" stroke="#222" stroke-width="0.9" />
<line x1="495.90" y1="479.80" x2="495.90" y2="489.20" stroke="#222" stroke-width="0.9" />
<line x1="514.13" y1="674.60" x2="514.13" y2="669.60" stroke="#222" stroke-width="0.9" />
<line x1="514.13" y1="479.80" x2="514.13" y2="484.80" stroke="#222" stroke-width="0.9" />
<line x1="532.36" y1="674.60" x2="532.36" y2="669.60" stroke="#222" stroke-width="0.9" />
<line x1="532.36" y1="479.80" x2="532.36" y2="484.80" stroke="#222" stroke-width="0.9" />
<line x1="550.59" y1="674.60" x2="550.59" y2="669.60" stroke="#222" stroke-width="0.9" />
<line x1="550.59" y1="479.80" x2="550.59" y2="484.80" stroke="#222" stroke-width="0.9" />
<line x1="568.81" y1="674.60" x2="568.81" y2="669.60" stroke="#222" stroke-width="0.9" />
<line x1="568.81" y1="479.80" x2="568.81" y2="484.80" stroke="#222" stroke-width="0.9" />
<line x1="587.04" y1="674.60" x2="587.04" y2="665.20" stroke="#222" stroke-width="0.9" />
<line x1="587.04" y1="479.80" x2="587.04" y2="489.20" stroke="#222" stroke-width="0.9" />
<line x1="605.27" y1="674.60" x2="605.27" y2="669.60" stroke="#222" stroke-width="0.9" />
<line x1="605.27" y1="479.80" x2="605.27" y2="484.80" stroke="#222" stroke-width="0.9" />
<line x1="623.50" y1="674.60" x2="623.50" y2="669.60" stroke="#222" stroke-width="0.9" />
<line x1="623.50" y1="479.80" x2="623.50" y2="484.80" stroke="#222" stroke-width="0.9" />
<line x1="641.73" y1="674.60" x2="641.73" y2="669.60" stroke="#222" stroke-width="0.9" />
<line x1="641.73" y1="479.80" x2="641.73" y2="484.80" stroke="#222" stroke-width="0.9" />
<line x1="659.96" y1="674.60" x2="659.96" y2="669.60" stroke="#222" stroke-width="0.9" />
<line x1="659.96" y1="479.80" x2="659.96" y2="484.80" stroke="#222" stroke-width="0.9" />
<line x1="678.19" y1="674.60" x2="678.19" y2="665.20" stroke="#222" stroke-width="0.9" />
<line x1="678.19" y1="479.80" x2="678.19" y2="489.20" stroke="#222" stroke-width="0.9" />
<line x1="368.30" y1="642.13" x2="377.50" y2="642.13" stroke="#222" stroke-width="0.9" />
<line x1="687.30" y1="642.13" x2="678.10" y2="642.13" stroke="#222" stroke-width="0.9" />
<line x1="368.30" y1="577.20" x2="377.50" y2="577.20" stroke="#222" stroke-width="0.9" />
<line x1="687.30" y1="577.20" x2="678.10" y2="577.20" stroke="#222" stroke-width="0.9" />
<line x1="368.30" y1="512.27" x2="377.50" y2="512.27" stroke="#222" stroke-width="0.9" />
<line x1="687.30" y1="512.27" x2="678.10" y2="512.27" stroke="#222" stroke-width="0.9" />
<text x="404.76" y="690.80" font-size="14" text-anchor="middle" fill="#111" font-family="Liberation Serif, serif" >6500</text>
<text x="495.90" y="690.80" font-size="14" text-anchor="middle" fill="#111" font-family="Liberation Serif, serif" >6600</text>
<text x="587.04" y="690.80" font-size="14" text-anchor="middle" fill="#111" font-family="Liberation Serif, serif" >6700</text>
<text x="687.40" y="690.80" font-size="14" text-anchor="end" fill="#111" font-family="Liberation Serif, serif" >6800</text>
<text x="527.80" y="707.60" font-size="14" text-anchor="middle" fill="#111" font-family="Liberation Serif, serif" word-spacing="0.85">λ / Å</text>
<path d="M448.60,551.30 L448.60,540.00" fill="none" stroke="#2a2a2a" stroke-width="0.85" stroke-linejoin="miter"/>
<text transform="translate(453.80,536.30) rotate(-90) scale(0.6944,1)" font-size="13.6" fill="#111" font-family="Liberation Serif, serif" word-spacing="2.2">[N II] (neb)</text>
<path d="M462.30,551.30 L462.30,540.00" fill="none" stroke="#2a2a2a" stroke-width="0.85" stroke-linejoin="miter"/>
<text transform="translate(467.50,536.30) rotate(-90) scale(0.8438,1)" font-size="13.6" fill="#111" font-family="Liberation Serif, serif" word-spacing="0">Hα</text>
<path d="M480.40,551.30 L480.40,540.00" fill="none" stroke="#2a2a2a" stroke-width="0.85" stroke-linejoin="miter"/>
<text transform="translate(485.60,536.30) rotate(-90) scale(0.7525,1)" font-size="13.6" fill="#111" font-family="Liberation Serif, serif" word-spacing="0">C II</text>
<path d="M480.90,551.30 L480.90,546.30 L493.30,541.50 L493.30,540.00" fill="none" stroke="#2a2a2a" stroke-width="0.85" stroke-linejoin="miter"/>
<text transform="translate(498.50,536.30) rotate(-90) scale(0.6944,1)" font-size="13.6" fill="#111" font-family="Liberation Serif, serif" word-spacing="2.2">[N II] (neb)</text>
<path d="M567.30,551.30 L567.30,540.00" fill="none" stroke="#2a2a2a" stroke-width="0.85" stroke-linejoin="miter"/>
<text transform="translate(572.50,536.30) rotate(-90) scale(0.7399,1)" font-size="13.6" fill="#111" font-family="Liberation Serif, serif" word-spacing="0">He I</text>
<path d="M601.90,551.30 L601.90,546.30 L615.50,546.30 L615.50,551.30" fill="none" stroke="#2a2a2a" stroke-width="0.85" stroke-linejoin="miter"/>
<path d="M608.70,546.30 L608.70,540.00" fill="none" stroke="#2a2a2a" stroke-width="0.85" stroke-linejoin="miter"/>
<text transform="translate(613.90,536.30) rotate(-90) scale(0.7091,1)" font-size="13.6" fill="#111" font-family="Liberation Serif, serif" word-spacing="2.2">[S II] (neb)</text>
<path d="M368.30,576.90 L368.63,576.75 L368.96,576.64 L369.29,576.60 L369.62,576.60 L369.95,576.63 L370.28,576.65 L370.61,576.69 L370.94,576.72 L371.27,576.76 L371.60,576.83 L371.93,576.93 L372.26,577.07 L372.59,577.23 L372.92,577.37 L373.25,577.46 L373.58,577.49 L373.91,577.47 L374.24,577.42 L374.57,577.35 L374.90,577.30 L375.23,577.24 L375.56,577.17 L375.89,577.04 L376.22,576.90 L376.55,576.78 L376.88,576.75 L377.21,576.83 L377.54,577.02 L377.87,577.23 L378.20,577.40 L378.53,577.47 L378.86,577.44 L379.19,577.31 L379.52,577.13 L379.85,576.96 L380.18,576.86 L380.51,576.83 L380.84,576.84 L381.17,576.85 L381.50,576.81 L381.83,576.72 L382.16,576.55 L382.49,576.33 L382.82,576.12 L383.15,575.97 L383.48,575.93 L383.81,576.01 L384.14,576.19 L384.47,576.41 L384.80,576.67 L385.13,576.97 L385.46,577.26 L385.79,577.49 L386.12,577.58 L386.45,577.54 L386.78,577.43 L387.11,577.30 L387.44,577.26 L387.77,577.34 L388.10,577.55 L388.43,577.82 L388.76,578.02 L389.09,578.05 L389.42,577.88 L389.75,577.59 L390.08,577.27 L390.41,577.00 L390.74,576.83 L391.07,576.75 L391.40,576.75 L391.73,576.80 L392.06,576.84 L392.39,576.82 L392.72,576.73 L393.05,576.66 L393.38,576.67 L393.71,576.77 L394.04,576.91 L394.37,577.01 L394.70,577.04 L395.03,577.02 L395.36,577.00 L395.69,577.01 L396.02,577.07 L396.35,577.14 L396.68,577.18 L397.01,577.18 L397.34,577.12 L397.67,577.06 L398.00,577.02 L398.33,577.02 L398.66,577.07 L398.99,577.16 L399.32,577.24 L399.65,577.32 L399.98,577.42 L400.31,577.53 L400.64,577.66 L400.97,577.75 L401.30,577.77 L401.63,577.75 L401.96,577.66 L402.29,577.38 L402.62,576.79 L402.95,575.87 L403.28,575.04 L403.61,574.83 L403.94,575.38 L404.27,576.26 L404.60,576.95 L404.93,577.30 L405.26,577.37 L405.59,577.33 L405.92,577.26 L406.25,577.16 L406.58,577.02 L406.91,576.84 L407.24,576.68 L407.57,576.65 L407.90,576.81 L408.23,577.11 L408.56,577.49 L408.89,577.82 L409.22,578.07 L409.55,578.23 L409.88,578.31 L410.21,578.34 L410.54,578.35 L410.87,578.33 L411.20,578.29 L411.53,578.18 L411.86,577.98 L412.19,577.72 L412.52,577.47 L412.85,577.33 L413.18,577.35 L413.51,577.49 L413.84,577.67 L414.17,577.85 L414.50,578.01 L414.83,578.16 L415.16,578.31 L415.49,578.40 L415.82,578.39 L416.15,578.21 L416.48,577.91 L416.81,577.54 L417.14,577.21 L417.47,576.99 L417.80,576.94 L418.13,577.05 L418.46,577.26 L418.79,577.48 L419.12,577.67 L419.45,577.81 L419.78,577.93 L420.11,577.98 L420.44,577.91 L420.77,577.68 L421.10,577.33 L421.43,576.96 L421.76,576.65 L422.09,576.42 L422.42,576.28 L422.75,576.23 L423.08,576.29 L423.41,576.46 L423.74,576.72 L424.07,576.98 L424.40,577.20 L424.73,577.31 L425.06,577.25 L425.39,576.96 L425.72,576.40 L426.05,575.74 L426.38,575.38 L426.71,575.63 L427.04,576.35 L427.37,577.10 L427.70,577.54 L428.03,577.64 L428.36,577.51 L428.69,577.30 L429.02,577.11 L429.35,576.99 L429.68,576.95 L430.01,577.00 L430.34,577.12 L430.67,577.27 L431.00,577.40 L431.33,577.44 L431.66,577.40 L431.99,577.29 L432.32,577.20 L432.65,577.13 L432.98,577.08 L433.31,577.01 L433.64,576.92 L433.97,576.82 L434.30,576.76 L434.63,576.78 L434.96,576.86 L435.29,577.00 L435.62,577.16 L435.95,577.33 L436.28,577.49 L436.61,577.58 L436.94,577.56 L437.27,577.46 L437.60,577.36 L437.93,577.30 L438.26,577.28 L438.59,577.27 L438.92,577.26 L439.25,577.25 L439.58,577.28 L439.91,577.32 L440.24,577.38 L440.57,577.46 L440.90,577.54 L441.23,577.60 L441.56,577.59 L441.89,577.51 L442.22,577.40 L442.55,577.30 L442.88,577.25 L443.21,577.25 L443.54,577.27 L443.87,577.27 L444.20,577.24 L444.53,577.19 L444.86,577.13 L445.19,577.06 L445.52,576.92 L445.85,576.56 L446.18,575.80 L446.51,574.60 L446.84,573.31 L447.17,572.50 L447.50,572.68 L447.83,573.73 L448.16,575.10 L448.49,576.26 L448.82,576.98 L449.15,577.33 L449.48,577.41 L449.81,577.32 L450.14,577.15 L450.47,576.95 L450.80,576.75 L451.13,576.55 L451.46,576.39 L451.79,576.30 L452.12,576.29 L452.45,576.38 L452.78,576.48 L453.11,576.53 L453.44,576.49 L453.77,576.64 L454.10,576.91 L454.43,577.28 L454.76,577.72 L455.09,578.13 L455.42,578.78 L455.75,579.31 L456.08,579.75 L456.41,580.17 L456.74,580.58 L457.07,580.63 L457.40,580.76 L457.73,580.95 L458.06,580.76 L458.39,578.74 L458.72,573.12 L459.05,564.51 L459.38,555.45 L459.71,545.23 L460.04,532.77 L460.37,524.37 L460.70,531.33 L461.03,538.49 L461.36,547.69 L461.69,556.98 L462.02,565.09 L462.35,572.57 L462.68,578.95 L463.01,581.97 L463.34,584.98 L463.67,586.12 L464.00,585.55 L464.33,585.02 L464.66,584.08 L464.99,582.94 L465.32,581.69 L465.65,580.39 L465.98,579.65 L466.31,579.11 L466.64,578.72 L466.97,578.39 L467.30,578.07 L467.63,578.07 L467.96,578.15 L468.29,578.17 L468.62,578.10 L468.95,577.94 L469.28,577.69 L469.61,577.41 L469.94,577.13 L470.27,576.91 L470.60,576.74 L470.93,576.66 L471.26,576.70 L471.59,576.88 L471.92,577.11 L472.25,577.35 L472.58,577.54 L472.91,577.71 L473.24,577.88 L473.57,578.06 L473.90,578.28 L474.23,578.41 L474.56,578.43 L474.89,578.41 L475.22,578.37 L475.55,578.33 L475.88,578.36 L476.21,578.45 L476.54,578.58 L476.87,578.71 L477.20,578.25 L477.53,577.41 L477.86,576.55 L478.19,575.37 L478.52,573.31 L478.85,571.31 L479.18,571.69 L479.51,574.04 L479.84,576.35 L480.17,577.01 L480.50,577.25 L480.83,577.47 L481.16,577.52 L481.49,577.39 L481.82,577.26 L482.15,577.11 L482.48,576.93 L482.81,576.77 L483.14,576.64 L483.47,576.58 L483.80,576.58 L484.13,576.69 L484.46,576.92 L484.79,577.21 L485.12,577.47 L485.45,577.61 L485.78,577.59 L486.11,577.43 L486.44,577.21 L486.77,576.99 L487.10,576.86 L487.43,576.85 L487.76,576.95 L488.09,577.13 L488.42,577.32 L488.75,577.50 L489.08,577.64 L489.41,577.69 L489.74,577.68 L490.07,577.62 L490.40,577.51 L490.73,577.38 L491.06,577.26 L491.39,577.20 L491.72,577.24 L492.05,577.37 L492.38,577.51 L492.71,577.63 L493.04,577.71 L493.37,577.80 L493.70,577.93 L494.03,578.06 L494.36,578.11 L494.69,578.01 L495.02,577.79 L495.35,577.54 L495.68,577.31 L496.01,577.16 L496.34,577.09 L496.67,577.12 L497.00,577.22 L497.33,577.35 L497.66,577.46 L497.99,577.49 L498.32,577.45 L498.65,577.41 L498.98,577.40 L499.31,577.47 L499.64,577.60 L499.97,577.77 L500.30,577.96 L500.63,578.15 L500.96,578.32 L501.29,578.46 L501.62,578.54 L501.95,578.58 L502.28,578.58 L502.61,578.51 L502.94,578.33 L503.27,578.05 L503.60,577.73 L503.93,577.46 L504.26,577.35 L504.59,577.46 L504.92,577.77 L505.25,578.27 L505.58,578.95 L505.91,579.76 L506.24,580.54 L506.57,581.06 L506.90,581.12 L507.23,580.70 L507.56,579.98 L507.89,579.18 L508.22,578.49 L508.55,577.98 L508.88,577.62 L509.21,577.40 L509.54,577.28 L509.87,577.20 L510.20,577.14 L510.53,577.08 L510.86,577.01 L511.19,576.96 L511.52,576.96 L511.85,577.03 L512.18,577.17 L512.51,577.36 L512.84,577.55 L513.17,577.70 L513.50,577.79 L513.83,577.84 L514.16,577.87 L514.49,577.86 L514.82,577.74 L515.15,577.50 L515.48,577.15 L515.81,576.78 L516.14,576.49 L516.47,576.30 L516.80,576.18 L517.13,576.14 L517.46,576.18 L517.79,576.36 L518.12,576.63 L518.45,576.92 L518.78,577.10 L519.11,577.14 L519.44,577.06 L519.77,576.94 L520.10,576.84 L520.43,576.78 L520.76,576.74 L521.09,576.68 L521.42,576.59 L521.75,576.51 L522.08,576.52 L522.41,576.66 L522.74,576.89 L523.07,577.09 L523.40,577.19 L523.73,577.20 L524.06,577.18 L524.39,577.21 L524.72,577.32 L525.05,577.47 L525.38,577.57 L525.71,577.57 L526.04,577.49 L526.37,577.42 L526.70,577.45 L527.03,577.63 L527.36,577.90 L527.69,578.14 L528.02,578.28 L528.35,578.33 L528.68,578.32 L529.01,578.30 L529.34,578.24 L529.67,578.12 L530.00,577.90 L530.33,577.61 L530.66,577.36 L530.99,577.26 L531.32,577.37 L531.65,577.63 L531.98,577.91 L532.31,578.09 L532.64,578.15 L532.97,578.15 L533.30,578.13 L533.63,578.12 L533.96,578.07 L534.29,577.96 L534.62,577.79 L534.95,577.58 L535.28,577.38 L535.61,577.18 L535.94,577.00 L536.27,576.82 L536.60,576.67 L536.93,576.56 L537.26,576.51 L537.59,576.52 L537.92,576.53 L538.25,576.53 L538.58,576.54 L538.91,576.59 L539.24,576.71 L539.57,576.86 L539.90,576.96 L540.23,576.95 L540.56,576.80 L540.89,576.56 L541.22,576.33 L541.55,576.20 L541.88,576.21 L542.21,576.37 L542.54,576.67 L542.87,577.05 L543.20,577.41 L543.53,577.67 L543.86,577.76 L544.19,577.68 L544.52,577.42 L544.85,577.07 L545.18,576.73 L545.51,576.54 L545.84,576.55 L546.17,576.77 L546.50,577.09 L546.83,577.40 L547.16,577.63 L547.49,577.79 L547.82,577.91 L548.15,578.01 L548.48,578.02 L548.81,577.92 L549.14,577.70 L549.47,577.42 L549.80,577.15 L550.13,576.95 L550.46,576.85 L550.79,576.82 L551.12,576.82 L551.45,576.76 L551.78,576.61 L552.11,576.39 L552.44,576.23 L552.77,576.21 L553.10,576.35 L553.43,576.55 L553.76,576.70 L554.09,576.71 L554.42,576.62 L554.75,576.52 L555.08,576.51 L555.41,576.60 L555.74,576.75 L556.07,576.89 L556.40,576.94 L556.73,576.94 L557.06,576.92 L557.39,576.96 L557.72,577.10 L558.05,577.30 L558.38,577.50 L558.71,577.66 L559.04,577.75 L559.37,577.79 L559.70,577.81 L560.03,577.84 L560.36,577.89 L560.69,577.95 L561.02,578.02 L561.35,578.11 L561.68,578.21 L562.01,578.33 L562.34,578.45 L562.67,578.63 L563.00,578.92 L563.33,579.41 L563.66,580.17 L563.99,581.26 L564.32,582.79 L564.65,584.90 L564.98,587.68 L565.31,591.12 L565.64,595.03 L565.97,599.10 L566.30,602.88 L566.63,605.90 L566.96,607.70 L567.29,607.99 L567.62,606.68 L567.95,603.96 L568.28,600.23 L568.61,596.03 L568.94,591.86 L569.27,588.14 L569.60,585.11 L569.93,582.81 L570.26,581.15 L570.59,580.00 L570.92,579.20 L571.25,578.67 L571.58,578.34 L571.91,578.17 L572.24,578.10 L572.57,578.06 L572.90,577.98 L573.23,577.86 L573.56,577.66 L573.89,577.39 L574.22,577.05 L574.55,576.72 L574.88,576.44 L575.21,576.33 L575.54,576.37 L575.87,576.54 L576.20,576.74 L576.53,576.91 L576.86,576.98 L577.19,577.00 L577.52,576.98 L577.85,576.97 L578.18,577.01 L578.51,577.08 L578.84,577.15 L579.17,577.17 L579.50,577.16 L579.83,577.15 L580.16,577.18 L580.49,577.23 L580.82,577.28 L581.15,577.32 L581.48,577.33 L581.81,577.35 L582.14,577.36 L582.47,577.35 L582.80,577.28 L583.13,577.13 L583.46,576.91 L583.79,576.69 L584.12,576.55 L584.45,576.53 L584.78,576.60 L585.11,576.68 L585.44,576.73 L585.77,576.76 L586.10,576.79 L586.43,576.84 L586.76,576.92 L587.09,577.02 L587.42,577.15 L587.75,577.26 L588.08,577.31 L588.41,577.30 L588.74,577.23 L589.07,577.13 L589.40,577.05 L589.73,576.96 L590.06,576.88 L590.39,576.82 L590.72,576.78 L591.05,576.75 L591.38,576.74 L591.71,576.78 L592.04,576.86 L592.37,576.96 L592.70,577.03 L593.03,577.02 L593.36,576.96 L593.69,576.86 L594.02,576.78 L594.35,576.76 L594.68,576.76 L595.01,576.77 L595.34,576.76 L595.67,576.74 L596.00,576.74 L596.33,576.75 L596.66,576.79 L596.99,576.85 L597.32,576.93 L597.65,577.03 L597.98,577.12 L598.31,577.12 L598.64,576.81 L598.97,575.79 L599.30,573.68 L599.63,570.65 L599.96,567.76 L600.29,566.43 L600.62,567.42 L600.95,570.10 L601.28,573.16 L601.61,575.55 L601.94,576.98 L602.27,577.65 L602.60,577.83 L602.93,577.74 L603.26,577.56 L603.59,577.42 L603.92,577.35 L604.25,577.34 L604.58,577.35 L604.91,577.32 L605.24,577.28 L605.57,577.24 L605.90,577.23 L606.23,577.23 L606.56,577.23 L606.89,577.26 L607.22,577.33 L607.55,577.43 L607.88,577.55 L608.21,577.68 L608.54,577.81 L608.87,577.94 L609.20,578.02 L609.53,577.97 L609.86,577.79 L610.19,577.52 L610.52,577.26 L610.85,577.10 L611.18,577.10 L611.51,577.17 L611.84,577.10 L612.17,576.55 L612.50,575.23 L612.83,573.13 L613.16,570.86 L613.49,569.46 L613.82,569.71 L614.15,571.39 L614.48,573.60 L614.81,575.39 L615.14,576.40 L615.47,576.82 L615.80,576.96 L616.13,577.02 L616.46,577.08 L616.79,577.15 L617.12,577.23 L617.45,577.27 L617.78,577.25 L618.11,577.18 L618.44,577.11 L618.77,577.08 L619.10,577.12 L619.43,577.22 L619.76,577.32 L620.09,577.40 L620.42,577.47 L620.75,577.52 L621.08,577.57 L621.41,577.57 L621.74,577.48 L622.07,577.32 L622.40,577.16 L622.73,577.06 L623.06,577.05 L623.39,577.09 L623.72,577.16 L624.05,577.23 L624.38,577.30 L624.71,577.33 L625.04,577.32 L625.37,577.21 L625.70,577.03 L626.03,576.82 L626.36,576.66 L626.69,576.60 L627.02,576.64 L627.35,576.76 L627.68,576.88 L628.01,576.94 L628.34,576.93 L628.67,576.88 L629.00,576.83 L629.33,576.79 L629.66,576.75 L629.99,576.71 L630.32,576.70 L630.65,576.72 L630.98,576.79 L631.31,576.88 L631.64,576.95 L631.97,577.02 L632.30,577.07 L632.63,577.12 L632.96,577.12 L633.29,577.02 L633.62,576.82 L633.95,576.49 L634.28,576.04 L634.61,575.49 L634.94,574.99 L635.27,574.76 L635.60,574.91 L635.93,575.42 L636.26,576.06 L636.59,576.64 L636.92,577.06 L637.25,577.30 L637.58,577.40 L637.91,577.40 L638.24,577.36 L638.57,577.31 L638.90,577.25 L639.23,577.16 L639.56,577.04 L639.89,576.97 L640.22,576.98 L640.55,577.10 L640.88,577.26 L641.21,577.38 L641.54,577.43 L641.87,577.40 L642.20,577.32 L642.53,577.21 L642.86,577.13 L643.19,577.12 L643.52,577.20 L643.85,577.32 L644.18,577.39 L644.51,577.39 L644.84,577.29 L645.17,577.13 L645.50,576.94 L645.83,576.75 L646.16,576.62 L646.49,576.60 L646.82,576.69 L647.15,576.86 L647.48,577.03 L647.81,577.14 L648.14,577.20 L648.47,577.25 L648.80,577.36 L649.13,577.54 L649.46,577.76 L649.79,577.99 L650.12,578.18 L650.45,578.30 L650.78,578.36 L651.11,578.35 L651.44,578.28 L651.77,578.10 L652.10,577.79 L652.43,577.37 L652.76,576.91 L653.09,576.57 L653.42,576.44 L653.75,576.58 L654.08,576.90 L654.41,577.33 L654.74,577.74 L655.07,578.03 L655.40,578.16 L655.73,578.07 L656.06,577.83 L656.39,577.55 L656.72,577.33 L657.05,577.25 L657.38,577.28 L657.71,577.32 L658.04,577.29 L658.37,577.19 L658.70,577.10 L659.03,577.13 L659.36,577.29 L659.69,577.57 L660.02,577.87 L660.35,578.13 L660.68,578.29 L661.01,578.35 L661.34,578.32 L661.67,578.25 L662.00,578.15 L662.33,577.98 L662.66,577.75 L662.99,577.48 L663.32,577.26 L663.65,577.14 L663.98,577.10 L664.31,577.11 L664.64,577.11 L664.97,577.10 L665.30,577.08 L665.63,577.09 L665.96,577.16 L666.29,577.27 L666.62,577.38 L666.95,577.40 L667.28,577.29 L667.61,577.07 L667.94,576.81 L668.27,576.58 L668.60,576.44 L668.93,576.41 L669.26,576.52 L669.59,576.72 L669.92,576.98 L670.25,577.23 L670.58,577.40 L670.91,577.48 L671.24,577.48 L671.57,577.43 L671.90,577.38 L672.23,577.33 L672.56,577.29 L672.89,577.27 L673.22,577.28 L673.55,577.26 L673.88,577.20 L674.21,577.05 L674.54,576.83 L674.87,576.56 L675.20,576.26 L675.53,575.94 L675.86,575.65 L676.19,575.46 L676.52,575.46 L676.85,575.65 L677.18,576.01 L677.51,576.49 L677.84,577.00 L678.17,577.40 L678.50,577.63 L678.83,577.66 L679.16,577.55 L679.49,577.40 L679.82,577.24 L680.15,577.08 L680.48,576.96 L680.81,576.86 L681.14,576.83 L681.47,576.83 L681.80,576.84 L682.13,576.88 L682.46,576.97 L682.79,577.12 L683.12,577.27 L683.45,577.33 L683.78,577.21 L684.11,576.92 L684.44,576.59 L684.77,576.30 L685.10,576.14 L685.43,576.11 L685.76,576.22 L686.09,576.42 L686.42,576.64 L686.75,576.83 L687.08,576.93" fill="none" stroke="#0000ff" stroke-width="1.1" stroke-linejoin="round" clip-path="url(#cpr)"/>
<path d="M368.30,577.20 L368.63,577.20 L368.96,577.20 L369.29,577.20 L369.62,577.20 L369.95,577.20 L370.28,577.20 L370.61,577.20 L370.94,577.20 L371.27,577.20 L371.60,577.20 L371.93,577.20 L372.26,577.20 L372.59,577.20 L372.92,577.20 L373.25,577.20 L373.58,577.20 L373.91,577.20 L374.24,577.20 L374.57,577.20 L374.90,577.20 L375.23,577.20 L375.56,577.20 L375.89,577.20 L376.22,577.20 L376.55,577.20 L376.88,577.20 L377.21,577.20 L377.54,577.20 L377.87,577.20 L378.20,577.20 L378.53,577.20 L378.86,577.20 L379.19,577.20 L379.52,577.20 L379.85,577.20 L380.18,577.20 L380.51,577.20 L380.84,577.20 L381.17,577.20 L381.50,577.20 L381.83,577.20 L382.16,577.20 L382.49,577.20 L382.82,577.20 L383.15,577.20 L383.48,577.20 L383.81,577.20 L384.14,577.20 L384.47,577.20 L384.80,577.20 L385.13,577.20 L385.46,577.20 L385.79,577.20 L386.12,577.20 L386.45,577.20 L386.78,577.20 L387.11,577.20 L387.44,577.20 L387.77,577.20 L388.10,577.20 L388.43,577.20 L388.76,577.20 L389.09,577.20 L389.42,577.20 L389.75,577.20 L390.08,577.20 L390.41,577.20 L390.74,577.20 L391.07,577.20 L391.40,577.20 L391.73,577.20 L392.06,577.20 L392.39,577.20 L392.72,577.20 L393.05,577.20 L393.38,577.20 L393.71,577.20 L394.04,577.20 L394.37,577.20 L394.70,577.20 L395.03,577.20 L395.36,577.20 L395.69,577.20 L396.02,577.20 L396.35,577.20 L396.68,577.20 L397.01,577.20 L397.34,577.20 L397.67,577.20 L398.00,577.20 L398.33,577.20 L398.66,577.20 L398.99,577.20 L399.32,577.20 L399.65,577.20 L399.98,577.20 L400.31,577.20 L400.64,577.20 L400.97,577.20 L401.30,577.20 L401.63,577.20 L401.96,577.20 L402.29,577.20 L402.62,577.20 L402.95,577.20 L403.28,577.20 L403.61,577.20 L403.94,577.20 L404.27,577.20 L404.60,577.20 L404.93,577.20 L405.26,577.20 L405.59,577.20 L405.92,577.20 L406.25,577.20 L406.58,577.20 L406.91,577.20 L407.24,577.20 L407.57,577.20 L407.90,577.20 L408.23,577.20 L408.56,577.20 L408.89,577.20 L409.22,577.20 L409.55,577.20 L409.88,577.20 L410.21,577.20 L410.54,577.20 L410.87,577.20 L411.20,577.20 L411.53,577.20 L411.86,577.20 L412.19,577.20 L412.52,577.20 L412.85,577.20 L413.18,577.20 L413.51,577.20 L413.84,577.20 L414.17,577.20 L414.50,577.20 L414.83,577.20 L415.16,577.20 L415.49,577.20 L415.82,577.20 L416.15,577.20 L416.48,577.20 L416.81,577.20 L417.14,577.20 L417.47,577.20 L417.80,577.20 L418.13,577.20 L418.46,577.20 L418.79,577.20 L419.12,577.20 L419.45,577.20 L419.78,577.20 L420.11,577.20 L420.44,577.20 L420.77,577.20 L421.10,577.20 L421.43,577.20 L421.76,577.20 L422.09,577.20 L422.42,577.20 L422.75,577.20 L423.08,577.20 L423.41,577.20 L423.74,577.20 L424.07,577.20 L424.40,577.20 L424.73,577.20 L425.06,577.20 L425.39,577.20 L425.72,577.20 L426.05,577.20 L426.38,577.20 L426.71,577.20 L427.04,577.20 L427.37,577.20 L427.70,577.20 L428.03,577.20 L428.36,577.20 L428.69,577.20 L429.02,577.20 L429.35,577.20 L429.68,577.20 L430.01,577.20 L430.34,577.20 L430.67,577.20 L431.00,577.20 L431.33,577.20 L431.66,577.20 L431.99,577.20 L432.32,577.20 L432.65,577.20 L432.98,577.20 L433.31,577.20 L433.64,577.20 L433.97,577.20 L434.30,577.20 L434.63,577.20 L434.96,577.20 L435.29,577.20 L435.62,577.20 L435.95,577.20 L436.28,577.20 L436.61,577.20 L436.94,577.20 L437.27,577.20 L437.60,577.20 L437.93,577.20 L438.26,577.20 L438.59,577.20 L438.92,577.20 L439.25,577.20 L439.58,577.20 L439.91,577.20 L440.24,577.20 L440.57,577.20 L440.90,577.20 L441.23,577.20 L441.56,577.20 L441.89,577.20 L442.22,577.20 L442.55,577.21 L442.88,577.21 L443.21,577.21 L443.54,577.21 L443.87,577.21 L444.20,577.22 L444.53,577.22 L444.86,577.23 L445.19,577.23 L445.52,577.24 L445.85,577.25 L446.18,577.26 L446.51,577.27 L446.84,577.29 L447.17,577.31 L447.50,577.33 L447.83,577.36 L448.16,577.39 L448.49,577.43 L448.82,577.47 L449.15,577.52 L449.48,577.58 L449.81,577.64 L450.14,577.72 L450.47,577.80 L450.80,577.90 L451.13,578.00 L451.46,578.12 L451.79,578.26 L452.12,578.40 L452.45,578.56 L452.78,578.74 L453.11,578.93 L453.44,579.14 L453.77,579.37 L454.10,579.61 L454.43,579.87 L454.76,580.14 L455.09,580.44 L455.42,580.76 L455.75,581.12 L456.08,581.52 L456.41,581.99 L456.74,582.55 L457.07,583.24 L457.40,584.13 L457.73,585.27 L458.06,586.75 L458.39,588.63 L458.72,590.99 L459.05,593.88 L459.38,597.30 L459.71,601.20 L460.04,605.48 L460.37,609.93 L460.70,614.32 L461.03,618.36 L461.36,621.74 L461.69,624.19 L462.02,625.51 L462.35,625.57 L462.68,624.36 L463.01,622.01 L463.34,618.70 L463.67,614.71 L464.00,610.34 L464.33,605.88 L464.66,601.58 L464.99,597.64 L465.32,594.17 L465.65,591.23 L465.98,588.82 L466.31,586.90 L466.64,585.39 L466.97,584.22 L467.30,583.32 L467.63,582.60 L467.96,582.03 L468.29,581.56 L468.62,581.15 L468.95,580.79 L469.28,580.47 L469.61,580.17 L469.94,579.89 L470.27,579.63 L470.60,579.39 L470.93,579.16 L471.26,578.95 L471.59,578.76 L471.92,578.58 L472.25,578.43 L472.58,578.30 L472.91,578.21 L473.24,578.20 L473.57,578.31 L473.90,578.59 L474.23,579.06 L474.56,579.68 L474.89,580.34 L475.22,580.86 L475.55,581.07 L475.88,580.89 L476.21,580.35 L476.54,579.62 L476.87,578.88 L477.20,578.27 L477.53,577.88 L477.86,577.73 L478.19,577.80 L478.52,578.08 L478.85,578.51 L479.18,578.97 L479.51,579.32 L479.84,579.42 L480.17,579.24 L480.50,578.84 L480.83,578.35 L481.16,577.91 L481.49,577.58 L481.82,577.38 L482.15,577.28 L482.48,577.23 L482.81,577.21 L483.14,577.20 L483.47,577.20 L483.80,577.20 L484.13,577.20 L484.46,577.20 L484.79,577.20 L485.12,577.20 L485.45,577.20 L485.78,577.20 L486.11,577.20 L486.44,577.20 L486.77,577.20 L487.10,577.20 L487.43,577.20 L487.76,577.20 L488.09,577.20 L488.42,577.20 L488.75,577.20 L489.08,577.20 L489.41,577.20 L489.74,577.20 L490.07,577.20 L490.40,577.20 L490.73,577.20 L491.06,577.20 L491.39,577.20 L491.72,577.20 L492.05,577.20 L492.38,577.20 L492.71,577.20 L493.04,577.20 L493.37,577.20 L493.70,577.20 L494.03,577.20 L494.36,577.20 L494.69,577.20 L495.02,577.20 L495.35,577.20 L495.68,577.20 L496.01,577.20 L496.34,577.20 L496.67,577.20 L497.00,577.20 L497.33,577.20 L497.66,577.20 L497.99,577.20 L498.32,577.20 L498.65,577.20 L498.98,577.20 L499.31,577.20 L499.64,577.20 L499.97,577.20 L500.30,577.20 L500.63,577.20 L500.96,577.20 L501.29,577.20 L501.62,577.20 L501.95,577.20 L502.28,577.20 L502.61,577.20 L502.94,577.20 L503.27,577.20 L503.60,577.20 L503.93,577.20 L504.26,577.20 L504.59,577.20 L504.92,577.20 L505.25,577.20 L505.58,577.20 L505.91,577.20 L506.24,577.20 L506.57,577.20 L506.90,577.20 L507.23,577.20 L507.56,577.20 L507.89,577.20 L508.22,577.20 L508.55,577.20 L508.88,577.20 L509.21,577.20 L509.54,577.20 L509.87,577.20 L510.20,577.20 L510.53,577.20 L510.86,577.20 L511.19,577.20 L511.52,577.20 L511.85,577.20 L512.18,577.20 L512.51,577.20 L512.84,577.20 L513.17,577.20 L513.50,577.20 L513.83,577.20 L514.16,577.20 L514.49,577.20 L514.82,577.20 L515.15,577.20 L515.48,577.20 L515.81,577.20 L516.14,577.20 L516.47,577.20 L516.80,577.20 L517.13,577.20 L517.46,577.20 L517.79,577.20 L518.12,577.20 L518.45,577.20 L518.78,577.20 L519.11,577.20 L519.44,577.20 L519.77,577.20 L520.10,577.20 L520.43,577.20 L520.76,577.20 L521.09,577.20 L521.42,577.20 L521.75,577.20 L522.08,577.20 L522.41,577.20 L522.74,577.20 L523.07,577.20 L523.40,577.20 L523.73,577.20 L524.06,577.20 L524.39,577.20 L524.72,577.20 L525.05,577.20 L525.38,577.20 L525.71,577.20 L526.04,577.20 L526.37,577.20 L526.70,577.20 L527.03,577.20 L527.36,577.20 L527.69,577.20 L528.02,577.20 L528.35,577.20 L528.68,577.20 L529.01,577.20 L529.34,577.20 L529.67,577.20 L530.00,577.20 L530.33,577.20 L530.66,577.20 L530.99,577.20 L531.32,577.20 L531.65,577.20 L531.98,577.20 L532.31,577.20 L532.64,577.20 L532.97,577.20 L533.30,577.20 L533.63,577.20 L533.96,577.20 L534.29,577.20 L534.62,577.20 L534.95,577.20 L535.28,577.20 L535.61,577.20 L535.94,577.20 L536.27,577.20 L536.60,577.20 L536.93,577.20 L537.26,577.20 L537.59,577.20 L537.92,577.20 L538.25,577.20 L538.58,577.20 L538.91,577.20 L539.24,577.20 L539.57,577.20 L539.90,577.20 L540.23,577.20 L540.56,577.20 L540.89,577.20 L541.22,577.20 L541.55,577.20 L541.88,577.20 L542.21,577.20 L542.54,577.20 L542.87,577.20 L543.20,577.20 L543.53,577.20 L543.86,577.20 L544.19,577.20 L544.52,577.20 L544.85,577.20 L545.18,577.20 L545.51,577.20 L545.84,577.20 L546.17,577.20 L546.50,577.20 L546.83,577.20 L547.16,577.20 L547.49,577.20 L547.82,577.20 L548.15,577.20 L548.48,577.20 L548.81,577.20 L549.14,577.20 L549.47,577.20 L549.80,577.20 L550.13,577.20 L550.46,577.20 L550.79,577.20 L551.12,577.20 L551.45,577.20 L551.78,577.20 L552.11,577.20 L552.44,577.20 L552.77,577.20 L553.10,577.20 L553.43,577.20 L553.76,577.20 L554.09,577.20 L554.42,577.20 L554.75,577.20 L555.08,577.21 L555.41,577.21 L555.74,577.21 L556.07,577.22 L556.40,577.22 L556.73,577.23 L557.06,577.24 L557.39,577.25 L557.72,577.27 L558.05,577.29 L558.38,577.32 L558.71,577.35 L559.04,577.40 L559.37,577.45 L559.70,577.51 L560.03,577.58 L560.36,577.66 L560.69,577.76 L561.02,577.87 L561.35,578.00 L561.68,578.14 L562.01,578.30 L562.34,578.48 L562.67,578.70 L563.00,578.99 L563.33,579.40 L563.66,580.02 L563.99,581.00 L564.32,582.56 L564.65,584.91 L564.98,588.29 L565.31,592.77 L565.64,598.23 L565.97,604.26 L566.30,610.15 L566.63,615.01 L566.96,618.02 L567.29,618.60 L567.62,616.65 L567.95,612.54 L568.28,607.01 L568.61,600.94 L568.94,595.15 L569.27,590.19 L569.60,586.31 L569.93,583.51 L570.26,581.62 L570.59,580.41 L570.92,579.64 L571.25,579.16 L571.58,578.82 L571.91,578.58 L572.24,578.38 L572.57,578.21 L572.90,578.06 L573.23,577.92 L573.56,577.81 L573.89,577.70 L574.22,577.61 L574.55,577.54 L574.88,577.47 L575.21,577.42 L575.54,577.37 L575.87,577.33 L576.20,577.30 L576.53,577.28 L576.86,577.26 L577.19,577.25 L577.52,577.23 L577.85,577.23 L578.18,577.22 L578.51,577.21 L578.84,577.21 L579.17,577.21 L579.50,577.20 L579.83,577.20 L580.16,577.20 L580.49,577.20 L580.82,577.20 L581.15,577.20 L581.48,577.20 L581.81,577.20 L582.14,577.20 L582.47,577.20 L582.80,577.20 L583.13,577.20 L583.46,577.20 L583.79,577.20 L584.12,577.20 L584.45,577.20 L584.78,577.20 L585.11,577.20 L585.44,577.20 L585.77,577.20 L586.10,577.20 L586.43,577.20 L586.76,577.20 L587.09,577.20 L587.42,577.20 L587.75,577.20 L588.08,577.20 L588.41,577.20 L588.74,577.20 L589.07,577.20 L589.40,577.20 L589.73,577.20 L590.06,577.20 L590.39,577.20 L590.72,577.20 L591.05,577.20 L591.38,577.20 L591.71,577.20 L592.04,577.20 L592.37,577.20 L592.70,577.20 L593.03,577.20 L593.36,577.20 L593.69,577.20 L594.02,577.20 L594.35,577.20 L594.68,577.20 L595.01,577.20 L595.34,577.20 L595.67,577.20 L596.00,577.20 L596.33,577.20 L596.66,577.20 L596.99,577.20 L597.32,577.20 L597.65,577.20 L597.98,577.20 L598.31,577.20 L598.64,577.20 L598.97,577.20 L599.30,577.20 L599.63,577.20 L599.96,577.20 L600.29,577.20 L600.62,577.20 L600.95,577.20 L601.28,577.20 L601.61,577.20 L601.94,577.20 L602.27,577.20 L602.60,577.20 L602.93,577.20 L603.26,577.20 L603.59,577.20 L603.92,577.20 L604.25,577.20 L604.58,577.20 L604.91,577.20 L605.24,577.20 L605.57,577.20 L605.90,577.20 L606.23,577.20 L606.56,577.20 L606.89,577.20 L607.22,577.20 L607.55,577.20 L607.88,577.20 L608.21,577.20 L608.54,577.20 L608.87,577.20 L609.20,577.20 L609.53,577.20 L609.86,577.20 L610.19,577.20 L610.52,577.20 L610.85,577.20 L611.18,577.20 L611.51,577.20 L611.84,577.20 L612.17,577.20 L612.50,577.20 L612.83,577.20 L613.16,577.20 L613.49,577.20 L613.82,577.20 L614.15,577.20 L614.48,577.20 L614.81,577.20 L615.14,577.20 L615.47,577.20 L615.80,577.20 L616.13,577.20 L616.46,577.20 L616.79,577.20 L617.12,577.20 L617.45,577.20 L617.78,577.20 L618.11,577.20 L618.44,577.20 L618.77,577.20 L619.10,577.20 L619.43,577.20 L619.76,577.20 L620.09,577.20 L620.42,577.20 L620.75,577.20 L621.08,577.20 L621.41,577.20 L621.74,577.20 L622.07,577.20 L622.40,577.20 L622.73,577.20 L623.06,577.20 L623.39,577.20 L623.72,577.20 L624.05,577.20 L624.38,577.20 L624.71,577.20 L625.04,577.20 L625.37,577.20 L625.70,577.20 L626.03,577.20 L626.36,577.20 L626.69,577.20 L627.02,577.20 L627.35,577.20 L627.68,577.20 L628.01,577.20 L628.34,577.20 L628.67,577.20 L629.00,577.20 L629.33,577.20 L629.66,577.20 L629.99,577.20 L630.32,577.20 L630.65,577.20 L630.98,577.20 L631.31,577.20 L631.64,577.20 L631.97,577.20 L632.30,577.20 L632.63,577.20 L632.96,577.20 L633.29,577.20 L633.62,577.20 L633.95,577.20 L634.28,577.20 L634.61,577.20 L634.94,577.20 L635.27,577.20 L635.60,577.20 L635.93,577.20 L636.26,577.20 L636.59,577.20 L636.92,577.20 L637.25,577.20 L637.58,577.20 L637.91,577.20 L638.24,577.20 L638.57,577.20 L638.90,577.20 L639.23,577.20 L639.56,577.20 L639.89,577.20 L640.22,577.20 L640.55,577.20 L640.88,577.20 L641.21,577.20 L641.54,577.20 L641.87,577.20 L642.20,577.20 L642.53,577.20 L642.86,577.20 L643.19,577.20 L643.52,577.20 L643.85,577.20 L644.18,577.20 L644.51,577.20 L644.84,577.20 L645.17,577.20 L645.50,577.20 L645.83,577.20 L646.16,577.20 L646.49,577.20 L646.82,577.20 L647.15,577.20 L647.48,577.20 L647.81,577.20 L648.14,577.20 L648.47,577.20 L648.80,577.20 L649.13,577.20 L649.46,577.20 L649.79,577.20 L650.12,577.20 L650.45,577.20 L650.78,577.20 L651.11,577.20 L651.44,577.20 L651.77,577.20 L652.10,577.20 L652.43,577.20 L652.76,577.20 L653.09,577.20 L653.42,577.20 L653.75,577.20 L654.08,577.20 L654.41,577.20 L654.74,577.20 L655.07,577.20 L655.40,577.20 L655.73,577.20 L656.06,577.20 L656.39,577.20 L656.72,577.20 L657.05,577.20 L657.38,577.20 L657.71,577.20 L658.04,577.20 L658.37,577.20 L658.70,577.20 L659.03,577.20 L659.36,577.20 L659.69,577.20 L660.02,577.20 L660.35,577.20 L660.68,577.20 L661.01,577.20 L661.34,577.20 L661.67,577.20 L662.00,577.20 L662.33,577.20 L662.66,577.20 L662.99,577.20 L663.32,577.20 L663.65,577.20 L663.98,577.20 L664.31,577.20 L664.64,577.20 L664.97,577.20 L665.30,577.20 L665.63,577.20 L665.96,577.20 L666.29,577.20 L666.62,577.20 L666.95,577.20 L667.28,577.20 L667.61,577.20 L667.94,577.20 L668.27,577.20 L668.60,577.20 L668.93,577.20 L669.26,577.20 L669.59,577.20 L669.92,577.20 L670.25,577.20 L670.58,577.20 L670.91,577.20 L671.24,577.20 L671.57,577.20 L671.90,577.20 L672.23,577.20 L672.56,577.20 L672.89,577.20 L673.22,577.20 L673.55,577.20 L673.88,577.20 L674.21,577.20 L674.54,577.20 L674.87,577.20 L675.20,577.20 L675.53,577.20 L675.86,577.20 L676.19,577.20 L676.52,577.20 L676.85,577.20 L677.18,577.20 L677.51,577.20 L677.84,577.20 L678.17,577.20 L678.50,577.20 L678.83,577.20 L679.16,577.20 L679.49,577.20 L679.82,577.20 L680.15,577.20 L680.48,577.20 L680.81,577.20 L681.14,577.20 L681.47,577.20 L681.80,577.20 L682.13,577.20 L682.46,577.20 L682.79,577.20 L683.12,577.20 L683.45,577.20 L683.78,577.20 L684.11,577.20 L684.44,577.20 L684.77,577.20 L685.10,577.20 L685.43,577.20 L685.76,577.20 L686.09,577.20 L686.42,577.20 L686.75,577.20 L687.08,577.20" fill="none" stroke="#ff0000" stroke-width="1.1" stroke-linejoin="round" stroke-dasharray="1.15 1.85" clip-path="url(#cpr)"/>
<rect x="368.30" y="479.80" width="319.00" height="194.80" fill="none" stroke="#222" stroke-width="1.2"/>
</g>
</svg></body></html>
